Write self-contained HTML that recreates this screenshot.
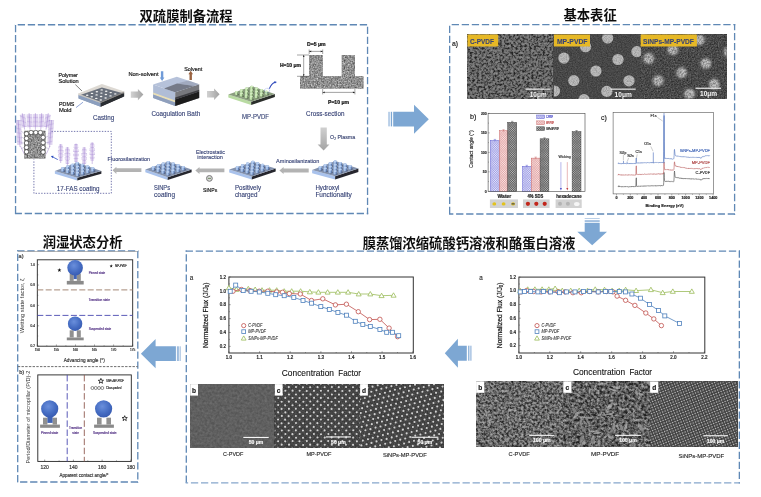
<!DOCTYPE html>
<html lang="zh"><head><meta charset="utf-8"><title>双疏膜制备流程</title>
<style>
html,body{margin:0;padding:0;background:#fff;}
body{width:761px;height:497px;overflow:hidden;position:relative;}
svg{position:absolute;left:0;top:0;display:block;}
text{font-family:"Liberation Sans","Noto Sans CJK SC",sans-serif;}
</style></head><body>
<svg width="761" height="497" viewBox="0 0 761 497">
<defs>
<filter id="tb2" x="-2%" y="-2%" width="104%" height="104%"><feGaussianBlur stdDeviation="0.25"/></filter>
<filter id="tb" x="-5%" y="-20%" width="110%" height="140%"><feGaussianBlur stdDeviation="0.3"/></filter>
<linearGradient id="gg" x1="0" y1="0" x2="1" y2="0"><stop offset="0" stop-color="#d2d2d2"/><stop offset="1" stop-color="#a2a2a2"/></linearGradient>
<linearGradient id="ggd" x1="0" y1="0" x2="0" y2="1"><stop offset="0" stop-color="#d0d0d0"/><stop offset="1" stop-color="#a4a4a4"/></linearGradient>
<filter id="nz" x="0" y="0" width="100%" height="100%" color-interpolation-filters="sRGB"><feTurbulence type="fractalNoise" baseFrequency="0.7" numOctaves="2" seed="3"/><feColorMatrix type="matrix" values="0.7 0 0 0 0.21  0.7 0 0 0 0.21  0.7 0 0 0 0.21  0 0 0 0 1"/><feGaussianBlur stdDeviation="0.4"/><feComposite operator="in" in2="SourceGraphic"/></filter>
<filter id="b3"><feGaussianBlur stdDeviation="0.35"/></filter>
<filter id="s1" x="0" y="0" width="100%" height="100%" color-interpolation-filters="sRGB"><feTurbulence type="fractalNoise" baseFrequency="0.44" numOctaves="3" seed="5"/><feColorMatrix type="matrix" values="1 0 0 0 0  1 0 0 0 0  1 0 0 0 0  0 0 0 0 1"/><feComponentTransfer><feFuncR type="table" tableValues="0.12 0.12 0.15 0.27 0.4 0.47 0.52 0.56 0.6"/><feFuncG type="table" tableValues="0.12 0.12 0.15 0.27 0.4 0.47 0.52 0.56 0.6"/><feFuncB type="table" tableValues="0.12 0.12 0.15 0.27 0.4 0.47 0.52 0.56 0.6"/></feComponentTransfer><feGaussianBlur stdDeviation="0.4"/></filter>
<filter id="s2" x="0" y="0" width="100%" height="100%" color-interpolation-filters="sRGB"><feTurbulence type="fractalNoise" baseFrequency="0.8" numOctaves="2" seed="8"/><feColorMatrix type="matrix" values="0.22 0 0 0 0.170  0.22 0 0 0 0.170  0.22 0 0 0 0.170  0 0 0 0 1"/><feGaussianBlur stdDeviation="0.35"/></filter>
<filter id="s3" x="0" y="0" width="100%" height="100%" color-interpolation-filters="sRGB"><feTurbulence type="fractalNoise" baseFrequency="0.7" numOctaves="2" seed="11"/><feColorMatrix type="matrix" values="0.4 0 0 0 0.085  0.4 0 0 0 0.085  0.4 0 0 0 0.085  0 0 0 0 1"/><feGaussianBlur stdDeviation="0.35"/></filter>
<filter id="cn" x="0" y="0" width="100%" height="100%" color-interpolation-filters="sRGB"><feTurbulence type="fractalNoise" baseFrequency="0.8" numOctaves="2" seed="4"/><feColorMatrix type="matrix" values="0 0 0 0 0.3  0 0 0 0 0.3  0 0 0 0 0.3  0.8 0 0 0 -0.3"/><feComposite operator="in" in2="SourceGraphic"/></filter>
<filter id="cn3" x="0" y="0" width="100%" height="100%" color-interpolation-filters="sRGB"><feTurbulence type="fractalNoise" baseFrequency="0.6" numOctaves="2" seed="9"/><feColorMatrix type="matrix" values="0 0 0 0 0.25  0 0 0 0 0.25  0 0 0 0 0.25  1.4 0 0 0 -0.5"/><feComposite operator="in" in2="SourceGraphic"/></filter>
<filter id="bl1" x="-30%" y="-30%" width="160%" height="160%"><feGaussianBlur stdDeviation="0.5"/></filter>
<filter id="bl2" x="-30%" y="-30%" width="160%" height="160%"><feGaussianBlur stdDeviation="1.1"/></filter>
<filter id="bl0" x="-10%" y="-10%" width="120%" height="120%"><feGaussianBlur stdDeviation="0.3"/></filter>
<clipPath id="c2"><rect x="553.9" y="34.5" width="87.0" height="64.4"/></clipPath>
<clipPath id="c3"><rect x="640.9" y="34.5" width="85.70000000000005" height="64.4"/></clipPath>
<pattern id="hb" width="1.6" height="1.6" patternUnits="userSpaceOnUse" patternTransform="rotate(45)"><rect width="1.6" height="1.6" fill="#ebebfb"/><path d="M0 0.4H1.6M0.4 0V1.6" stroke="#8080dc" stroke-width="0.4"/></pattern>
<pattern id="hr" width="1.6" height="1.6" patternUnits="userSpaceOnUse" patternTransform="rotate(45)"><rect width="1.6" height="1.6" fill="#fbecec"/><path d="M0 0.4H1.6M0.4 0V1.6" stroke="#d88888" stroke-width="0.4"/></pattern>
<pattern id="hg" width="1.6" height="1.6" patternUnits="userSpaceOnUse" patternTransform="rotate(45)"><rect width="1.6" height="1.6" fill="#bdbdbd"/><path d="M0 0.4H1.6M0.4 0V1.6" stroke="#4a4a4a" stroke-width="0.5"/></pattern>
<radialGradient id="dg" cx="0.42" cy="0.36" r="0.7"><stop offset="0" stop-color="#6a8fdc"/><stop offset="0.6" stop-color="#456cc2"/><stop offset="1" stop-color="#3558ae"/></radialGradient>
<filter id="blw" x="-10%" y="-10%" width="120%" height="120%"><feGaussianBlur stdDeviation="0.35"/></filter>
<filter id="blm" x="-10%" y="-10%" width="120%" height="120%"><feGaussianBlur stdDeviation="0.3"/></filter>
<filter id="m1" x="0" y="0" width="100%" height="100%" color-interpolation-filters="sRGB"><feTurbulence type="fractalNoise" baseFrequency="0.4" numOctaves="2" seed="21"/><feColorMatrix type="matrix" values="0.16 0 0 0 0.295  0.16 0 0 0 0.295  0.16 0 0 0 0.295  0 0 0 0 1"/><feGaussianBlur stdDeviation="0.4"/></filter>
<filter id="m2" x="0" y="0" width="100%" height="100%" color-interpolation-filters="sRGB"><feTurbulence type="fractalNoise" baseFrequency="0.7" numOctaves="2" seed="22"/><feColorMatrix type="matrix" values="0.22 0 0 0 0.160  0.22 0 0 0 0.160  0.22 0 0 0 0.160  0 0 0 0 1"/><feGaussianBlur stdDeviation="0.3"/></filter>
<filter id="m4" x="0" y="0" width="100%" height="100%" color-interpolation-filters="sRGB"><feTurbulence type="fractalNoise" baseFrequency="0.42" numOctaves="3" seed="25"/><feColorMatrix type="matrix" values="1 0 0 0 0  1 0 0 0 0  1 0 0 0 0  0 0 0 0 1"/><feComponentTransfer><feFuncR type="table" tableValues="0.13 0.13 0.17 0.28 0.41 0.53 0.62 0.68 0.7"/><feFuncG type="table" tableValues="0.13 0.13 0.17 0.28 0.41 0.53 0.62 0.68 0.7"/><feFuncB type="table" tableValues="0.13 0.13 0.17 0.28 0.41 0.53 0.62 0.68 0.7"/></feComponentTransfer><feGaussianBlur stdDeviation="0.4"/></filter>
<filter id="m5" x="0" y="0" width="100%" height="100%" color-interpolation-filters="sRGB"><feTurbulence type="fractalNoise" baseFrequency="0.36" numOctaves="3" seed="27"/><feColorMatrix type="matrix" values="1 0 0 0 0  1 0 0 0 0  1 0 0 0 0  0 0 0 0 1"/><feComponentTransfer><feFuncR type="table" tableValues="0.1 0.1 0.13 0.24 0.37 0.5 0.62 0.7 0.72"/><feFuncG type="table" tableValues="0.1 0.1 0.13 0.24 0.37 0.5 0.62 0.7 0.72"/><feFuncB type="table" tableValues="0.1 0.1 0.13 0.24 0.37 0.5 0.62 0.7 0.72"/></feComponentTransfer><feGaussianBlur stdDeviation="0.4"/></filter>
<filter id="m6" x="0" y="0" width="100%" height="100%" color-interpolation-filters="sRGB"><feTurbulence type="fractalNoise" baseFrequency="0.8" numOctaves="2" seed="29"/><feColorMatrix type="matrix" values="0.2 0 0 0 0.180  0.2 0 0 0 0.180  0.2 0 0 0 0.180  0 0 0 0 1"/><feGaussianBlur stdDeviation="0.3"/></filter>
<clipPath id="r10"><rect x="190.2" y="384.1" width="84.6" height="63.8"/></clipPath>
<clipPath id="r11"><rect x="274.8" y="384.1" width="85.3" height="63.8"/></clipPath>
<clipPath id="r12"><rect x="360.1" y="384.1" width="83.8" height="63.8"/></clipPath>
<clipPath id="r20"><rect x="476.1" y="381.4" width="87.2" height="65.0"/></clipPath>
<clipPath id="r21"><rect x="563.3" y="381.4" width="86.8" height="65.0"/></clipPath>
<clipPath id="r22"><rect x="650.1" y="381.4" width="87.0" height="65.0"/></clipPath>
</defs>
<g filter="url(#tb2)">
<path d="M14.90 24.75H368.20" fill="none" stroke="#5f88b5" stroke-width="1.3" stroke-dasharray="7.3 2.76" stroke-dashoffset="7.22"/>
<path d="M15.55 24.10V214.15" fill="none" stroke="#5f88b5" stroke-width="1.3" stroke-dasharray="7.3 2.76" stroke-dashoffset="9.19"/>
<path d="M367.55 24.10V214.15" fill="none" stroke="#5f88b5" stroke-width="1.3" stroke-dasharray="7.3 2.76" stroke-dashoffset="7.51"/>
<path d="M14.90 213.5H368.20" fill="none" stroke="#5f88b5" stroke-width="1.3" stroke-dasharray="7.3 2.76" stroke-dashoffset="0.26"/>
<path d="M449.00 24.7H735.25" fill="none" stroke="#5f88b5" stroke-width="1.3" stroke-dasharray="7.3 2.76" stroke-dashoffset="7.39"/>
<path d="M449.65 24.05V214.65" fill="none" stroke="#5f88b5" stroke-width="1.3" stroke-dasharray="7.3 2.76" stroke-dashoffset="8.41"/>
<path d="M734.6 24.05V214.65" fill="none" stroke="#5f88b5" stroke-width="1.3" stroke-dasharray="7.3 2.76" stroke-dashoffset="1.21"/>
<path d="M449.00 214.0H735.25" fill="none" stroke="#5f88b5" stroke-width="1.3" stroke-dasharray="7.3 2.76" stroke-dashoffset="2.96"/>
<path d="M185.65 251.1H740.00" fill="none" stroke="#5f88b5" stroke-width="1.3" stroke-dasharray="7.3 2.76" stroke-dashoffset="0.00"/>
<path d="M186.3 250.45V483.45" fill="none" stroke="#5f88b5" stroke-width="1.3" stroke-dasharray="7.3 2.76" stroke-dashoffset="6.21"/>
<path d="M739.35 250.45V483.45" fill="none" stroke="#5f88b5" stroke-width="1.3" stroke-dasharray="7.3 2.76" stroke-dashoffset="10.01"/>
<path d="M185.65 482.8H740.00" fill="none" stroke="#86a6cc" stroke-width="1.3" stroke-dasharray="7.3 2.76" stroke-dashoffset="4.81"/>
<path d="M17.05 250.8H138.45" fill="none" stroke="#5f88b5" stroke-width="1.3" stroke-dasharray="7.3 2.76" stroke-dashoffset="9.86"/>
<path d="M17.7 250.15V482.65" fill="none" stroke="#5f88b5" stroke-width="1.3" stroke-dasharray="7.3 2.76" stroke-dashoffset="6.51"/>
<path d="M137.8 250.15V482.65" fill="none" stroke="#5f88b5" stroke-width="1.3" stroke-dasharray="7.3 2.76" stroke-dashoffset="9.31"/>
<path d="M17.05 482.0H138.45" fill="none" stroke="#5f88b5" stroke-width="1.3" stroke-dasharray="7.3 2.76" stroke-dashoffset="7.05"/>
</g>
<g filter="url(#tb)">
<text x="186.1" y="20.6" text-anchor="middle" style="font-family:'Liberation Sans','Noto Sans CJK SC',sans-serif;font-weight:700;font-size:13.3px;fill:#111">双疏膜制备流程</text>
<text x="590.1" y="19.8" text-anchor="middle" style="font-family:'Liberation Sans','Noto Sans CJK SC',sans-serif;font-weight:700;font-size:13.3px;fill:#111">基本表征</text>
<text x="82.6" y="247" text-anchor="middle" style="font-family:'Liberation Sans','Noto Sans CJK SC',sans-serif;font-weight:700;font-size:13.3px;fill:#111">润湿状态分析</text>
<text x="469" y="247.6" text-anchor="middle" style="font-family:'Liberation Sans','Noto Sans CJK SC',sans-serif;font-weight:700;font-size:13.3px;fill:#111">膜蒸馏浓缩硫酸钙溶液和酪蛋白溶液</text>
</g>
<rect x="388.1" y="111.8" width="2.3" height="14.6" fill="#b9cfe8"/>
<rect x="391" y="111.8" width="1.1" height="14.6" fill="#7da7d3"/>
<path d="M393.2 111.8H414V104.7L428.8 119.2L414 133.7V126.4H393.2Z" fill="#7da7d3"/>
<rect x="584.7" y="218.2" width="15" height="0.8" fill="#a9c4e2"/>
<rect x="584.7" y="220.1" width="15" height="2.2" fill="#a3c0e0"/>
<path d="M584.7 222.9H599.7V231.8H607L592.2 245.2L577.3 231.8H584.7Z" fill="#7da7d3"/>
<path d="M466.8 345.7H457.9V338.7L444.8 353.2L457.9 367.7V360.7H466.8Z" fill="#7da7d3"/>
<rect x="468.2" y="345.7" width="1.1" height="15" fill="#7da7d3"/>
<rect x="469.7" y="345.7" width="2" height="15" fill="#b4cbe6"/>
<path d="M175.9 346.3H155.6V339.1L140.9 353.8L155.6 368.3V361H175.9Z" fill="#7da7d3"/>
<rect x="176.9" y="346.3" width="2" height="14.7" fill="#9dbbdd"/>
<rect x="179.6" y="346.3" width="1.1" height="14.7" fill="#9dbbdd"/>
<g filter="url(#b3)">
<polygon points="78.3,93.5 101.9,83.9 124.2,91.5 124.2,93.1 100.6,101.8 78.3,95.1" fill="#dcd8d2" />
<polygon points="79.5,95.2 100.6,103.1 100.6,106.7 79.5,98.8" fill="#8c9fbe" />
<polygon points="100.6,103.1 123.0,93.2 123.0,96.8 100.6,106.7" fill="#2c2d31" />
<polygon points="79.5,95.2 101.9,87.5 123.0,93.2 100.6,103.1" fill="#565e6d" />
<ellipse cx="101.7" cy="89.9" rx="1.3" ry="0.7" fill="#f4f4f4"/>
<ellipse cx="106.2" cy="91.3" rx="1.3" ry="0.7" fill="#f4f4f4"/>
<ellipse cx="96.9" cy="91.7" rx="1.3" ry="0.7" fill="#f4f4f4"/>
<ellipse cx="110.7" cy="92.6" rx="1.3" ry="0.7" fill="#f4f4f4"/>
<ellipse cx="101.4" cy="93.1" rx="1.3" ry="0.7" fill="#f4f4f4"/>
<ellipse cx="92.0" cy="93.4" rx="1.3" ry="0.7" fill="#f4f4f4"/>
<ellipse cx="115.3" cy="93.9" rx="1.3" ry="0.7" fill="#f4f4f4"/>
<ellipse cx="105.9" cy="94.5" rx="1.3" ry="0.7" fill="#f4f4f4"/>
<ellipse cx="96.6" cy="94.9" rx="1.3" ry="0.7" fill="#f4f4f4"/>
<ellipse cx="87.2" cy="95.2" rx="1.3" ry="0.7" fill="#f4f4f4"/>
<ellipse cx="110.5" cy="95.9" rx="1.3" ry="0.7" fill="#f4f4f4"/>
<ellipse cx="101.1" cy="96.5" rx="1.3" ry="0.7" fill="#f4f4f4"/>
<ellipse cx="91.8" cy="96.8" rx="1.3" ry="0.7" fill="#f4f4f4"/>
<ellipse cx="105.6" cy="98.0" rx="1.3" ry="0.7" fill="#f4f4f4"/>
<ellipse cx="96.3" cy="98.4" rx="1.3" ry="0.7" fill="#f4f4f4"/>
<ellipse cx="100.8" cy="100.0" rx="1.3" ry="0.7" fill="#f4f4f4"/>
<polygon points="78.3,95.0 79.5,95.2 100.6,103.1 100.6,106.7 78.3,98.6" fill="#8c9fbe" />
<polygon points="124.2,93.0 123.0,93.2 100.6,103.1 100.6,106.7 124.2,96.6" fill="#2c2d31" />
<polygon points="78.3,93.5 101.9,83.9 124.2,91.5 100.6,101.8" fill="#e6e2dc" opacity="0.14"/>
<polygon points="78.3,93.5 100.6,101.8 100.6,103.1 78.3,95.0" fill="#d9d5cc" opacity="0.85"/>
<polygon points="100.6,101.8 124.2,91.5 124.2,93.0 100.6,103.1" fill="#8c8a86" opacity="0.85"/>
<text x="58.4" y="77.3" font-size="5.6" fill="#1e1e1e" stroke="#1e1e1e" stroke-width="0.2" font-weight="400" text-anchor="start" textLength="19.5" lengthAdjust="spacingAndGlyphs" >Polymer</text>
<text x="58.4" y="83.3" font-size="5.6" fill="#1e1e1e" stroke="#1e1e1e" stroke-width="0.2" font-weight="400" text-anchor="start" textLength="20.3" lengthAdjust="spacingAndGlyphs" >Solution</text>
<path d="M75.4 84.6L82 91" stroke="#333" stroke-width="0.6"/>
<text x="59.0" y="106.0" font-size="5.6" fill="#1e1e1e" stroke="#1e1e1e" stroke-width="0.2" font-weight="400" text-anchor="start" textLength="15.4" lengthAdjust="spacingAndGlyphs" >PDMS</text>
<text x="59.0" y="112.0" font-size="5.6" fill="#1e1e1e" stroke="#1e1e1e" stroke-width="0.2" font-weight="400" text-anchor="start" textLength="12.6" lengthAdjust="spacingAndGlyphs" >Mold</text>
<path d="M76 107.6L83 102.2" stroke="#4a6cc0" stroke-width="0.6"/>
<text x="93.0" y="119.9" font-size="6.8" fill="#323e72" stroke="#323e72" stroke-width="0.12" font-weight="400" text-anchor="start" textLength="21.2" lengthAdjust="spacingAndGlyphs" >Casting</text>
<path d="M130.8 91.5H137.9V89.0L143.4 94.6L137.9 100.2V97.7H130.8Z" fill="url(#gg)"/>
<polygon points="153.1,84.6 175.2,92.2 175.2,106.0 153.1,98.1" fill="#b0bdd6" />
<polygon points="175.2,92.2 199.2,84.3 199.2,98.1 175.2,106.0" fill="#77787d" />
<polygon points="153.1,92.6 175.2,100.4 175.2,102.6 153.1,94.6" fill="#e9dfb6" />
<polygon points="153.1,94.6 175.2,102.6 175.2,106.0 153.1,98.1" fill="#8f9fbc" />
<polygon points="175.2,99.4 199.2,91.6 199.2,98.1 175.2,106.0" fill="#1d1d1f" />
<polygon points="175.2,97.6 199.2,89.8 199.2,91.6 175.2,99.4" fill="#3e3e42" />
<polygon points="153.1,84.6 176.8,76.8 199.2,84.3 175.2,92.2" fill="#b6c2da" />
<polygon points="164.0,88.4 177.0,83.6 194.5,86.0 175.2,92.2" fill="#6e727e" opacity="0.9"/>
<polygon points="177.0,83.6 188.5,80.6 199.2,84.3 194.5,86.0" fill="#8c92a4" opacity="0.5"/>
<text x="128.4" y="75.6" font-size="5.6" fill="#1e1e1e" stroke="#1e1e1e" stroke-width="0.2" font-weight="400" text-anchor="start" textLength="30.2" lengthAdjust="spacingAndGlyphs" >Non-solvent</text>
<path d="M160.9 71.2H163.3V77.4H164.4L162.1 80.9L159.8 77.4H160.9Z" fill="#6f9bd8"/>
<text x="184.2" y="70.8" font-size="5.6" fill="#1e1e1e" stroke="#1e1e1e" stroke-width="0.2" font-weight="400" text-anchor="start" textLength="18.0" lengthAdjust="spacingAndGlyphs" >Solvent</text>
<path d="M189.5 80.0V74.3H188.4L190.7 70.8L193 74.3H191.9V80.0Z" fill="#9a6340"/>
<text x="151.4" y="116.3" font-size="6.8" fill="#323e72" stroke="#323e72" stroke-width="0.12" font-weight="400" text-anchor="start" textLength="48.8" lengthAdjust="spacingAndGlyphs" >Coagulation Bath</text>
<path d="M207.0 91.0H214.1V88.4L219.6 94.2L214.1 100.0V97.4H207.0Z" fill="url(#gg)"/>
<polygon points="228.3,94.4 251.2,101.8 251.2,105.0 228.3,97.6" fill="#b9dba2" />
<polygon points="251.2,101.8 274.9,93.9 274.9,97.1 251.2,105.0" fill="#2a2d2a" />
<polygon points="228.3,94.4 251.9,86.3 274.9,93.9 251.2,101.8" fill="#8c9f80" />
<ellipse cx="252.7" cy="89.4" rx="1.7" ry="0.9" fill="#3a4a34" opacity="0.55"/>
<path d="M250.3 89.1V86.6A1.5 0.8 0 0 1 253.3 86.6V89.1A1.5 0.8 0 0 1 250.3 89.1Z" fill="#7f9e6e"/>
<path d="M250.3 89.1V86.6A1.5 0.8 0 0 1 252.2 86.0V89.8A1.5 0.8 0 0 1 250.3 89.1Z" fill="#c6e6b2"/>
<ellipse cx="251.8" cy="86.6" rx="1.5" ry="0.8" fill="#d4eec2"/>
<ellipse cx="257.6" cy="91.0" rx="1.7" ry="0.9" fill="#3a4a34" opacity="0.55"/>
<path d="M255.2 90.7V88.3A1.5 0.8 0 0 1 258.2 88.3V90.7A1.5 0.8 0 0 1 255.2 90.7Z" fill="#7f9e6e"/>
<path d="M255.2 90.7V88.3A1.5 0.8 0 0 1 257.2 87.6V91.5A1.5 0.8 0 0 1 255.2 90.7Z" fill="#c6e6b2"/>
<ellipse cx="256.7" cy="88.3" rx="1.5" ry="0.8" fill="#d4eec2"/>
<ellipse cx="247.6" cy="91.1" rx="1.7" ry="0.9" fill="#3a4a34" opacity="0.55"/>
<path d="M245.2 90.8V88.4A1.5 0.8 0 0 1 248.2 88.4V90.8A1.5 0.8 0 0 1 245.2 90.8Z" fill="#7f9e6e"/>
<path d="M245.2 90.8V88.4A1.5 0.8 0 0 1 247.2 87.7V91.6A1.5 0.8 0 0 1 245.2 90.8Z" fill="#c6e6b2"/>
<ellipse cx="246.7" cy="88.4" rx="1.5" ry="0.8" fill="#d4eec2"/>
<ellipse cx="262.6" cy="92.6" rx="1.7" ry="0.9" fill="#3a4a34" opacity="0.55"/>
<path d="M260.2 92.3V89.9A1.5 0.8 0 0 1 263.2 89.9V92.3A1.5 0.8 0 0 1 260.2 92.3Z" fill="#7f9e6e"/>
<path d="M260.2 92.3V89.9A1.5 0.8 0 0 1 262.1 89.2V93.1A1.5 0.8 0 0 1 260.2 92.3Z" fill="#c6e6b2"/>
<ellipse cx="261.7" cy="89.9" rx="1.5" ry="0.8" fill="#d4eec2"/>
<ellipse cx="252.5" cy="92.7" rx="1.7" ry="0.9" fill="#3a4a34" opacity="0.55"/>
<path d="M250.1 92.4V90.0A1.5 0.8 0 0 1 253.1 90.0V92.4A1.5 0.8 0 0 1 250.1 92.4Z" fill="#7f9e6e"/>
<path d="M250.1 92.4V90.0A1.5 0.8 0 0 1 252.1 89.3V93.2A1.5 0.8 0 0 1 250.1 92.4Z" fill="#c6e6b2"/>
<ellipse cx="251.6" cy="90.0" rx="1.5" ry="0.8" fill="#d4eec2"/>
<ellipse cx="242.5" cy="92.8" rx="1.7" ry="0.9" fill="#3a4a34" opacity="0.55"/>
<path d="M240.1 92.5V90.1A1.5 0.8 0 0 1 243.1 90.1V92.5A1.5 0.8 0 0 1 240.1 92.5Z" fill="#7f9e6e"/>
<path d="M240.1 92.5V90.1A1.5 0.8 0 0 1 242.1 89.4V93.3A1.5 0.8 0 0 1 240.1 92.5Z" fill="#c6e6b2"/>
<ellipse cx="241.6" cy="90.1" rx="1.5" ry="0.8" fill="#d4eec2"/>
<ellipse cx="267.5" cy="94.3" rx="1.7" ry="0.9" fill="#3a4a34" opacity="0.55"/>
<path d="M265.1 94.0V91.5A1.5 0.8 0 0 1 268.1 91.5V94.0A1.5 0.8 0 0 1 265.1 94.0Z" fill="#7f9e6e"/>
<path d="M265.1 94.0V91.5A1.5 0.8 0 0 1 267.1 90.9V94.7A1.5 0.8 0 0 1 265.1 94.0Z" fill="#c6e6b2"/>
<ellipse cx="266.6" cy="91.5" rx="1.5" ry="0.8" fill="#d4eec2"/>
<ellipse cx="257.5" cy="94.3" rx="1.7" ry="0.9" fill="#3a4a34" opacity="0.55"/>
<path d="M255.1 94.0V91.6A1.5 0.8 0 0 1 258.1 91.6V94.0A1.5 0.8 0 0 1 255.1 94.0Z" fill="#7f9e6e"/>
<path d="M255.1 94.0V91.6A1.5 0.8 0 0 1 257.0 90.9V94.8A1.5 0.8 0 0 1 255.1 94.0Z" fill="#c6e6b2"/>
<ellipse cx="256.6" cy="91.6" rx="1.5" ry="0.8" fill="#d4eec2"/>
<ellipse cx="247.5" cy="94.5" rx="1.7" ry="0.9" fill="#3a4a34" opacity="0.55"/>
<path d="M245.1 94.2V91.7A1.5 0.8 0 0 1 248.1 91.7V94.2A1.5 0.8 0 0 1 245.1 94.2Z" fill="#7f9e6e"/>
<path d="M245.1 94.2V91.7A1.5 0.8 0 0 1 247.0 91.1V94.9A1.5 0.8 0 0 1 245.1 94.2Z" fill="#c6e6b2"/>
<ellipse cx="246.6" cy="91.7" rx="1.5" ry="0.8" fill="#d4eec2"/>
<ellipse cx="237.5" cy="94.6" rx="1.7" ry="0.9" fill="#3a4a34" opacity="0.55"/>
<path d="M235.1 94.3V91.8A1.5 0.8 0 0 1 238.1 91.8V94.3A1.5 0.8 0 0 1 235.1 94.3Z" fill="#7f9e6e"/>
<path d="M235.1 94.3V91.8A1.5 0.8 0 0 1 237.0 91.2V95.0A1.5 0.8 0 0 1 235.1 94.3Z" fill="#c6e6b2"/>
<ellipse cx="236.6" cy="91.8" rx="1.5" ry="0.8" fill="#d4eec2"/>
<ellipse cx="262.4" cy="96.0" rx="1.7" ry="0.9" fill="#3a4a34" opacity="0.55"/>
<path d="M260.0 95.7V93.2A1.5 0.8 0 0 1 263.0 93.2V95.7A1.5 0.8 0 0 1 260.0 95.7Z" fill="#7f9e6e"/>
<path d="M260.0 95.7V93.2A1.5 0.8 0 0 1 262.0 92.6V96.4A1.5 0.8 0 0 1 260.0 95.7Z" fill="#c6e6b2"/>
<ellipse cx="261.5" cy="93.2" rx="1.5" ry="0.8" fill="#d4eec2"/>
<ellipse cx="252.4" cy="96.1" rx="1.7" ry="0.9" fill="#3a4a34" opacity="0.55"/>
<path d="M250.0 95.8V93.3A1.5 0.8 0 0 1 253.0 93.3V95.8A1.5 0.8 0 0 1 250.0 95.8Z" fill="#7f9e6e"/>
<path d="M250.0 95.8V93.3A1.5 0.8 0 0 1 251.9 92.7V96.5A1.5 0.8 0 0 1 250.0 95.8Z" fill="#c6e6b2"/>
<ellipse cx="251.5" cy="93.3" rx="1.5" ry="0.8" fill="#d4eec2"/>
<ellipse cx="242.4" cy="96.2" rx="1.7" ry="0.9" fill="#3a4a34" opacity="0.55"/>
<path d="M240.0 95.9V93.4A1.5 0.8 0 0 1 243.0 93.4V95.9A1.5 0.8 0 0 1 240.0 95.9Z" fill="#7f9e6e"/>
<path d="M240.0 95.9V93.4A1.5 0.8 0 0 1 241.9 92.8V96.6A1.5 0.8 0 0 1 240.0 95.9Z" fill="#c6e6b2"/>
<ellipse cx="241.5" cy="93.4" rx="1.5" ry="0.8" fill="#d4eec2"/>
<ellipse cx="257.3" cy="97.7" rx="1.7" ry="0.9" fill="#3a4a34" opacity="0.55"/>
<path d="M254.9 97.4V94.9A1.5 0.8 0 0 1 257.9 94.9V97.4A1.5 0.8 0 0 1 254.9 97.4Z" fill="#7f9e6e"/>
<path d="M254.9 97.4V94.9A1.5 0.8 0 0 1 256.9 94.3V98.1A1.5 0.8 0 0 1 254.9 97.4Z" fill="#c6e6b2"/>
<ellipse cx="256.4" cy="94.9" rx="1.5" ry="0.8" fill="#d4eec2"/>
<ellipse cx="247.3" cy="97.8" rx="1.7" ry="0.9" fill="#3a4a34" opacity="0.55"/>
<path d="M244.9 97.5V95.0A1.5 0.8 0 0 1 247.9 95.0V97.5A1.5 0.8 0 0 1 244.9 97.5Z" fill="#7f9e6e"/>
<path d="M244.9 97.5V95.0A1.5 0.8 0 0 1 246.9 94.4V98.2A1.5 0.8 0 0 1 244.9 97.5Z" fill="#c6e6b2"/>
<ellipse cx="246.4" cy="95.0" rx="1.5" ry="0.8" fill="#d4eec2"/>
<ellipse cx="252.2" cy="99.4" rx="1.7" ry="0.9" fill="#3a4a34" opacity="0.55"/>
<path d="M249.8 99.1V96.6A1.5 0.8 0 0 1 252.8 96.6V99.1A1.5 0.8 0 0 1 249.8 99.1Z" fill="#7f9e6e"/>
<path d="M249.8 99.1V96.6A1.5 0.8 0 0 1 251.8 96.0V99.8A1.5 0.8 0 0 1 249.8 99.1Z" fill="#c6e6b2"/>
<ellipse cx="251.3" cy="96.6" rx="1.5" ry="0.8" fill="#d4eec2"/>
<ellipse cx="267" cy="90.6" rx="2.6" ry="2.3" fill="none" stroke="#3a55c0" stroke-width="0.4" stroke-dasharray="0.8 0.6"/>
<path d="M269.4 88.6Q271.5 83.2 275.2 82.2" fill="none" stroke="#2c44b8" stroke-width="1.1"/>
<path d="M276.9 81.9L274.2 80.9L274.9 83.6Z" fill="#2f4fc0"/>
<text x="242.0" y="119.0" font-size="6.6" fill="#323e72" stroke="#323e72" stroke-width="0.12" font-weight="400" text-anchor="start" textLength="27.0" lengthAdjust="spacingAndGlyphs" >MP-PVDF</text>
<g><path d="M309.2 55H322.7V76.3H341.8V55H354.9V76.3H363.4V88.5H300V76.3H309.2Z" fill="#909090"/>
<path d="M309.2 55H322.7V76.3H341.8V55H354.9V76.3H363.4V88.5H300V76.3H309.2Z" fill="#3c3c3c" filter="url(#nz)"/></g>
<g stroke="#333" stroke-width="0.45" fill="none"><path d="M309.2 49.5V54M322.7 49.5V54M309.2 51.4H322.7M297 55H309M297 76.3H309M303.7 55V76.3M322.7 89V94.4M354.9 89V94.4M322.7 92.4H354.9"/></g>
<g fill="#222"><path d="M309.2 51.4l2-.8v1.6zM322.7 51.4l-2-.8v1.6zM303.7 55l-.8 2h1.6zM303.7 76.3l-.8-2h1.6zM322.7 92.4l2-.8v1.6zM354.9 92.4l-2-.8v1.6z"/></g>
<text x="307.0" y="46.3" font-size="5.0" fill="#111" stroke="#111" stroke-width="0.2" font-weight="700" text-anchor="start" textLength="18.6" lengthAdjust="spacingAndGlyphs" >D=5 μm</text>
<text x="280.0" y="67.2" font-size="5.0" fill="#111" stroke="#111" stroke-width="0.2" font-weight="700" text-anchor="start" textLength="21.0" lengthAdjust="spacingAndGlyphs" >H=10 μm</text>
<text x="328.0" y="103.6" font-size="5.0" fill="#111" stroke="#111" stroke-width="0.2" font-weight="700" text-anchor="start" textLength="21.0" lengthAdjust="spacingAndGlyphs" >P=10 μm</text>
<text x="306.1" y="115.6" font-size="6.6" fill="#323e72" stroke="#323e72" stroke-width="0.12" font-weight="400" text-anchor="start" textLength="38.4" lengthAdjust="spacingAndGlyphs" >Cross-section</text>
<path d="M320.5 127.4H326.8V144.6H329.4L323.6 150.5L317.6 144.6H320.5Z" fill="url(#ggd)"/>
<text x="330.1" y="138.6" font-size="5.6" fill="#2f3a6a" stroke="#2f3a6a" stroke-width="0.12" textLength="25" lengthAdjust="spacingAndGlyphs">O<tspan font-size="3.6" dy="1.2">2</tspan><tspan dy="-1.2"> Plasma</tspan></text>
<polygon points="312.1,169.9 335.1,176.2 335.1,179.6 312.1,173.3" fill="#a9c2ec" />
<polygon points="335.1,176.2 358.4,168.5 358.4,171.9 335.1,179.6" fill="#26282e" />
<polygon points="312.1,169.9 335.4,161.0 358.4,168.5 335.1,176.2" fill="#8593ae" />
<ellipse cx="336.2" cy="164.2" rx="1.8" ry="1.0" fill="#2f3d5a" opacity="0.55"/>
<path d="M333.7 163.9V161.3A1.6 0.9 0 0 1 336.9 161.3V163.9A1.6 0.9 0 0 1 333.7 163.9Z" fill="#5f7fb6"/>
<path d="M333.7 163.9V161.3A1.6 0.9 0 0 1 335.8 160.6V164.7A1.6 0.9 0 0 1 333.7 163.9Z" fill="#a9c3ea"/>
<ellipse cx="335.3" cy="161.3" rx="1.6" ry="0.9" fill="#bcd2f2"/>
<ellipse cx="341.2" cy="165.7" rx="1.8" ry="1.0" fill="#2f3d5a" opacity="0.55"/>
<path d="M338.7 165.4V162.8A1.6 0.9 0 0 1 341.9 162.8V165.4A1.6 0.9 0 0 1 338.7 165.4Z" fill="#5f7fb6"/>
<path d="M338.7 165.4V162.8A1.6 0.9 0 0 1 340.8 162.1V166.2A1.6 0.9 0 0 1 338.7 165.4Z" fill="#a9c3ea"/>
<ellipse cx="340.3" cy="162.8" rx="1.6" ry="0.9" fill="#bcd2f2"/>
<ellipse cx="331.2" cy="166.0" rx="1.8" ry="1.0" fill="#2f3d5a" opacity="0.55"/>
<path d="M328.7 165.7V163.1A1.6 0.9 0 0 1 331.9 163.1V165.7A1.6 0.9 0 0 1 328.7 165.7Z" fill="#5f7fb6"/>
<path d="M328.7 165.7V163.1A1.6 0.9 0 0 1 330.8 162.4V166.5A1.6 0.9 0 0 1 328.7 165.7Z" fill="#a9c3ea"/>
<ellipse cx="330.3" cy="163.1" rx="1.6" ry="0.9" fill="#bcd2f2"/>
<ellipse cx="346.1" cy="167.3" rx="1.8" ry="1.0" fill="#2f3d5a" opacity="0.55"/>
<path d="M343.6 167.0V164.4A1.6 0.9 0 0 1 346.8 164.4V167.0A1.6 0.9 0 0 1 343.6 167.0Z" fill="#5f7fb6"/>
<path d="M343.6 167.0V164.4A1.6 0.9 0 0 1 345.7 163.7V167.8A1.6 0.9 0 0 1 343.6 167.0Z" fill="#a9c3ea"/>
<ellipse cx="345.2" cy="164.4" rx="1.6" ry="0.9" fill="#bcd2f2"/>
<ellipse cx="336.2" cy="167.6" rx="1.8" ry="1.0" fill="#2f3d5a" opacity="0.55"/>
<path d="M333.7 167.3V164.7A1.6 0.9 0 0 1 336.9 164.7V167.3A1.6 0.9 0 0 1 333.7 167.3Z" fill="#5f7fb6"/>
<path d="M333.7 167.3V164.7A1.6 0.9 0 0 1 335.8 164.0V168.1A1.6 0.9 0 0 1 333.7 167.3Z" fill="#a9c3ea"/>
<ellipse cx="335.3" cy="164.7" rx="1.6" ry="0.9" fill="#bcd2f2"/>
<ellipse cx="326.2" cy="167.9" rx="1.8" ry="1.0" fill="#2f3d5a" opacity="0.55"/>
<path d="M323.7 167.6V165.0A1.6 0.9 0 0 1 326.9 165.0V167.6A1.6 0.9 0 0 1 323.7 167.6Z" fill="#5f7fb6"/>
<path d="M323.7 167.6V165.0A1.6 0.9 0 0 1 325.8 164.3V168.4A1.6 0.9 0 0 1 323.7 167.6Z" fill="#a9c3ea"/>
<ellipse cx="325.3" cy="165.0" rx="1.6" ry="0.9" fill="#bcd2f2"/>
<ellipse cx="351.1" cy="168.9" rx="1.8" ry="1.0" fill="#2f3d5a" opacity="0.55"/>
<path d="M348.6 168.6V166.0A1.6 0.9 0 0 1 351.8 166.0V168.6A1.6 0.9 0 0 1 348.6 168.6Z" fill="#5f7fb6"/>
<path d="M348.6 168.6V166.0A1.6 0.9 0 0 1 350.7 165.3V169.4A1.6 0.9 0 0 1 348.6 168.6Z" fill="#a9c3ea"/>
<ellipse cx="350.2" cy="166.0" rx="1.6" ry="0.9" fill="#bcd2f2"/>
<ellipse cx="341.1" cy="169.1" rx="1.8" ry="1.0" fill="#2f3d5a" opacity="0.55"/>
<path d="M338.6 168.8V166.2A1.6 0.9 0 0 1 341.8 166.2V168.8A1.6 0.9 0 0 1 338.6 168.8Z" fill="#5f7fb6"/>
<path d="M338.6 168.8V166.2A1.6 0.9 0 0 1 340.7 165.5V169.6A1.6 0.9 0 0 1 338.6 168.8Z" fill="#a9c3ea"/>
<ellipse cx="340.2" cy="166.2" rx="1.6" ry="0.9" fill="#bcd2f2"/>
<ellipse cx="331.2" cy="169.4" rx="1.8" ry="1.0" fill="#2f3d5a" opacity="0.55"/>
<path d="M328.7 169.1V166.5A1.6 0.9 0 0 1 331.9 166.5V169.1A1.6 0.9 0 0 1 328.7 169.1Z" fill="#5f7fb6"/>
<path d="M328.7 169.1V166.5A1.6 0.9 0 0 1 330.8 165.8V169.9A1.6 0.9 0 0 1 328.7 169.1Z" fill="#a9c3ea"/>
<ellipse cx="330.3" cy="166.5" rx="1.6" ry="0.9" fill="#bcd2f2"/>
<ellipse cx="321.2" cy="169.8" rx="1.8" ry="1.0" fill="#2f3d5a" opacity="0.55"/>
<path d="M318.7 169.5V166.9A1.6 0.9 0 0 1 321.9 166.9V169.5A1.6 0.9 0 0 1 318.7 169.5Z" fill="#5f7fb6"/>
<path d="M318.7 169.5V166.9A1.6 0.9 0 0 1 320.8 166.2V170.3A1.6 0.9 0 0 1 318.7 169.5Z" fill="#a9c3ea"/>
<ellipse cx="320.3" cy="166.9" rx="1.6" ry="0.9" fill="#bcd2f2"/>
<ellipse cx="346.1" cy="170.6" rx="1.8" ry="1.0" fill="#2f3d5a" opacity="0.55"/>
<path d="M343.6 170.3V167.7A1.6 0.9 0 0 1 346.8 167.7V170.3A1.6 0.9 0 0 1 343.6 170.3Z" fill="#5f7fb6"/>
<path d="M343.6 170.3V167.7A1.6 0.9 0 0 1 345.7 167.0V171.1A1.6 0.9 0 0 1 343.6 170.3Z" fill="#a9c3ea"/>
<ellipse cx="345.2" cy="167.7" rx="1.6" ry="0.9" fill="#bcd2f2"/>
<ellipse cx="336.1" cy="170.8" rx="1.8" ry="1.0" fill="#2f3d5a" opacity="0.55"/>
<path d="M333.6 170.5V167.9A1.6 0.9 0 0 1 336.8 167.9V170.5A1.6 0.9 0 0 1 333.6 170.5Z" fill="#5f7fb6"/>
<path d="M333.6 170.5V167.9A1.6 0.9 0 0 1 335.7 167.2V171.3A1.6 0.9 0 0 1 333.6 170.5Z" fill="#a9c3ea"/>
<ellipse cx="335.2" cy="167.9" rx="1.6" ry="0.9" fill="#bcd2f2"/>
<ellipse cx="326.2" cy="171.2" rx="1.8" ry="1.0" fill="#2f3d5a" opacity="0.55"/>
<path d="M323.7 170.9V168.3A1.6 0.9 0 0 1 326.9 168.3V170.9A1.6 0.9 0 0 1 323.7 170.9Z" fill="#5f7fb6"/>
<path d="M323.7 170.9V168.3A1.6 0.9 0 0 1 325.7 167.6V171.7A1.6 0.9 0 0 1 323.7 170.9Z" fill="#a9c3ea"/>
<ellipse cx="325.3" cy="168.3" rx="1.6" ry="0.9" fill="#bcd2f2"/>
<ellipse cx="341.1" cy="172.3" rx="1.8" ry="1.0" fill="#2f3d5a" opacity="0.55"/>
<path d="M338.6 172.0V169.4A1.6 0.9 0 0 1 341.8 169.4V172.0A1.6 0.9 0 0 1 338.6 172.0Z" fill="#5f7fb6"/>
<path d="M338.6 172.0V169.4A1.6 0.9 0 0 1 340.6 168.7V172.8A1.6 0.9 0 0 1 338.6 172.0Z" fill="#a9c3ea"/>
<ellipse cx="340.2" cy="169.4" rx="1.6" ry="0.9" fill="#bcd2f2"/>
<ellipse cx="331.1" cy="172.6" rx="1.8" ry="1.0" fill="#2f3d5a" opacity="0.55"/>
<path d="M328.6 172.3V169.7A1.6 0.9 0 0 1 331.8 169.7V172.3A1.6 0.9 0 0 1 328.6 172.3Z" fill="#5f7fb6"/>
<path d="M328.6 172.3V169.7A1.6 0.9 0 0 1 330.7 169.0V173.1A1.6 0.9 0 0 1 328.6 172.3Z" fill="#a9c3ea"/>
<ellipse cx="330.2" cy="169.7" rx="1.6" ry="0.9" fill="#bcd2f2"/>
<ellipse cx="336.1" cy="174.0" rx="1.8" ry="1.0" fill="#2f3d5a" opacity="0.55"/>
<path d="M333.6 173.7V171.1A1.6 0.9 0 0 1 336.8 171.1V173.7A1.6 0.9 0 0 1 333.6 173.7Z" fill="#5f7fb6"/>
<path d="M333.6 173.7V171.1A1.6 0.9 0 0 1 335.6 170.4V174.5A1.6 0.9 0 0 1 333.6 173.7Z" fill="#a9c3ea"/>
<ellipse cx="335.2" cy="171.1" rx="1.6" ry="0.9" fill="#bcd2f2"/>
<text x="315.4" y="190.2" font-size="6.4" fill="#323e72" stroke="#323e72" stroke-width="0.12" font-weight="400" text-anchor="start" textLength="24.0" lengthAdjust="spacingAndGlyphs" >Hydroxyl</text>
<text x="315.4" y="196.6" font-size="6.4" fill="#323e72" stroke="#323e72" stroke-width="0.12" font-weight="400" text-anchor="start" textLength="36.3" lengthAdjust="spacingAndGlyphs" >Functionality</text>
<text x="276.1" y="162.8" font-size="5.6" fill="#323e72" stroke="#323e72" stroke-width="0.12" font-weight="400" text-anchor="start" textLength="43.2" lengthAdjust="spacingAndGlyphs" >Aminosilanization</text>
<path d="M308.7 168.4H283.6V166.9L279.4 170.4L283.6 174.0V172.6H308.7Z" fill="#b3b3b3"/>
<polygon points="229.2,169.6 251.8,176.5 251.8,179.5 229.2,172.6" fill="#a9c2ec" />
<polygon points="251.8,176.5 275.7,168.6 275.7,171.6 251.8,179.5" fill="#26282e" />
<polygon points="229.2,169.6 253.1,161.7 275.7,168.6 251.8,176.5" fill="#8593ae" />
<ellipse cx="253.8" cy="164.6" rx="1.8" ry="1.0" fill="#2f3d5a" opacity="0.55"/>
<path d="M251.3 164.3V161.7A1.6 0.9 0 0 1 254.5 161.7V164.3A1.6 0.9 0 0 1 251.3 164.3Z" fill="#5f7fb6"/>
<path d="M251.3 164.3V161.7A1.6 0.9 0 0 1 253.3 161.0V165.1A1.6 0.9 0 0 1 251.3 164.3Z" fill="#a9c3ea"/>
<ellipse cx="252.9" cy="161.7" rx="1.6" ry="0.9" fill="#bcd2f2"/>
<ellipse cx="258.6" cy="166.1" rx="1.8" ry="1.0" fill="#2f3d5a" opacity="0.55"/>
<path d="M256.1 165.8V163.2A1.6 0.9 0 0 1 259.3 163.2V165.8A1.6 0.9 0 0 1 256.1 165.8Z" fill="#5f7fb6"/>
<path d="M256.1 165.8V163.2A1.6 0.9 0 0 1 258.2 162.5V166.6A1.6 0.9 0 0 1 256.1 165.8Z" fill="#a9c3ea"/>
<ellipse cx="257.7" cy="163.2" rx="1.6" ry="0.9" fill="#bcd2f2"/>
<ellipse cx="248.6" cy="166.3" rx="1.8" ry="1.0" fill="#2f3d5a" opacity="0.55"/>
<path d="M246.1 166.0V163.4A1.6 0.9 0 0 1 249.3 163.4V166.0A1.6 0.9 0 0 1 246.1 166.0Z" fill="#5f7fb6"/>
<path d="M246.1 166.0V163.4A1.6 0.9 0 0 1 248.2 162.7V166.8A1.6 0.9 0 0 1 246.1 166.0Z" fill="#a9c3ea"/>
<ellipse cx="247.7" cy="163.4" rx="1.6" ry="0.9" fill="#bcd2f2"/>
<ellipse cx="263.5" cy="167.6" rx="1.8" ry="1.0" fill="#2f3d5a" opacity="0.55"/>
<path d="M261.0 167.3V164.7A1.6 0.9 0 0 1 264.2 164.7V167.3A1.6 0.9 0 0 1 261.0 167.3Z" fill="#5f7fb6"/>
<path d="M261.0 167.3V164.7A1.6 0.9 0 0 1 263.1 164.0V168.1A1.6 0.9 0 0 1 261.0 167.3Z" fill="#a9c3ea"/>
<ellipse cx="262.6" cy="164.7" rx="1.6" ry="0.9" fill="#bcd2f2"/>
<ellipse cx="253.5" cy="167.8" rx="1.8" ry="1.0" fill="#2f3d5a" opacity="0.55"/>
<path d="M251.0 167.5V164.9A1.6 0.9 0 0 1 254.2 164.9V167.5A1.6 0.9 0 0 1 251.0 167.5Z" fill="#5f7fb6"/>
<path d="M251.0 167.5V164.9A1.6 0.9 0 0 1 253.1 164.2V168.3A1.6 0.9 0 0 1 251.0 167.5Z" fill="#a9c3ea"/>
<ellipse cx="252.6" cy="164.9" rx="1.6" ry="0.9" fill="#bcd2f2"/>
<ellipse cx="243.5" cy="168.0" rx="1.8" ry="1.0" fill="#2f3d5a" opacity="0.55"/>
<path d="M241.0 167.7V165.1A1.6 0.9 0 0 1 244.2 165.1V167.7A1.6 0.9 0 0 1 241.0 167.7Z" fill="#5f7fb6"/>
<path d="M241.0 167.7V165.1A1.6 0.9 0 0 1 243.1 164.4V168.5A1.6 0.9 0 0 1 241.0 167.7Z" fill="#a9c3ea"/>
<ellipse cx="242.6" cy="165.1" rx="1.6" ry="0.9" fill="#bcd2f2"/>
<ellipse cx="268.3" cy="169.1" rx="1.8" ry="1.0" fill="#2f3d5a" opacity="0.55"/>
<path d="M265.8 168.8V166.2A1.6 0.9 0 0 1 269.0 166.2V168.8A1.6 0.9 0 0 1 265.8 168.8Z" fill="#5f7fb6"/>
<path d="M265.8 168.8V166.2A1.6 0.9 0 0 1 267.9 165.5V169.6A1.6 0.9 0 0 1 265.8 168.8Z" fill="#a9c3ea"/>
<ellipse cx="267.4" cy="166.2" rx="1.6" ry="0.9" fill="#bcd2f2"/>
<ellipse cx="258.3" cy="169.3" rx="1.8" ry="1.0" fill="#2f3d5a" opacity="0.55"/>
<path d="M255.8 169.0V166.4A1.6 0.9 0 0 1 259.0 166.4V169.0A1.6 0.9 0 0 1 255.8 169.0Z" fill="#5f7fb6"/>
<path d="M255.8 169.0V166.4A1.6 0.9 0 0 1 257.9 165.7V169.8A1.6 0.9 0 0 1 255.8 169.0Z" fill="#a9c3ea"/>
<ellipse cx="257.4" cy="166.4" rx="1.6" ry="0.9" fill="#bcd2f2"/>
<ellipse cx="248.4" cy="169.5" rx="1.8" ry="1.0" fill="#2f3d5a" opacity="0.55"/>
<path d="M245.9 169.2V166.6A1.6 0.9 0 0 1 249.1 166.6V169.2A1.6 0.9 0 0 1 245.9 169.2Z" fill="#5f7fb6"/>
<path d="M245.9 169.2V166.6A1.6 0.9 0 0 1 247.9 165.9V170.0A1.6 0.9 0 0 1 245.9 169.2Z" fill="#a9c3ea"/>
<ellipse cx="247.5" cy="166.6" rx="1.6" ry="0.9" fill="#bcd2f2"/>
<ellipse cx="238.4" cy="169.7" rx="1.8" ry="1.0" fill="#2f3d5a" opacity="0.55"/>
<path d="M235.9 169.4V166.8A1.6 0.9 0 0 1 239.1 166.8V169.4A1.6 0.9 0 0 1 235.9 169.4Z" fill="#5f7fb6"/>
<path d="M235.9 169.4V166.8A1.6 0.9 0 0 1 237.9 166.1V170.2A1.6 0.9 0 0 1 235.9 169.4Z" fill="#a9c3ea"/>
<ellipse cx="237.5" cy="166.8" rx="1.6" ry="0.9" fill="#bcd2f2"/>
<ellipse cx="263.2" cy="170.8" rx="1.8" ry="1.0" fill="#2f3d5a" opacity="0.55"/>
<path d="M260.7 170.5V167.9A1.6 0.9 0 0 1 263.9 167.9V170.5A1.6 0.9 0 0 1 260.7 170.5Z" fill="#5f7fb6"/>
<path d="M260.7 170.5V167.9A1.6 0.9 0 0 1 262.8 167.2V171.3A1.6 0.9 0 0 1 260.7 170.5Z" fill="#a9c3ea"/>
<ellipse cx="262.3" cy="167.9" rx="1.6" ry="0.9" fill="#bcd2f2"/>
<ellipse cx="253.2" cy="171.0" rx="1.8" ry="1.0" fill="#2f3d5a" opacity="0.55"/>
<path d="M250.7 170.7V168.1A1.6 0.9 0 0 1 253.9 168.1V170.7A1.6 0.9 0 0 1 250.7 170.7Z" fill="#5f7fb6"/>
<path d="M250.7 170.7V168.1A1.6 0.9 0 0 1 252.8 167.4V171.5A1.6 0.9 0 0 1 250.7 170.7Z" fill="#a9c3ea"/>
<ellipse cx="252.3" cy="168.1" rx="1.6" ry="0.9" fill="#bcd2f2"/>
<ellipse cx="243.2" cy="171.2" rx="1.8" ry="1.0" fill="#2f3d5a" opacity="0.55"/>
<path d="M240.7 170.9V168.3A1.6 0.9 0 0 1 243.9 168.3V170.9A1.6 0.9 0 0 1 240.7 170.9Z" fill="#5f7fb6"/>
<path d="M240.7 170.9V168.3A1.6 0.9 0 0 1 242.8 167.6V171.7A1.6 0.9 0 0 1 240.7 170.9Z" fill="#a9c3ea"/>
<ellipse cx="242.3" cy="168.3" rx="1.6" ry="0.9" fill="#bcd2f2"/>
<ellipse cx="258.1" cy="172.5" rx="1.8" ry="1.0" fill="#2f3d5a" opacity="0.55"/>
<path d="M255.6 172.2V169.6A1.6 0.9 0 0 1 258.8 169.6V172.2A1.6 0.9 0 0 1 255.6 172.2Z" fill="#5f7fb6"/>
<path d="M255.6 172.2V169.6A1.6 0.9 0 0 1 257.6 168.9V173.0A1.6 0.9 0 0 1 255.6 172.2Z" fill="#a9c3ea"/>
<ellipse cx="257.2" cy="169.6" rx="1.6" ry="0.9" fill="#bcd2f2"/>
<ellipse cx="248.1" cy="172.7" rx="1.8" ry="1.0" fill="#2f3d5a" opacity="0.55"/>
<path d="M245.6 172.4V169.8A1.6 0.9 0 0 1 248.8 169.8V172.4A1.6 0.9 0 0 1 245.6 172.4Z" fill="#5f7fb6"/>
<path d="M245.6 172.4V169.8A1.6 0.9 0 0 1 247.7 169.1V173.2A1.6 0.9 0 0 1 245.6 172.4Z" fill="#a9c3ea"/>
<ellipse cx="247.2" cy="169.8" rx="1.6" ry="0.9" fill="#bcd2f2"/>
<ellipse cx="252.9" cy="174.2" rx="1.8" ry="1.0" fill="#2f3d5a" opacity="0.55"/>
<path d="M250.4 173.9V171.3A1.6 0.9 0 0 1 253.6 171.3V173.9A1.6 0.9 0 0 1 250.4 173.9Z" fill="#5f7fb6"/>
<path d="M250.4 173.9V171.3A1.6 0.9 0 0 1 252.5 170.6V174.7A1.6 0.9 0 0 1 250.4 173.9Z" fill="#a9c3ea"/>
<ellipse cx="252.0" cy="171.3" rx="1.6" ry="0.9" fill="#bcd2f2"/>
<text x="234.9" y="190.2" font-size="6.4" fill="#323e72" stroke="#323e72" stroke-width="0.12" font-weight="400" text-anchor="start" textLength="26.1" lengthAdjust="spacingAndGlyphs" >Positively</text>
<text x="234.9" y="196.8" font-size="6.4" fill="#323e72" stroke="#323e72" stroke-width="0.12" font-weight="400" text-anchor="start" textLength="22.6" lengthAdjust="spacingAndGlyphs" >charged</text>
<text x="195.9" y="153.5" font-size="5.6" fill="#323e72" stroke="#323e72" stroke-width="0.12" font-weight="400" text-anchor="start" textLength="29.0" lengthAdjust="spacingAndGlyphs" >Electrostatic</text>
<text x="197.3" y="159.3" font-size="5.6" fill="#323e72" stroke="#323e72" stroke-width="0.12" font-weight="400" text-anchor="start" textLength="25.6" lengthAdjust="spacingAndGlyphs" >interaction</text>
<path d="M224.4 168.6H199.5V166.9L195.3 170.4L199.5 173.9V172.2H224.4Z" fill="#b3b3b3"/>
<circle cx="209.4" cy="178.4" r="2.9" fill="#d8d8d8" stroke="#7a7a7a" stroke-width="1"/><path d="M207.8 178.4H211" stroke="#5a7a4a" stroke-width="0.8"/>
<text x="203.1" y="192.2" font-size="5.6" fill="#1e1e1e" stroke="#1e1e1e" stroke-width="0.2" font-weight="400" text-anchor="start" textLength="14.1" lengthAdjust="spacingAndGlyphs" >SiNPs</text>
<polygon points="145.3,169.6 167.7,177.2 167.7,179.9 145.3,172.3" fill="#a9c2ec" />
<polygon points="167.7,177.2 191.6,169.6 191.6,172.3 167.7,179.9" fill="#26282e" />
<polygon points="145.3,169.6 168.3,161.6 191.6,169.6 167.7,177.2" fill="#8593ae" />
<ellipse cx="169.2" cy="164.7" rx="1.8" ry="1.0" fill="#2f3d5a" opacity="0.55"/>
<path d="M166.7 164.4V161.8A1.6 0.9 0 0 1 169.9 161.8V164.4A1.6 0.9 0 0 1 166.7 164.4Z" fill="#5f7fb6"/>
<path d="M166.7 164.4V161.8A1.6 0.9 0 0 1 168.8 161.1V165.2A1.6 0.9 0 0 1 166.7 164.4Z" fill="#a9c3ea"/>
<ellipse cx="168.3" cy="161.8" rx="1.6" ry="0.9" fill="#bcd2f2"/>
<ellipse cx="174.2" cy="166.4" rx="1.8" ry="1.0" fill="#2f3d5a" opacity="0.55"/>
<path d="M171.7 166.1V163.5A1.6 0.9 0 0 1 174.9 163.5V166.1A1.6 0.9 0 0 1 171.7 166.1Z" fill="#5f7fb6"/>
<path d="M171.7 166.1V163.5A1.6 0.9 0 0 1 173.8 162.8V166.9A1.6 0.9 0 0 1 171.7 166.1Z" fill="#a9c3ea"/>
<ellipse cx="173.3" cy="163.5" rx="1.6" ry="0.9" fill="#bcd2f2"/>
<ellipse cx="164.2" cy="166.4" rx="1.8" ry="1.0" fill="#2f3d5a" opacity="0.55"/>
<path d="M161.7 166.1V163.5A1.6 0.9 0 0 1 164.9 163.5V166.1A1.6 0.9 0 0 1 161.7 166.1Z" fill="#5f7fb6"/>
<path d="M161.7 166.1V163.5A1.6 0.9 0 0 1 163.8 162.8V166.9A1.6 0.9 0 0 1 161.7 166.1Z" fill="#a9c3ea"/>
<ellipse cx="163.3" cy="163.5" rx="1.6" ry="0.9" fill="#bcd2f2"/>
<ellipse cx="169.2" cy="168.1" rx="1.8" ry="1.0" fill="#2f3d5a" opacity="0.55"/>
<path d="M166.7 167.8V165.2A1.6 0.9 0 0 1 169.9 165.2V167.8A1.6 0.9 0 0 1 166.7 167.8Z" fill="#5f7fb6"/>
<path d="M166.7 167.8V165.2A1.6 0.9 0 0 1 168.8 164.5V168.6A1.6 0.9 0 0 1 166.7 167.8Z" fill="#a9c3ea"/>
<ellipse cx="168.3" cy="165.2" rx="1.6" ry="0.9" fill="#bcd2f2"/>
<ellipse cx="179.2" cy="168.1" rx="1.8" ry="1.0" fill="#2f3d5a" opacity="0.55"/>
<path d="M176.7 167.8V165.2A1.6 0.9 0 0 1 179.9 165.2V167.8A1.6 0.9 0 0 1 176.7 167.8Z" fill="#5f7fb6"/>
<path d="M176.7 167.8V165.2A1.6 0.9 0 0 1 178.8 164.5V168.6A1.6 0.9 0 0 1 176.7 167.8Z" fill="#a9c3ea"/>
<ellipse cx="178.3" cy="165.2" rx="1.6" ry="0.9" fill="#bcd2f2"/>
<ellipse cx="159.3" cy="168.1" rx="1.8" ry="1.0" fill="#2f3d5a" opacity="0.55"/>
<path d="M156.8 167.8V165.2A1.6 0.9 0 0 1 160.0 165.2V167.8A1.6 0.9 0 0 1 156.8 167.8Z" fill="#5f7fb6"/>
<path d="M156.8 167.8V165.2A1.6 0.9 0 0 1 158.8 164.5V168.6A1.6 0.9 0 0 1 156.8 167.8Z" fill="#a9c3ea"/>
<ellipse cx="158.4" cy="165.2" rx="1.6" ry="0.9" fill="#bcd2f2"/>
<ellipse cx="164.2" cy="169.8" rx="1.8" ry="1.0" fill="#2f3d5a" opacity="0.55"/>
<path d="M161.7 169.5V166.9A1.6 0.9 0 0 1 164.9 166.9V169.5A1.6 0.9 0 0 1 161.7 169.5Z" fill="#5f7fb6"/>
<path d="M161.7 169.5V166.9A1.6 0.9 0 0 1 163.7 166.2V170.3A1.6 0.9 0 0 1 161.7 169.5Z" fill="#a9c3ea"/>
<ellipse cx="163.3" cy="166.9" rx="1.6" ry="0.9" fill="#bcd2f2"/>
<ellipse cx="174.1" cy="169.8" rx="1.8" ry="1.0" fill="#2f3d5a" opacity="0.55"/>
<path d="M171.6 169.5V166.9A1.6 0.9 0 0 1 174.8 166.9V169.5A1.6 0.9 0 0 1 171.6 169.5Z" fill="#5f7fb6"/>
<path d="M171.6 169.5V166.9A1.6 0.9 0 0 1 173.7 166.2V170.3A1.6 0.9 0 0 1 171.6 169.5Z" fill="#a9c3ea"/>
<ellipse cx="173.2" cy="166.9" rx="1.6" ry="0.9" fill="#bcd2f2"/>
<ellipse cx="184.2" cy="169.8" rx="1.8" ry="1.0" fill="#2f3d5a" opacity="0.55"/>
<path d="M181.7 169.5V166.9A1.6 0.9 0 0 1 184.9 166.9V169.5A1.6 0.9 0 0 1 181.7 169.5Z" fill="#5f7fb6"/>
<path d="M181.7 169.5V166.9A1.6 0.9 0 0 1 183.7 166.2V170.3A1.6 0.9 0 0 1 181.7 169.5Z" fill="#a9c3ea"/>
<ellipse cx="183.3" cy="166.9" rx="1.6" ry="0.9" fill="#bcd2f2"/>
<ellipse cx="154.3" cy="169.8" rx="1.8" ry="1.0" fill="#2f3d5a" opacity="0.55"/>
<path d="M151.8 169.5V166.9A1.6 0.9 0 0 1 155.0 166.9V169.5A1.6 0.9 0 0 1 151.8 169.5Z" fill="#5f7fb6"/>
<path d="M151.8 169.5V166.9A1.6 0.9 0 0 1 153.9 166.2V170.3A1.6 0.9 0 0 1 151.8 169.5Z" fill="#a9c3ea"/>
<ellipse cx="153.4" cy="166.9" rx="1.6" ry="0.9" fill="#bcd2f2"/>
<ellipse cx="169.1" cy="171.5" rx="1.8" ry="1.0" fill="#2f3d5a" opacity="0.55"/>
<path d="M166.6 171.2V168.6A1.6 0.9 0 0 1 169.8 168.6V171.2A1.6 0.9 0 0 1 166.6 171.2Z" fill="#5f7fb6"/>
<path d="M166.6 171.2V168.6A1.6 0.9 0 0 1 168.6 167.9V172.0A1.6 0.9 0 0 1 166.6 171.2Z" fill="#a9c3ea"/>
<ellipse cx="168.2" cy="168.6" rx="1.6" ry="0.9" fill="#bcd2f2"/>
<ellipse cx="159.1" cy="171.5" rx="1.8" ry="1.0" fill="#2f3d5a" opacity="0.55"/>
<path d="M156.6 171.2V168.6A1.6 0.9 0 0 1 159.8 168.6V171.2A1.6 0.9 0 0 1 156.6 171.2Z" fill="#5f7fb6"/>
<path d="M156.6 171.2V168.6A1.6 0.9 0 0 1 158.7 167.9V172.0A1.6 0.9 0 0 1 156.6 171.2Z" fill="#a9c3ea"/>
<ellipse cx="158.2" cy="168.6" rx="1.6" ry="0.9" fill="#bcd2f2"/>
<ellipse cx="179.0" cy="171.5" rx="1.8" ry="1.0" fill="#2f3d5a" opacity="0.55"/>
<path d="M176.5 171.2V168.6A1.6 0.9 0 0 1 179.7 168.6V171.2A1.6 0.9 0 0 1 176.5 171.2Z" fill="#5f7fb6"/>
<path d="M176.5 171.2V168.6A1.6 0.9 0 0 1 178.6 167.9V172.0A1.6 0.9 0 0 1 176.5 171.2Z" fill="#a9c3ea"/>
<ellipse cx="178.1" cy="168.6" rx="1.6" ry="0.9" fill="#bcd2f2"/>
<ellipse cx="173.9" cy="173.1" rx="1.8" ry="1.0" fill="#2f3d5a" opacity="0.55"/>
<path d="M171.4 172.8V170.2A1.6 0.9 0 0 1 174.6 170.2V172.8A1.6 0.9 0 0 1 171.4 172.8Z" fill="#5f7fb6"/>
<path d="M171.4 172.8V170.2A1.6 0.9 0 0 1 173.5 169.5V173.6A1.6 0.9 0 0 1 171.4 172.8Z" fill="#a9c3ea"/>
<ellipse cx="173.0" cy="170.2" rx="1.6" ry="0.9" fill="#bcd2f2"/>
<ellipse cx="164.0" cy="173.1" rx="1.8" ry="1.0" fill="#2f3d5a" opacity="0.55"/>
<path d="M161.5 172.8V170.2A1.6 0.9 0 0 1 164.7 170.2V172.8A1.6 0.9 0 0 1 161.5 172.8Z" fill="#5f7fb6"/>
<path d="M161.5 172.8V170.2A1.6 0.9 0 0 1 163.6 169.5V173.6A1.6 0.9 0 0 1 161.5 172.8Z" fill="#a9c3ea"/>
<ellipse cx="163.1" cy="170.2" rx="1.6" ry="0.9" fill="#bcd2f2"/>
<ellipse cx="168.8" cy="174.8" rx="1.8" ry="1.0" fill="#2f3d5a" opacity="0.55"/>
<path d="M166.3 174.5V171.9A1.6 0.9 0 0 1 169.5 171.9V174.5A1.6 0.9 0 0 1 166.3 174.5Z" fill="#5f7fb6"/>
<path d="M166.3 174.5V171.9A1.6 0.9 0 0 1 168.4 171.2V175.3A1.6 0.9 0 0 1 166.3 174.5Z" fill="#a9c3ea"/>
<ellipse cx="167.9" cy="171.9" rx="1.6" ry="0.9" fill="#bcd2f2"/>
<text x="154.1" y="190.2" font-size="6.4" fill="#323e72" stroke="#323e72" stroke-width="0.12" font-weight="400" text-anchor="start" textLength="16.0" lengthAdjust="spacingAndGlyphs" >SiNPs</text>
<text x="154.1" y="197.0" font-size="6.4" fill="#323e72" stroke="#323e72" stroke-width="0.12" font-weight="400" text-anchor="start" textLength="20.9" lengthAdjust="spacingAndGlyphs" >coating</text>
<text x="107.6" y="161.4" font-size="5.6" fill="#323e72" stroke="#323e72" stroke-width="0.12" font-weight="400" text-anchor="start" textLength="42.4" lengthAdjust="spacingAndGlyphs" >Fluorosilanization</text>
<path d="M141.4 168.3H116.4V166.7L112.5 170.3L116.4 173.9V171.9H141.4Z" fill="#b3b3b3"/>
<path d="M51.5 131.4H111.3V193.3H33.9V159.5" fill="none" stroke="#4a4e94" stroke-width="0.75" stroke-dasharray="1.4 1.4"/>
<g stroke="#9674cc" stroke-width="0.5" fill="none" opacity="0.9" transform="rotate(0 60.7 163.0)"><path d="M60.7 144.0V163.0M59.0 145.0H62.4M58.5 146.4H62.9M58.2 147.8H63.2M58.7 149.2H62.7M57.9 150.6H63.5M57.8 152.0H63.6M58.7 153.4H62.7M58.0 154.8H63.4M58.2 156.2H63.2M58.9 157.6H62.5M58.7 159.0H62.7M59.0 160.4H62.4"/></g>
<g stroke="#9674cc" stroke-width="0.5" fill="none" opacity="0.9" transform="rotate(0 67.4 166.0)"><path d="M67.4 147.0V166.0M65.7 148.0H69.1M65.2 149.4H69.6M64.9 150.8H69.9M65.4 152.2H69.4M64.6 153.6H70.2M64.5 155.0H70.3M65.4 156.4H69.4M64.7 157.8H70.1M64.9 159.2H69.9M65.6 160.6H69.2M65.4 162.0H69.4M65.7 163.4H69.1"/></g>
<g stroke="#9674cc" stroke-width="0.5" fill="none" opacity="0.9" transform="rotate(0 76.0 164.0)"><path d="M76.0 143.5V164.0M74.3 144.5H77.7M73.9 145.9H78.1M73.6 147.3H78.4M74.1 148.7H77.9M73.2 150.1H78.8M73.2 151.5H78.8M74.0 152.9H78.0M73.2 154.3H78.8M73.3 155.7H78.7M74.1 157.1H77.9M73.8 158.5H78.2M74.0 159.9H78.0M74.3 161.3H77.7"/></g>
<g stroke="#9674cc" stroke-width="0.5" fill="none" opacity="0.9" transform="rotate(0 84.2 167.0)"><path d="M84.2 147.0V167.0M82.5 148.0H85.9M82.0 149.4H86.4M81.8 150.8H86.6M82.3 152.2H86.1M81.4 153.6H87.0M81.3 155.0H87.1M82.2 156.4H86.2M81.4 157.8H87.0M81.6 159.2H86.8M82.3 160.6H86.1M82.0 162.0H86.4M82.3 163.4H86.1"/></g>
<g stroke="#9674cc" stroke-width="0.5" fill="none" opacity="0.9" transform="rotate(0 92.2 164.0)"><path d="M92.2 142.3V164.0M90.5 143.3H93.9M90.1 144.7H94.3M89.8 146.1H94.6M90.3 147.5H94.1M89.5 148.9H94.9M89.4 150.3H95.0M90.2 151.7H94.2M89.4 153.1H95.0M89.5 154.5H94.9M90.3 155.9H94.1M89.8 157.3H94.6M90.1 158.7H94.3M90.5 160.1H93.9"/></g>
<polygon points="54.9,171.0 77.3,177.7 77.3,180.5 54.9,173.8" fill="#a9c2ec" />
<polygon points="77.3,177.7 101.4,171.0 101.4,173.8 77.3,180.5" fill="#26282e" />
<polygon points="54.9,171.0 76.9,162.4 101.4,171.0 77.3,177.7" fill="#8593ae" />
<ellipse cx="78.2" cy="165.7" rx="1.8" ry="1.0" fill="#2f3d5a" opacity="0.55"/>
<path d="M75.7 165.4V162.8A1.6 0.9 0 0 1 78.9 162.8V165.4A1.6 0.9 0 0 1 75.7 165.4Z" fill="#5f7fb6"/>
<path d="M75.7 165.4V162.8A1.6 0.9 0 0 1 77.8 162.1V166.2A1.6 0.9 0 0 1 75.7 165.4Z" fill="#a9c3ea"/>
<ellipse cx="77.3" cy="162.8" rx="1.6" ry="0.9" fill="#bcd2f2"/>
<ellipse cx="73.4" cy="167.5" rx="1.8" ry="1.0" fill="#2f3d5a" opacity="0.55"/>
<path d="M70.9 167.2V164.6A1.6 0.9 0 0 1 74.1 164.6V167.2A1.6 0.9 0 0 1 70.9 167.2Z" fill="#5f7fb6"/>
<path d="M70.9 167.2V164.6A1.6 0.9 0 0 1 72.9 163.9V168.0A1.6 0.9 0 0 1 70.9 167.2Z" fill="#a9c3ea"/>
<ellipse cx="72.5" cy="164.6" rx="1.6" ry="0.9" fill="#bcd2f2"/>
<ellipse cx="83.4" cy="167.5" rx="1.8" ry="1.0" fill="#2f3d5a" opacity="0.55"/>
<path d="M80.9 167.2V164.6A1.6 0.9 0 0 1 84.1 164.6V167.2A1.6 0.9 0 0 1 80.9 167.2Z" fill="#5f7fb6"/>
<path d="M80.9 167.2V164.6A1.6 0.9 0 0 1 82.9 163.9V168.0A1.6 0.9 0 0 1 80.9 167.2Z" fill="#a9c3ea"/>
<ellipse cx="82.5" cy="164.6" rx="1.6" ry="0.9" fill="#bcd2f2"/>
<ellipse cx="78.5" cy="169.2" rx="1.8" ry="1.0" fill="#2f3d5a" opacity="0.55"/>
<path d="M76.0 168.9V166.3A1.6 0.9 0 0 1 79.2 166.3V168.9A1.6 0.9 0 0 1 76.0 168.9Z" fill="#5f7fb6"/>
<path d="M76.0 168.9V166.3A1.6 0.9 0 0 1 78.0 165.6V169.7A1.6 0.9 0 0 1 76.0 168.9Z" fill="#a9c3ea"/>
<ellipse cx="77.6" cy="166.3" rx="1.6" ry="0.9" fill="#bcd2f2"/>
<ellipse cx="88.6" cy="169.2" rx="1.8" ry="1.0" fill="#2f3d5a" opacity="0.55"/>
<path d="M86.1 168.9V166.3A1.6 0.9 0 0 1 89.3 166.3V168.9A1.6 0.9 0 0 1 86.1 168.9Z" fill="#5f7fb6"/>
<path d="M86.1 168.9V166.3A1.6 0.9 0 0 1 88.1 165.6V169.7A1.6 0.9 0 0 1 86.1 168.9Z" fill="#a9c3ea"/>
<ellipse cx="87.7" cy="166.3" rx="1.6" ry="0.9" fill="#bcd2f2"/>
<ellipse cx="68.6" cy="169.2" rx="1.8" ry="1.0" fill="#2f3d5a" opacity="0.55"/>
<path d="M66.1 168.9V166.3A1.6 0.9 0 0 1 69.3 166.3V168.9A1.6 0.9 0 0 1 66.1 168.9Z" fill="#5f7fb6"/>
<path d="M66.1 168.9V166.3A1.6 0.9 0 0 1 68.1 165.6V169.7A1.6 0.9 0 0 1 66.1 168.9Z" fill="#a9c3ea"/>
<ellipse cx="67.7" cy="166.3" rx="1.6" ry="0.9" fill="#bcd2f2"/>
<ellipse cx="73.6" cy="170.8" rx="1.8" ry="1.0" fill="#2f3d5a" opacity="0.55"/>
<path d="M71.1 170.5V167.9A1.6 0.9 0 0 1 74.3 167.9V170.5A1.6 0.9 0 0 1 71.1 170.5Z" fill="#5f7fb6"/>
<path d="M71.1 170.5V167.9A1.6 0.9 0 0 1 73.1 167.2V171.3A1.6 0.9 0 0 1 71.1 170.5Z" fill="#a9c3ea"/>
<ellipse cx="72.7" cy="167.9" rx="1.6" ry="0.9" fill="#bcd2f2"/>
<ellipse cx="83.5" cy="170.8" rx="1.8" ry="1.0" fill="#2f3d5a" opacity="0.55"/>
<path d="M81.0 170.5V167.9A1.6 0.9 0 0 1 84.2 167.9V170.5A1.6 0.9 0 0 1 81.0 170.5Z" fill="#5f7fb6"/>
<path d="M81.0 170.5V167.9A1.6 0.9 0 0 1 83.1 167.2V171.3A1.6 0.9 0 0 1 81.0 170.5Z" fill="#a9c3ea"/>
<ellipse cx="82.6" cy="167.9" rx="1.6" ry="0.9" fill="#bcd2f2"/>
<ellipse cx="93.7" cy="171.0" rx="1.8" ry="1.0" fill="#2f3d5a" opacity="0.55"/>
<path d="M91.2 170.7V168.1A1.6 0.9 0 0 1 94.4 168.1V170.7A1.6 0.9 0 0 1 91.2 170.7Z" fill="#5f7fb6"/>
<path d="M91.2 170.7V168.1A1.6 0.9 0 0 1 93.3 167.4V171.5A1.6 0.9 0 0 1 91.2 170.7Z" fill="#a9c3ea"/>
<ellipse cx="92.8" cy="168.1" rx="1.6" ry="0.9" fill="#bcd2f2"/>
<ellipse cx="63.7" cy="171.0" rx="1.8" ry="1.0" fill="#2f3d5a" opacity="0.55"/>
<path d="M61.2 170.7V168.1A1.6 0.9 0 0 1 64.4 168.1V170.7A1.6 0.9 0 0 1 61.2 170.7Z" fill="#5f7fb6"/>
<path d="M61.2 170.7V168.1A1.6 0.9 0 0 1 63.3 167.4V171.5A1.6 0.9 0 0 1 61.2 170.7Z" fill="#a9c3ea"/>
<ellipse cx="62.8" cy="168.1" rx="1.6" ry="0.9" fill="#bcd2f2"/>
<ellipse cx="78.5" cy="172.4" rx="1.8" ry="1.0" fill="#2f3d5a" opacity="0.55"/>
<path d="M76.0 172.1V169.5A1.6 0.9 0 0 1 79.2 169.5V172.1A1.6 0.9 0 0 1 76.0 172.1Z" fill="#5f7fb6"/>
<path d="M76.0 172.1V169.5A1.6 0.9 0 0 1 78.1 168.8V172.9A1.6 0.9 0 0 1 76.0 172.1Z" fill="#a9c3ea"/>
<ellipse cx="77.6" cy="169.5" rx="1.6" ry="0.9" fill="#bcd2f2"/>
<ellipse cx="68.6" cy="172.5" rx="1.8" ry="1.0" fill="#2f3d5a" opacity="0.55"/>
<path d="M66.1 172.2V169.6A1.6 0.9 0 0 1 69.3 169.6V172.2A1.6 0.9 0 0 1 66.1 172.2Z" fill="#5f7fb6"/>
<path d="M66.1 172.2V169.6A1.6 0.9 0 0 1 68.2 168.9V173.0A1.6 0.9 0 0 1 66.1 172.2Z" fill="#a9c3ea"/>
<ellipse cx="67.7" cy="169.6" rx="1.6" ry="0.9" fill="#bcd2f2"/>
<ellipse cx="88.6" cy="172.5" rx="1.8" ry="1.0" fill="#2f3d5a" opacity="0.55"/>
<path d="M86.1 172.2V169.6A1.6 0.9 0 0 1 89.3 169.6V172.2A1.6 0.9 0 0 1 86.1 172.2Z" fill="#5f7fb6"/>
<path d="M86.1 172.2V169.6A1.6 0.9 0 0 1 88.2 168.9V173.0A1.6 0.9 0 0 1 86.1 172.2Z" fill="#a9c3ea"/>
<ellipse cx="87.7" cy="169.6" rx="1.6" ry="0.9" fill="#bcd2f2"/>
<ellipse cx="83.5" cy="174.0" rx="1.8" ry="1.0" fill="#2f3d5a" opacity="0.55"/>
<path d="M81.0 173.7V171.1A1.6 0.9 0 0 1 84.2 171.1V173.7A1.6 0.9 0 0 1 81.0 173.7Z" fill="#5f7fb6"/>
<path d="M81.0 173.7V171.1A1.6 0.9 0 0 1 83.1 170.4V174.5A1.6 0.9 0 0 1 81.0 173.7Z" fill="#a9c3ea"/>
<ellipse cx="82.6" cy="171.1" rx="1.6" ry="0.9" fill="#bcd2f2"/>
<ellipse cx="73.5" cy="174.0" rx="1.8" ry="1.0" fill="#2f3d5a" opacity="0.55"/>
<path d="M71.0 173.7V171.1A1.6 0.9 0 0 1 74.2 171.1V173.7A1.6 0.9 0 0 1 71.0 173.7Z" fill="#5f7fb6"/>
<path d="M71.0 173.7V171.1A1.6 0.9 0 0 1 73.1 170.4V174.5A1.6 0.9 0 0 1 71.0 173.7Z" fill="#a9c3ea"/>
<ellipse cx="72.6" cy="171.1" rx="1.6" ry="0.9" fill="#bcd2f2"/>
<ellipse cx="78.4" cy="175.6" rx="1.8" ry="1.0" fill="#2f3d5a" opacity="0.55"/>
<path d="M75.9 175.3V172.7A1.6 0.9 0 0 1 79.1 172.7V175.3A1.6 0.9 0 0 1 75.9 175.3Z" fill="#5f7fb6"/>
<path d="M75.9 175.3V172.7A1.6 0.9 0 0 1 78.0 172.0V176.1A1.6 0.9 0 0 1 75.9 175.3Z" fill="#a9c3ea"/>
<ellipse cx="77.5" cy="172.7" rx="1.6" ry="0.9" fill="#bcd2f2"/>
<text x="56.8" y="191.4" font-size="6.4" fill="#323e72" stroke="#323e72" stroke-width="0.12" font-weight="400" text-anchor="start" textLength="42.7" lengthAdjust="spacingAndGlyphs" >17-FAS coating</text>
<path d="M57.8 159.6L52.6 156.9" stroke="#2f4fc0" stroke-width="0.8"/><path d="M50.9 156.1L53.6 155.7L52.6 158.3Z" fill="#2f4fc0"/>
<g stroke="#9674cc" stroke-width="0.5" fill="none" opacity="0.9" transform="translate(24.6 129.6) rotate(-8)"><path d="M0 0V-16.5M-2.7 -3.0H2.7M-2.7 -4.3H2.7M-2.7 -5.6H2.7M-2.7 -6.9H2.7M-2.7 -8.2H2.7M-2.7 -9.5H2.7M-2.7 -10.8H2.7M-2.7 -12.1H2.7M-2.7 -13.4H2.7M-2.7 -14.7H2.7"/></g>
<g stroke="#9674cc" stroke-width="0.5" fill="none" opacity="0.9" transform="translate(30.0 129.6) rotate(-3)"><path d="M0 0V-16.5M-2.7 -3.0H2.7M-2.7 -4.3H2.7M-2.7 -5.6H2.7M-2.7 -6.9H2.7M-2.7 -8.2H2.7M-2.7 -9.5H2.7M-2.7 -10.8H2.7M-2.7 -12.1H2.7M-2.7 -13.4H2.7M-2.7 -14.7H2.7"/></g>
<g stroke="#9674cc" stroke-width="0.5" fill="none" opacity="0.9" transform="translate(35.4 129.6) rotate(0)"><path d="M0 0V-16.5M-2.7 -3.0H2.7M-2.7 -4.3H2.7M-2.7 -5.6H2.7M-2.7 -6.9H2.7M-2.7 -8.2H2.7M-2.7 -9.5H2.7M-2.7 -10.8H2.7M-2.7 -12.1H2.7M-2.7 -13.4H2.7M-2.7 -14.7H2.7"/></g>
<g stroke="#9674cc" stroke-width="0.5" fill="none" opacity="0.9" transform="translate(40.8 129.6) rotate(3)"><path d="M0 0V-16.5M-2.7 -3.0H2.7M-2.7 -4.3H2.7M-2.7 -5.6H2.7M-2.7 -6.9H2.7M-2.7 -8.2H2.7M-2.7 -9.5H2.7M-2.7 -10.8H2.7M-2.7 -12.1H2.7M-2.7 -13.4H2.7M-2.7 -14.7H2.7"/></g>
<g stroke="#9674cc" stroke-width="0.5" fill="none" opacity="0.9" transform="translate(46.0 129.6) rotate(8)"><path d="M0 0V-16.5M-2.7 -3.0H2.7M-2.7 -4.3H2.7M-2.7 -5.6H2.7M-2.7 -6.9H2.7M-2.7 -8.2H2.7M-2.7 -9.5H2.7M-2.7 -10.8H2.7M-2.7 -12.1H2.7M-2.7 -13.4H2.7M-2.7 -14.7H2.7"/></g>
<g stroke="#9674cc" stroke-width="0.5" fill="none" opacity="0.9" transform="translate(20.0 147.0) rotate(-4)"><path d="M0 0V-27.0M-2.6 -3.0H2.6M-2.6 -4.3H2.6M-2.6 -5.6H2.6M-2.6 -6.9H2.6M-2.6 -8.2H2.6M-2.6 -9.5H2.6M-2.6 -10.8H2.6M-2.6 -12.1H2.6M-2.6 -13.4H2.6M-2.6 -14.7H2.6M-2.6 -16.0H2.6M-2.6 -17.3H2.6M-2.6 -18.6H2.6M-2.6 -19.9H2.6M-2.6 -21.2H2.6M-2.6 -22.5H2.6M-2.6 -23.8H2.6M-2.6 -25.1H2.6M-2.6 -26.4H2.6"/></g>
<g stroke="#9674cc" stroke-width="0.5" fill="none" opacity="0.9" transform="translate(49.6 147.0) rotate(4)"><path d="M0 0V-27.0M-2.6 -3.0H2.6M-2.6 -4.3H2.6M-2.6 -5.6H2.6M-2.6 -6.9H2.6M-2.6 -8.2H2.6M-2.6 -9.5H2.6M-2.6 -10.8H2.6M-2.6 -12.1H2.6M-2.6 -13.4H2.6M-2.6 -14.7H2.6M-2.6 -16.0H2.6M-2.6 -17.3H2.6M-2.6 -18.6H2.6M-2.6 -19.9H2.6M-2.6 -21.2H2.6M-2.6 -22.5H2.6M-2.6 -23.8H2.6M-2.6 -25.1H2.6M-2.6 -26.4H2.6"/></g>
<path d="M24.5 133.7L21 131M24.5 138.4L21 137M24.5 143L21 143M24.5 147.5L21 148.5M45.2 137.4L48.6 136M45.2 142.7L48.6 142.5M45.2 147.5L48.6 148.5" stroke="#8a80b0" stroke-width="0.35" fill="none"/>
<path d="M20.5 146L24 153.5L26 156M50 146L46.5 153.5L44.5 156" stroke="#9674cc" stroke-width="0.5" fill="none" opacity="0.85"/>
<rect x="24.3" y="130.8" width="21.1" height="27.7" fill="#909090"/>
<rect x="24.3" y="130.8" width="21.1" height="27.7" fill="#2e2e2e" filter="url(#nz)"/>
<circle cx="31.1" cy="132.5" r="2.15" fill="#fff" stroke="#222" stroke-width="0.55"/>
<circle cx="35.8" cy="132.5" r="2.15" fill="#fff" stroke="#222" stroke-width="0.55"/>
<circle cx="40.4" cy="132.5" r="2.15" fill="#fff" stroke="#222" stroke-width="0.55"/>
<circle cx="26.5" cy="133.7" r="2.15" fill="#fff" stroke="#222" stroke-width="0.55"/>
<circle cx="26.5" cy="138.4" r="2.15" fill="#fff" stroke="#222" stroke-width="0.55"/>
<circle cx="26.5" cy="143" r="2.15" fill="#fff" stroke="#222" stroke-width="0.55"/>
<circle cx="26.5" cy="147.5" r="2.15" fill="#fff" stroke="#222" stroke-width="0.55"/>
<circle cx="26.5" cy="151.8" r="2.15" fill="#fff" stroke="#222" stroke-width="0.55"/>
<circle cx="43.1" cy="137.4" r="2.15" fill="#fff" stroke="#222" stroke-width="0.55"/>
<circle cx="43.1" cy="142.7" r="2.15" fill="#fff" stroke="#222" stroke-width="0.55"/>
<circle cx="43.1" cy="147.5" r="2.15" fill="#fff" stroke="#222" stroke-width="0.55"/>
<circle cx="43.1" cy="152.1" r="2.15" fill="#fff" stroke="#222" stroke-width="0.55"/>
</g>
<rect x="467.7" y="34.5" width="86.19999999999999" height="64.4" fill="#6a6a6a" filter="url(#s1)"/>
<rect x="553.9" y="34.5" width="87.0" height="64.4" fill="#484848" filter="url(#s2)"/>
<rect x="640.9" y="34.5" width="85.70000000000005" height="64.4" fill="#505050" filter="url(#s3)"/>
<g clip-path="url(#c2)"><g filter="url(#bl1)">
<circle cx="563.9" cy="58.1" r="5.6" fill="#bdbdbd"/>
<circle cx="573.8" cy="80.6" r="5.6" fill="#bdbdbd"/>
<circle cx="585.6" cy="46.7" r="5.6" fill="#bdbdbd"/>
<circle cx="595.9" cy="71.0" r="5.6" fill="#bdbdbd"/>
<circle cx="554.5" cy="91" r="5.6" fill="#bdbdbd"/>
<circle cx="584" cy="99.6" r="5.6" fill="#bdbdbd"/>
<circle cx="607.7" cy="38.0" r="5.6" fill="#bdbdbd"/>
<circle cx="618" cy="59.5" r="5.6" fill="#bdbdbd"/>
<circle cx="629" cy="80.8" r="5.6" fill="#bdbdbd"/>
<circle cx="636.9" cy="51.6" r="5.6" fill="#bdbdbd"/>
<circle cx="606.8" cy="91.4" r="5.6" fill="#bdbdbd"/>
</g><g filter="url(#cn)">
<circle cx="563.9" cy="58.1" r="5.6" fill="#000"/>
<circle cx="573.8" cy="80.6" r="5.6" fill="#000"/>
<circle cx="585.6" cy="46.7" r="5.6" fill="#000"/>
<circle cx="595.9" cy="71.0" r="5.6" fill="#000"/>
<circle cx="554.5" cy="91" r="5.6" fill="#000"/>
<circle cx="584" cy="99.6" r="5.6" fill="#000"/>
<circle cx="607.7" cy="38.0" r="5.6" fill="#000"/>
<circle cx="618" cy="59.5" r="5.6" fill="#000"/>
<circle cx="629" cy="80.8" r="5.6" fill="#000"/>
<circle cx="636.9" cy="51.6" r="5.6" fill="#000"/>
<circle cx="606.8" cy="91.4" r="5.6" fill="#000"/>
</g></g>
<g clip-path="url(#c3)"><g filter="url(#bl2)">
<circle cx="648.7" cy="58.5" r="5.4" fill="#c2c2c2"/>
<circle cx="672.8" cy="49.6" r="5.4" fill="#c2c2c2"/>
<circle cx="681.7" cy="72.7" r="5.4" fill="#c2c2c2"/>
<circle cx="658" cy="80.6" r="5.4" fill="#c2c2c2"/>
<circle cx="705.9" cy="63.4" r="5.4" fill="#c2c2c2"/>
<circle cx="699.4" cy="39.8" r="5.4" fill="#c2c2c2"/>
<circle cx="714.2" cy="84.1" r="5.4" fill="#c2c2c2"/>
<circle cx="689.5" cy="94" r="5.4" fill="#c2c2c2"/>
<circle cx="729" cy="52" r="5.4" fill="#c2c2c2"/>
<circle cx="642" cy="36" r="5.4" fill="#c2c2c2"/>
</g><g filter="url(#cn3)">
<circle cx="648.7" cy="58.5" r="6.5" fill="#000"/>
<circle cx="672.8" cy="49.6" r="6.5" fill="#000"/>
<circle cx="681.7" cy="72.7" r="6.5" fill="#000"/>
<circle cx="658" cy="80.6" r="6.5" fill="#000"/>
<circle cx="705.9" cy="63.4" r="6.5" fill="#000"/>
<circle cx="699.4" cy="39.8" r="6.5" fill="#000"/>
<circle cx="714.2" cy="84.1" r="6.5" fill="#000"/>
<circle cx="689.5" cy="94" r="6.5" fill="#000"/>
<circle cx="729" cy="52" r="6.5" fill="#000"/>
<circle cx="642" cy="36" r="6.5" fill="#000"/>
</g></g>
<g filter="url(#bl0)">
<rect x="467.5" y="34.5" width="30.7" height="12.0" fill="#e6b828"/>
<text x="469.9" y="43.6" font-size="7.5" fill="#3a4574" stroke="#3a4574" stroke-width="0.1" font-weight="700" text-anchor="start" textLength="24.0" lengthAdjust="spacingAndGlyphs" >C-PVDF</text>
<rect x="553.9" y="34.5" width="36.1" height="12.0" fill="#e6b828"/>
<text x="556.9" y="43.6" font-size="7.5" fill="#3a4574" stroke="#3a4574" stroke-width="0.1" font-weight="700" text-anchor="start" textLength="30.6" lengthAdjust="spacingAndGlyphs" >MP-PVDF</text>
<rect x="640.7" y="34.5" width="56.2" height="12.0" fill="#e6b828"/>
<text x="643.0" y="43.6" font-size="7.5" fill="#3a4574" stroke="#3a4574" stroke-width="0.1" font-weight="700" text-anchor="start" textLength="50.9" lengthAdjust="spacingAndGlyphs" >SiNPs-MP-PVDF</text>
</g>
<g filter="url(#bl0)">
<rect x="525.5" y="88.6" width="25.0" height="1.1" fill="#f4f4f4"/>
<text x="529.8" y="97.0" font-size="6.4" fill="#f4f4f4" font-weight="700" text-anchor="start" textLength="16.8" lengthAdjust="spacingAndGlyphs" >10μm</text>
<rect x="610.7" y="88.6" width="25.0" height="1.1" fill="#f4f4f4"/>
<text x="614.6" y="97.0" font-size="6.4" fill="#f4f4f4" font-weight="700" text-anchor="start" textLength="17.2" lengthAdjust="spacingAndGlyphs" >10μm</text>
<rect x="695.5" y="87.7" width="25.600000000000023" height="1.1" fill="#f4f4f4"/>
<text x="700.0" y="96.1" font-size="6.4" fill="#f4f4f4" font-weight="700" text-anchor="start" textLength="17.1" lengthAdjust="spacingAndGlyphs" >10μm</text>
<text x="452.0" y="45.6" font-size="7" fill="#333" font-weight="700" text-anchor="start" textLength="6.2" lengthAdjust="spacingAndGlyphs" >a)</text>
</g>
<g filter="url(#bl0)">
<rect x="490.3" y="140.4" width="9.1" height="50.9" fill="url(#hb)" stroke="#4a4ac8" stroke-width="0.4"/>
<path d="M494.9 139.4V141.4M493.7 139.4H496.1" stroke="#4a4ac8" stroke-width="0.4"/>
<rect x="499.4" y="130.7" width="8.2" height="60.6" fill="url(#hr)" stroke="#c05050" stroke-width="0.4"/>
<path d="M503.5 129.7V131.7M502.3 129.7H504.7" stroke="#c05050" stroke-width="0.4"/>
<rect x="507.6" y="122.3" width="9.2" height="69.0" fill="url(#hg)" stroke="#333" stroke-width="0.4"/>
<path d="M512.2 121.3V123.3M511.0 121.3H513.4" stroke="#333" stroke-width="0.4"/>
<rect x="522.4" y="166.3" width="8.8" height="25.0" fill="url(#hb)" stroke="#4a4ac8" stroke-width="0.4"/>
<path d="M526.8 165.3V167.3M525.6 165.3H528.0" stroke="#4a4ac8" stroke-width="0.4"/>
<rect x="531.2" y="158.1" width="8.9" height="33.2" fill="url(#hr)" stroke="#c05050" stroke-width="0.4"/>
<path d="M535.7 157.1V159.1M534.5 157.1H536.9" stroke="#c05050" stroke-width="0.4"/>
<rect x="540.1" y="138.8" width="8.8" height="52.5" fill="url(#hg)" stroke="#333" stroke-width="0.4"/>
<path d="M544.5 137.8V139.8M543.3 137.8H545.7" stroke="#333" stroke-width="0.4"/>
<rect x="572.1" y="131.5" width="8.9" height="59.8" fill="url(#hg)" stroke="#333" stroke-width="0.4"/>
<path d="M576.5 130.5V132.5M575.3 130.5H577.8" stroke="#333" stroke-width="0.4"/>
<rect x="488.1" y="113.4" width="96.9" height="77.9" fill="none" stroke="#444" stroke-width="0.6"/>
<path d="M488.1 191.3h1.6M488.1 181.6h0.9M488.1 171.8h1.6M488.1 162.1h0.9M488.1 152.4h1.6M488.1 142.6h0.9M488.1 132.9h1.6M488.1 123.1h0.9M488.1 113.4h1.6" stroke="#444" stroke-width="0.4"/>
<text x="486.6" y="192.5" font-size="3.4" fill="#333" stroke="#333" stroke-width="0.18" font-weight="700" text-anchor="end" >0</text>
<text x="486.6" y="173.0" font-size="3.4" fill="#333" stroke="#333" stroke-width="0.18" font-weight="700" text-anchor="end" >50</text>
<text x="486.6" y="153.6" font-size="3.4" fill="#333" stroke="#333" stroke-width="0.18" font-weight="700" text-anchor="end" >100</text>
<text x="486.6" y="134.1" font-size="3.4" fill="#333" stroke="#333" stroke-width="0.18" font-weight="700" text-anchor="end" >150</text>
<text x="486.6" y="114.6" font-size="3.4" fill="#333" stroke="#333" stroke-width="0.18" font-weight="700" text-anchor="end" >200</text>
<text transform="translate(472.8 149.2) rotate(-90)" text-anchor="middle" font-size="5.2" fill="#222" stroke="#222" stroke-width="0.15" textLength="37.6" lengthAdjust="spacingAndGlyphs">Contact angle (°)</text>
<text x="470.0" y="119.0" font-size="7.4" fill="#222" stroke="#222" stroke-width="0.18" font-weight="400" text-anchor="start" textLength="6.4" lengthAdjust="spacingAndGlyphs" >b)</text>
<path d="M560.9 162.1V189" stroke="#6a6ad8" stroke-width="0.5"/><path d="M560.9 190.6l-1-2.6h2z" fill="#4a4ac8"/>
<path d="M567.3 162.1V189" stroke="#d07070" stroke-width="0.5"/><path d="M567.3 190.6l-1-2.6h2z" fill="#c04040"/>
<text x="558.4" y="158.4" font-size="3.6" fill="#444" stroke="#444" stroke-width="0.18" font-weight="400" text-anchor="start" textLength="12.2" lengthAdjust="spacingAndGlyphs" >Wicking</text>
<rect x="536.8" y="115.0" width="7.9" height="3.7" fill="url(#hb)" stroke="#4a4ac8" stroke-width="0.4"/>
<text x="546.3" y="117.9" font-size="2.6" fill="#4a4ac8" stroke="#4a4ac8" stroke-width="0.18" font-weight="700" text-anchor="start" textLength="6.5" lengthAdjust="spacingAndGlyphs" >C-PVDF</text>
<rect x="536.8" y="120.9" width="7.9" height="3.7" fill="url(#hr)" stroke="#c05050" stroke-width="0.4"/>
<text x="546.3" y="123.8" font-size="2.6" fill="#c05050" stroke="#c05050" stroke-width="0.18" font-weight="700" text-anchor="start" textLength="7.6" lengthAdjust="spacingAndGlyphs" >MP-PVDF</text>
<rect x="536.8" y="126.8" width="7.9" height="3.7" fill="url(#hg)" stroke="#333" stroke-width="0.4"/>
<text x="546.3" y="129.7" font-size="2.6" fill="#333" stroke="#333" stroke-width="0.18" font-weight="700" text-anchor="start" textLength="12.5" lengthAdjust="spacingAndGlyphs" >SiNPs-MP-PVDF</text>
<text x="497.6" y="198.2" font-size="4.6" fill="#222" stroke="#222" stroke-width="0.18" font-weight="700" text-anchor="start" textLength="13.7" lengthAdjust="spacingAndGlyphs" >Water</text>
<text x="527.5" y="198.2" font-size="4.6" fill="#222" stroke="#222" stroke-width="0.18" font-weight="700" text-anchor="start" textLength="15.9" lengthAdjust="spacingAndGlyphs" >4% SDS</text>
<text x="556.2" y="198.2" font-size="4.6" fill="#222" stroke="#222" stroke-width="0.18" font-weight="700" text-anchor="start" textLength="25.5" lengthAdjust="spacingAndGlyphs" >hexadecane</text>
<rect x="489.9" y="199.4" width="28.1" height="8.6" fill="#d2d2d2"/>
<rect x="523.0" y="199.4" width="26.6" height="8.6" fill="#d2d2d2"/>
<rect x="555.6" y="199.4" width="26.1" height="8.6" fill="#d2d2d2"/>
<ellipse cx="494.3" cy="203.9" rx="1.9" ry="1.7" fill="#e2c21c"/>
<ellipse cx="503.6" cy="203.9" rx="1.9" ry="1.7" fill="#e2c21c"/>
<ellipse cx="513.1" cy="203.9" rx="1.9" ry="1.7" fill="#e2c21c"/>
<rect x="511.6" y="203.2" width="3" height="1.3" fill="#555"/>
<circle cx="527.9" cy="203.8" r="2.1" fill="#c2271a"/>
<circle cx="536.3" cy="203.8" r="2.1" fill="#c2271a"/>
<circle cx="544.7" cy="203.8" r="2.1" fill="#c2271a"/>
<circle cx="560.0" cy="203.8" r="2.0" fill="#b4b4b4"/>
<circle cx="567.9" cy="203.8" r="2.0" fill="#b4b4b4"/>
<ellipse cx="576.8" cy="204" rx="2.8" ry="2.0" fill="#f6f6f6"/>
</g>
<g filter="url(#bl0)">
<rect x="613.1" y="112.7" width="100.2" height="81.2" fill="#fff" stroke="#555" stroke-width="0.6"/>
<path d="M616.5 193.9v1.6M623.4 193.9v0.9M630.3 193.9v1.6M637.2 193.9v0.9M644.1 193.9v1.6M651.0 193.9v0.9M658.0 193.9v1.6M664.9 193.9v0.9M671.8 193.9v1.6M678.7 193.9v0.9M685.6 193.9v1.6M692.5 193.9v0.9M699.4 193.9v1.6M706.3 193.9v0.9M713.2 193.9v1.6" stroke="#444" stroke-width="0.4"/>
<text x="616.5" y="199.0" font-size="3.7" fill="#222" stroke="#222" stroke-width="0.18" font-weight="700" text-anchor="middle" >0</text>
<text x="630.3" y="199.0" font-size="3.7" fill="#222" stroke="#222" stroke-width="0.18" font-weight="700" text-anchor="middle" >200</text>
<text x="644.1" y="199.0" font-size="3.7" fill="#222" stroke="#222" stroke-width="0.18" font-weight="700" text-anchor="middle" >400</text>
<text x="658.0" y="199.0" font-size="3.7" fill="#222" stroke="#222" stroke-width="0.18" font-weight="700" text-anchor="middle" >600</text>
<text x="671.8" y="199.0" font-size="3.7" fill="#222" stroke="#222" stroke-width="0.18" font-weight="700" text-anchor="middle" >800</text>
<text x="685.6" y="199.0" font-size="3.7" fill="#222" stroke="#222" stroke-width="0.18" font-weight="700" text-anchor="middle" >1000</text>
<text x="699.4" y="199.0" font-size="3.7" fill="#222" stroke="#222" stroke-width="0.18" font-weight="700" text-anchor="middle" >1200</text>
<text x="713.2" y="199.0" font-size="3.7" fill="#222" stroke="#222" stroke-width="0.18" font-weight="700" text-anchor="middle" >1400</text>
<text x="645.4" y="206.6" font-size="4.4" fill="#222" stroke="#222" stroke-width="0.18" font-weight="700" text-anchor="start" textLength="38.1" lengthAdjust="spacingAndGlyphs" >Binding Energy (eV)</text>
<text x="601.0" y="119.6" font-size="7.4" fill="#222" stroke="#222" stroke-width="0.18" font-weight="400" text-anchor="start" textLength="5.8" lengthAdjust="spacingAndGlyphs" >c)</text>
<path d="M617.9 186.7L618.1 186.8L618.3 186.7L618.5 186.0L618.7 186.0L618.9 185.7L619.1 186.6L619.3 187.0L619.5 186.7L619.7 186.7L620.0 187.0L620.2 186.8L620.4 187.0L620.6 186.8L620.8 186.9L621.0 186.6L621.2 186.9L621.4 187.0L621.6 186.8L621.8 186.9L622.0 186.9L622.2 186.6L622.4 186.9L622.6 186.8L622.9 186.7L623.1 186.6L623.3 187.0L623.5 186.8L623.7 186.9L623.9 187.0L624.1 186.9L624.3 187.0L624.5 186.7L624.7 187.0L624.9 186.8L625.1 187.0L625.3 187.0L625.6 186.6L625.8 186.6L626.0 186.7L626.2 187.0L626.4 186.8L626.6 186.9L626.8 186.7L627.0 186.8L627.2 186.7L627.4 186.7L627.6 186.8L627.8 186.8L628.0 187.0L628.2 186.9L628.5 187.0L628.7 187.0L628.9 187.0L629.1 186.9L629.3 186.6L629.5 187.0L629.7 187.0L629.9 187.0L630.1 186.8L630.3 186.9L630.5 186.7L630.7 187.0L630.9 186.8L631.1 186.7L631.4 186.6L631.6 187.0L631.8 187.0L632.0 186.6L632.2 187.0L632.4 186.8L632.6 186.6L632.8 186.7L633.0 186.9L633.2 187.0L633.4 186.6L633.6 186.9L633.8 186.6L634.1 186.9L634.3 186.7L634.5 187.0L634.7 187.0L634.9 186.8L635.1 187.0L635.3 186.7L635.5 186.6L635.7 186.5L635.9 185.0L636.1 179.6L636.3 177.8L636.5 184.0L636.7 186.2L637.0 186.0L637.2 186.4L637.4 186.1L637.6 186.4L637.8 186.4L638.0 186.1L638.2 186.2L638.4 186.2L638.6 186.2L638.8 186.2L639.0 186.2L639.2 186.2L639.4 186.4L639.6 186.2L639.9 186.1L640.1 186.2L640.3 186.0L640.5 186.0L640.7 186.4L640.9 186.1L641.1 186.1L641.3 185.9L641.5 186.1L641.7 186.1L641.9 185.9L642.1 186.2L642.3 186.2L642.6 185.9L642.8 186.2L643.0 186.1L643.2 186.2L643.4 186.0L643.6 186.2L643.8 186.2L644.0 185.8L644.2 185.8L644.4 186.1L644.6 186.3L644.8 185.9L645.0 186.0L645.2 186.1L645.5 185.9L645.7 186.0L645.9 185.9L646.1 186.0L646.3 186.1L646.5 185.9L646.7 186.0L646.9 186.1L647.1 185.8L647.3 186.0L647.5 186.1L647.7 185.9L647.9 185.9L648.1 186.1L648.4 185.9L648.6 185.8L648.8 185.9L649.0 186.1L649.2 185.8L649.4 185.9L649.6 185.9L649.8 186.1L650.0 185.9L650.2 186.1L650.4 185.8L650.6 185.9L650.8 186.0L651.0 186.1L651.3 185.9L651.5 185.8L651.7 185.7L651.9 185.9L652.1 185.8L652.3 186.1L652.5 186.1L652.7 185.7L652.9 185.8L653.1 186.0L653.3 186.0L653.5 186.0L653.7 185.8L654.0 185.7L654.2 185.8L654.4 186.0L654.6 185.8L654.8 185.8L655.0 185.8L655.2 185.8L655.4 185.8L655.6 186.1L655.8 185.7L656.0 185.6L656.2 186.1L656.4 186.0L656.6 186.1L656.9 185.8L657.1 186.0L657.3 186.0L657.5 185.7L657.7 185.9L657.9 186.0L658.1 185.9L658.3 185.8L658.5 185.7L658.7 185.7L658.9 185.6L659.1 185.6L659.3 185.8L659.5 185.7L659.8 185.9L660.0 185.5L660.2 186.0L660.4 185.9L660.6 186.0L660.8 185.9L661.0 185.9L661.2 185.8L661.4 185.5L661.6 185.9L661.8 185.6L662.0 185.6L662.2 185.8L662.5 185.7L662.7 185.7L662.9 185.9L663.1 185.8L663.3 185.6L663.5 185.3L663.7 182.7L663.9 173.8L664.1 172.5L664.3 177.6L664.5 180.5L664.7 181.1L664.9 181.3L665.1 181.0L665.4 181.3L665.6 181.4L665.8 181.3L666.0 181.4L666.2 181.0L666.4 181.3L666.6 181.4L666.8 181.0L667.0 181.2L667.2 181.2L667.4 181.3L667.6 181.3L667.8 181.3L668.0 181.5L668.3 181.1L668.5 181.2L668.7 181.2L668.9 181.2L669.1 181.2L669.3 181.7L669.5 181.7L669.7 181.3L669.9 181.5L670.1 181.4L670.3 181.5L670.5 181.5L670.7 181.7L671.0 181.6L671.2 181.5L671.4 181.5L671.6 181.6L671.8 181.5L672.0 181.7L672.2 181.8L672.4 181.6L672.6 181.5L672.8 181.6L673.0 181.7L673.2 181.8L673.4 181.9L673.6 181.7L673.9 181.1L674.1 177.9L674.3 172.6L674.5 171.1L674.7 172.8L674.9 175.1L675.1 176.5L675.3 177.3L675.5 177.4L675.7 177.3L675.9 177.5L676.1 177.6L676.3 177.4L676.5 177.6L676.8 177.6L677.0 177.9L677.2 177.9L677.4 177.7L677.6 178.0L677.8 178.0L678.0 177.7L678.2 177.9L678.4 177.7L678.6 178.1L678.8 178.1L679.0 178.2L679.2 178.2L679.5 178.1L679.7 178.2L679.9 178.1L680.1 177.9L680.3 178.2L680.5 177.9L680.7 178.0L680.9 178.4L681.1 178.0L681.3 178.1L681.5 178.1L681.7 178.5L681.9 178.2L682.1 178.1L682.4 178.5L682.6 178.2L682.8 178.6L683.0 178.5L683.2 178.6L683.4 178.7L683.6 178.5L683.8 178.7L684.0 178.3L684.2 178.7L684.4 178.6L684.6 178.7L684.8 178.4L685.0 178.7L685.3 178.8L685.5 178.4L685.7 178.6L685.9 178.7L686.1 178.8L686.3 178.6L686.5 178.5L686.7 178.6L686.9 178.8L687.1 178.9L687.3 178.7L687.5 178.7L687.7 178.7L687.9 178.7L688.2 178.8L688.4 178.6L688.6 178.8L688.8 179.1L689.0 178.8L689.2 179.0L689.4 178.7L689.6 179.0L689.8 179.0L690.0 179.0L690.2 178.9L690.4 178.9L690.6 179.0L690.9 179.1L691.1 178.7L691.3 178.7L691.5 179.1L691.7 179.2L691.9 179.0L692.1 178.9L692.3 179.1L692.5 178.8L692.7 178.9L692.9 178.8L693.1 179.0L693.3 178.9L693.5 178.9L693.8 179.1L694.0 179.2L694.2 178.9L694.4 179.1L694.6 179.0L694.8 179.2L695.0 179.1L695.2 178.9L695.4 178.9L695.6 178.8L695.8 179.1L696.0 179.0L696.2 178.9L696.4 179.0L696.7 179.0L696.9 179.2L697.1 178.9L697.3 179.3L697.5 179.1L697.7 179.2L697.9 179.1L698.1 179.3L698.3 179.3L698.5 179.2L698.7 179.1L698.9 179.2L699.1 179.3L699.4 179.1L699.6 179.4L699.8 179.5L700.0 179.4L700.2 179.4L700.4 179.5L700.6 180.0L700.8 180.1L701.0 180.3L701.2 180.1L701.4 179.5L701.6 179.3L701.8 179.1L702.0 178.9L702.3 179.1L702.5 179.2L702.7 179.2L702.9 178.8L703.1 179.1L703.3 178.8L703.5 178.8L703.7 179.0L703.9 178.6L704.1 178.6L704.3 179.0L704.5 178.7L704.7 178.7L704.9 178.8L705.2 178.8L705.4 178.5L705.6 178.6L705.8 178.6L706.0 178.6L706.2 178.5L706.4 178.6L706.6 178.8L706.8 178.5L707.0 178.6L707.2 178.4L707.4 178.5L707.6 178.7L707.9 178.4L708.1 178.8L708.3 178.8L708.5 178.4L708.7 178.8L708.9 178.5L709.1 178.7L709.3 178.7L709.5 178.5L709.7 178.7" fill="none" stroke="#333" stroke-width="0.55" stroke-linejoin="round"/>
<path d="M617.9 175.1L618.1 175.2L618.3 174.9L618.5 174.2L618.7 174.3L618.9 174.2L619.1 175.0L619.3 174.8L619.5 175.0L619.7 174.9L620.0 175.1L620.2 175.1L620.4 175.0L620.6 174.8L620.8 175.1L621.0 175.1L621.2 174.8L621.4 175.2L621.6 175.1L621.8 174.8L622.0 175.2L622.2 174.8L622.4 174.9L622.6 175.1L622.9 175.0L623.1 175.0L623.3 175.1L623.5 175.0L623.7 174.9L623.9 174.8L624.1 174.8L624.3 175.1L624.5 175.1L624.7 175.0L624.9 175.1L625.1 174.9L625.3 174.9L625.6 174.9L625.8 175.2L626.0 174.8L626.2 175.0L626.4 174.9L626.6 175.1L626.8 174.9L627.0 174.9L627.2 175.0L627.4 175.0L627.6 175.1L627.8 174.9L628.0 175.2L628.2 174.8L628.5 174.9L628.7 174.8L628.9 174.8L629.1 175.1L629.3 175.1L629.5 174.8L629.7 174.8L629.9 175.0L630.1 175.1L630.3 175.2L630.5 175.1L630.7 175.0L630.9 174.8L631.1 174.9L631.4 174.8L631.6 175.0L631.8 175.0L632.0 174.9L632.2 174.9L632.4 175.1L632.6 174.8L632.8 175.2L633.0 175.2L633.2 175.2L633.4 174.9L633.6 175.0L633.8 175.0L634.1 175.1L634.3 175.2L634.5 175.1L634.7 174.9L634.9 175.2L635.1 175.0L635.3 175.1L635.5 175.1L635.7 174.4L635.9 173.6L636.1 167.9L636.3 165.8L636.5 172.1L636.7 174.5L637.0 174.2L637.2 174.4L637.4 174.2L637.6 174.4L637.8 174.5L638.0 174.4L638.2 174.4L638.4 174.6L638.6 174.6L638.8 174.2L639.0 174.5L639.2 174.4L639.4 174.1L639.6 174.3L639.9 174.2L640.1 174.1L640.3 174.4L640.5 174.5L640.7 174.2L640.9 174.5L641.1 174.4L641.3 174.1L641.5 174.5L641.7 174.4L641.9 174.5L642.1 174.4L642.3 174.4L642.6 174.2L642.8 174.4L643.0 174.5L643.2 174.5L643.4 174.2L643.6 174.4L643.8 174.3L644.0 174.1L644.2 174.0L644.4 174.0L644.6 174.1L644.8 174.1L645.0 174.2L645.2 174.3L645.5 174.3L645.7 174.2L645.9 174.3L646.1 174.1L646.3 174.2L646.5 174.3L646.7 174.2L646.9 174.1L647.1 174.4L647.3 174.3L647.5 174.1L647.7 174.1L647.9 174.2L648.1 174.2L648.4 174.0L648.6 173.9L648.8 174.0L649.0 174.3L649.2 174.0L649.4 174.1L649.6 174.0L649.8 174.0L650.0 174.0L650.2 174.1L650.4 174.0L650.6 173.9L650.8 173.9L651.0 174.0L651.3 174.1L651.5 173.9L651.7 173.9L651.9 174.1L652.1 174.1L652.3 174.2L652.5 173.9L652.7 174.1L652.9 174.0L653.1 173.9L653.3 174.3L653.5 173.9L653.7 173.9L654.0 174.1L654.2 173.9L654.4 174.1L654.6 174.0L654.8 173.9L655.0 173.8L655.2 174.2L655.4 173.9L655.6 174.2L655.8 174.0L656.0 174.3L656.2 173.9L656.4 173.9L656.6 173.9L656.9 174.2L657.1 174.1L657.3 173.9L657.5 173.8L657.7 174.1L657.9 174.2L658.1 174.0L658.3 173.7L658.5 173.8L658.7 173.8L658.9 173.8L659.1 173.7L659.3 173.8L659.5 174.1L659.8 174.2L660.0 173.8L660.2 174.2L660.4 173.9L660.6 174.1L660.8 174.2L661.0 174.2L661.2 173.7L661.4 173.8L661.6 174.0L661.8 174.2L662.0 173.7L662.2 173.8L662.5 174.1L662.7 173.7L662.9 173.9L663.1 173.8L663.3 174.0L663.5 173.9L663.7 170.9L663.9 163.4L664.1 162.1L664.3 166.7L664.5 169.2L664.7 169.7L664.9 169.5L665.1 169.5L665.4 169.4L665.6 169.7L665.8 169.6L666.0 169.5L666.2 169.5L666.4 169.8L666.6 169.7L666.8 169.8L667.0 169.6L667.2 169.7L667.4 169.5L667.6 169.8L667.8 169.5L668.0 169.8L668.3 169.9L668.5 169.9L668.7 169.6L668.9 169.7L669.1 170.0L669.3 169.9L669.5 170.1L669.7 170.1L669.9 169.9L670.1 170.1L670.3 170.1L670.5 169.9L670.7 169.9L671.0 169.8L671.2 170.0L671.4 170.3L671.6 169.8L671.8 170.1L672.0 169.9L672.2 169.9L672.4 170.2L672.6 170.0L672.8 169.9L673.0 170.0L673.2 170.2L673.4 170.2L673.6 169.9L673.9 169.4L674.1 167.3L674.3 162.8L674.5 161.8L674.7 162.8L674.9 164.4L675.1 165.3L675.3 165.8L675.5 165.9L675.7 165.8L675.9 165.8L676.1 165.8L676.3 166.3L676.5 166.0L676.8 166.0L677.0 166.5L677.2 166.2L677.4 166.6L677.6 166.3L677.8 166.5L678.0 166.4L678.2 166.8L678.4 166.7L678.6 166.8L678.8 166.9L679.0 167.0L679.2 166.8L679.5 167.0L679.7 167.0L679.9 166.8L680.1 167.2L680.3 167.2L680.5 167.3L680.7 167.0L680.9 167.3L681.1 167.3L681.3 167.4L681.5 167.1L681.7 167.3L681.9 167.4L682.1 167.2L682.4 167.5L682.6 167.6L682.8 167.5L683.0 167.7L683.2 167.7L683.4 167.5L683.6 167.6L683.8 168.0L684.0 167.7L684.2 167.7L684.4 167.6L684.6 167.7L684.8 167.7L685.0 168.1L685.3 168.0L685.5 168.1L685.7 168.2L685.9 168.0L686.1 168.2L686.3 168.1L686.5 168.0L686.7 168.3L686.9 168.3L687.1 168.3L687.3 168.1L687.5 168.3L687.7 168.1L687.9 168.4L688.2 168.4L688.4 168.1L688.6 168.5L688.8 168.1L689.0 168.1L689.2 168.4L689.4 168.2L689.6 168.4L689.8 168.4L690.0 168.1L690.2 168.5L690.4 168.3L690.6 168.4L690.9 168.4L691.1 168.6L691.3 168.6L691.5 168.4L691.7 168.3L691.9 168.4L692.1 168.5L692.3 168.3L692.5 168.4L692.7 168.7L692.9 168.7L693.1 168.8L693.3 168.8L693.5 168.8L693.8 168.5L694.0 168.4L694.2 168.5L694.4 168.6L694.6 168.7L694.8 168.7L695.0 168.6L695.2 168.9L695.4 168.6L695.6 168.7L695.8 168.9L696.0 168.9L696.2 168.6L696.4 168.6L696.7 168.9L696.9 168.5L697.1 168.6L697.3 168.8L697.5 168.8L697.7 168.6L697.9 168.6L698.1 168.6L698.3 168.9L698.5 168.8L698.7 169.0L698.9 169.0L699.1 169.1L699.4 168.6L699.6 168.9L699.8 168.8L700.0 169.0L700.2 169.1L700.4 169.1L700.6 169.5L700.8 169.4L701.0 169.5L701.2 169.3L701.4 169.3L701.6 168.8L701.8 168.5L702.0 168.3L702.3 168.4L702.5 168.4L702.7 168.3L702.9 168.4L703.1 168.3L703.3 168.0L703.5 167.9L703.7 168.1L703.9 168.1L704.1 167.9L704.3 168.0L704.5 167.8L704.7 167.6L704.9 167.5L705.2 167.4L705.4 167.6L705.6 167.7L705.8 167.6L706.0 167.4L706.2 167.4L706.4 167.5L706.6 167.5L706.8 167.4L707.0 167.3L707.2 167.3L707.4 167.1L707.6 167.1L707.9 167.4L708.1 167.5L708.3 167.3L708.5 167.3L708.7 167.2L708.9 167.3L709.1 167.5L709.3 167.3L709.5 167.5L709.7 167.1" fill="none" stroke="#b04848" stroke-width="0.55" stroke-linejoin="round"/>
<path d="M617.9 163.5L618.1 163.6L618.3 163.6L618.5 162.9L618.7 162.9L618.9 162.9L619.1 163.7L619.3 163.4L619.5 163.6L619.7 163.6L620.0 163.6L620.2 163.5L620.4 163.7L620.6 163.8L620.8 163.4L621.0 163.7L621.2 163.5L621.4 163.6L621.6 163.8L621.8 163.8L622.0 163.7L622.2 163.4L622.4 163.8L622.6 163.4L622.9 163.5L623.1 163.8L623.3 163.5L623.5 163.5L623.7 163.8L623.9 163.8L624.1 163.5L624.3 163.5L624.5 163.5L624.7 163.4L624.9 163.5L625.1 163.8L625.3 163.4L625.6 163.5L625.8 163.4L626.0 163.4L626.2 163.6L626.4 163.7L626.6 163.8L626.8 163.7L627.0 163.8L627.2 163.4L627.4 163.5L627.6 163.8L627.8 163.4L628.0 163.5L628.2 163.6L628.5 163.5L628.7 163.6L628.9 163.4L629.1 163.5L629.3 163.8L629.5 163.4L629.7 163.8L629.9 163.4L630.1 163.8L630.3 163.7L630.5 163.7L630.7 163.4L630.9 163.4L631.1 163.7L631.4 163.4L631.6 163.4L631.8 163.8L632.0 163.8L632.2 163.4L632.4 163.8L632.6 163.6L632.8 163.5L633.0 163.4L633.2 163.5L633.4 163.8L633.6 163.5L633.8 163.4L634.1 163.4L634.3 163.4L634.5 163.5L634.7 163.8L634.9 163.4L635.1 163.4L635.3 163.8L635.5 163.8L635.7 163.5L635.9 162.4L636.1 158.9L636.3 158.0L636.5 161.7L636.7 163.3L637.0 162.9L637.2 162.8L637.4 162.9L637.6 163.1L637.8 163.1L638.0 163.0L638.2 163.0L638.4 163.0L638.6 162.9L638.8 163.0L639.0 163.1L639.2 162.8L639.4 163.0L639.6 163.2L639.9 163.1L640.1 162.8L640.3 163.2L640.5 163.1L640.7 162.8L640.9 162.8L641.1 162.8L641.3 162.7L641.5 163.2L641.7 162.9L641.9 163.1L642.1 162.7L642.3 162.7L642.6 163.1L642.8 163.0L643.0 163.1L643.2 163.0L643.4 162.9L643.6 163.0L643.8 162.7L644.0 162.9L644.2 162.8L644.4 162.7L644.6 162.9L644.8 162.8L645.0 162.8L645.2 162.8L645.5 162.7L645.7 162.8L645.9 162.9L646.1 163.1L646.3 163.0L646.5 163.0L646.7 163.0L646.9 162.7L647.1 163.0L647.3 162.7L647.5 162.6L647.7 162.8L647.9 162.9L648.1 162.7L648.4 162.9L648.6 162.7L648.8 163.0L649.0 162.7L649.2 162.8L649.4 162.8L649.6 162.9L649.8 163.0L650.0 162.8L650.2 162.7L650.4 162.8L650.6 162.5L650.8 162.7L651.0 162.9L651.3 162.9L651.5 162.5L651.7 162.9L651.9 162.7L652.1 163.0L652.3 162.6L652.5 162.6L652.7 162.7L652.9 162.9L653.1 162.7L653.3 162.9L653.5 162.8L653.7 162.6L654.0 162.6L654.2 162.7L654.4 162.6L654.6 162.6L654.8 162.7L655.0 162.8L655.2 162.7L655.4 162.5L655.6 162.5L655.8 162.6L656.0 162.7L656.2 162.5L656.4 162.4L656.6 162.5L656.9 162.5L657.1 162.4L657.3 162.6L657.5 162.8L657.7 162.6L657.9 162.7L658.1 162.8L658.3 162.8L658.5 162.8L658.7 162.6L658.9 162.7L659.1 162.4L659.3 162.8L659.5 162.5L659.8 162.6L660.0 162.8L660.2 162.5L660.4 162.4L660.6 162.7L660.8 162.6L661.0 162.3L661.2 162.3L661.4 162.5L661.6 162.3L661.8 162.7L662.0 162.4L662.2 162.4L662.5 162.5L662.7 162.5L662.9 162.5L663.1 162.6L663.3 162.6L663.5 161.5L663.7 151.6L663.9 123.0L664.1 115.5L664.3 141.3L664.5 156.2L664.7 158.5L664.9 158.7L665.1 158.2L665.4 158.2L665.6 158.5L665.8 158.5L666.0 158.7L666.2 158.7L666.4 158.5L666.6 158.5L666.8 158.6L667.0 158.8L667.2 158.5L667.4 158.6L667.6 158.4L667.8 158.7L668.0 158.4L668.3 158.9L668.5 158.7L668.7 158.8L668.9 158.5L669.1 158.6L669.3 158.8L669.5 159.0L669.7 158.8L669.9 158.7L670.1 159.1L670.3 158.9L670.5 158.9L670.7 158.7L671.0 158.8L671.2 159.1L671.4 158.7L671.6 159.0L671.8 159.0L672.0 158.9L672.2 159.1L672.4 159.2L672.6 159.2L672.8 159.2L673.0 158.9L673.2 158.9L673.4 159.1L673.6 158.9L673.9 158.2L674.1 155.6L674.3 150.4L674.5 149.4L674.7 151.2L674.9 153.1L675.1 155.1L675.3 155.5L675.5 155.7L675.7 155.7L675.9 155.7L676.1 155.9L676.3 155.9L676.5 156.2L676.8 156.2L677.0 155.9L677.2 156.1L677.4 156.1L677.6 156.0L677.8 156.1L678.0 156.1L678.2 156.4L678.4 156.2L678.6 156.1L678.8 156.2L679.0 156.3L679.2 156.4L679.5 156.3L679.7 156.5L679.9 156.3L680.1 156.6L680.3 156.6L680.5 156.4L680.7 156.7L680.9 156.5L681.1 156.6L681.3 156.7L681.5 156.7L681.7 156.6L681.9 156.5L682.1 156.8L682.4 156.9L682.6 156.7L682.8 156.8L683.0 156.7L683.2 157.0L683.4 156.9L683.6 156.7L683.8 157.0L684.0 157.1L684.2 156.8L684.4 157.1L684.6 156.9L684.8 156.8L685.0 157.0L685.3 156.9L685.5 157.1L685.7 157.0L685.9 156.8L686.1 157.0L686.3 157.2L686.5 157.0L686.7 157.1L686.9 157.2L687.1 157.0L687.3 157.1L687.5 157.1L687.7 157.3L687.9 157.0L688.2 156.9L688.4 157.3L688.6 157.2L688.8 157.1L689.0 157.4L689.2 157.4L689.4 157.2L689.6 157.4L689.8 157.4L690.0 157.3L690.2 157.1L690.4 157.0L690.6 157.3L690.9 157.4L691.1 157.2L691.3 157.2L691.5 157.3L691.7 157.1L691.9 157.4L692.1 157.3L692.3 157.2L692.5 157.1L692.7 157.3L692.9 157.2L693.1 157.4L693.3 157.2L693.5 157.3L693.8 157.2L694.0 157.3L694.2 157.4L694.4 157.2L694.6 157.1L694.8 157.3L695.0 157.2L695.2 157.4L695.4 157.2L695.6 157.2L695.8 157.4L696.0 157.6L696.2 157.6L696.4 157.4L696.7 157.3L696.9 157.2L697.1 157.3L697.3 157.3L697.5 157.6L697.7 157.2L697.9 157.6L698.1 157.4L698.3 157.4L698.5 157.3L698.7 157.7L698.9 157.3L699.1 157.5L699.4 157.5L699.6 157.4L699.8 157.4L700.0 157.8L700.2 157.8L700.4 157.9L700.6 158.2L700.8 157.9L701.0 158.2L701.2 158.0L701.4 157.5L701.6 157.3L701.8 157.4L702.0 156.9L702.3 157.0L702.5 156.6L702.7 156.8L702.9 156.6L703.1 156.7L703.3 156.5L703.5 156.7L703.7 156.6L703.9 156.4L704.1 156.5L704.3 156.3L704.5 156.4L704.7 156.1L704.9 156.2L705.2 156.1L705.4 156.0L705.6 155.8L705.8 155.8L706.0 156.0L706.2 155.7L706.4 155.9L706.6 155.8L706.8 156.0L707.0 156.0L707.2 155.9L707.4 155.7L707.6 155.6L707.9 155.8L708.1 155.9L708.3 156.0L708.5 155.7L708.7 155.6L708.9 156.0L709.1 155.9L709.3 155.8L709.5 155.9L709.7 155.6" fill="none" stroke="#4468b8" stroke-width="0.55" stroke-linejoin="round"/>
<path d="M653.3 163.3V152.4" stroke="#4468b8" stroke-width="0.6"/>
<path d="M623.5 163.3V161.0" stroke="#4468b8" stroke-width="0.6"/>
<path d="M627.1 163.3V161.6" stroke="#4468b8" stroke-width="0.6"/>
<path d="M664.0 163.3V113.0" stroke="#4468b8" stroke-width="0.6"/>
<text x="650.6" y="117.2" font-size="3.6" fill="#333" stroke="#333" stroke-width="0.18" font-weight="400" text-anchor="start" >F1s</text>
<path d="M657.4 117.4L662.6 121" stroke="#555" stroke-width="0.3"/>
<text x="644.2" y="145.4" font-size="3.6" fill="#333" stroke="#333" stroke-width="0.18" font-weight="400" text-anchor="start" >O1s</text>
<path d="M650.8 146.4L653 151.2" stroke="#555" stroke-width="0.3"/>
<text x="619.6" y="153.6" font-size="3.4" fill="#333" stroke="#333" stroke-width="0.18" font-weight="400" text-anchor="start" >Si2p</text>
<text x="627.2" y="156.6" font-size="3.4" fill="#333" stroke="#333" stroke-width="0.18" font-weight="400" text-anchor="start" >Si2s</text>
<text x="635.4" y="153.2" font-size="3.6" fill="#333" stroke="#333" stroke-width="0.18" font-weight="400" text-anchor="start" >C1s</text>
<path d="M623.4 154.6V160.5M628.6 158L627.4 161.2M637.2 154.4L636.4 158.4" stroke="#555" stroke-width="0.3"/>
<text x="679.7" y="152.2" font-size="4.4" fill="#4468b8" stroke="#4468b8" stroke-width="0.18" font-weight="400" text-anchor="start" textLength="30.3" lengthAdjust="spacingAndGlyphs" >SiNPs-MP-PVDF</text>
<text x="691.7" y="163.6" font-size="4.4" fill="#b04848" stroke="#b04848" stroke-width="0.18" font-weight="400" text-anchor="start" textLength="18.3" lengthAdjust="spacingAndGlyphs" >MP-PVDF</text>
<text x="695.6" y="174.0" font-size="4.4" fill="#333" stroke="#333" stroke-width="0.18" font-weight="400" text-anchor="start" textLength="14.4" lengthAdjust="spacingAndGlyphs" >C-PVDF</text>
</g>
<g filter="url(#blw)">
<path d="M17.9 251.5H137.5" fill="none" stroke="#9a9a9a" stroke-width="0.7"/>
<path d="M17.8 366.6H137.8" stroke="#6e6e6e" stroke-width="1.0" stroke-dasharray="2.4 1.3"/>
<rect x="37.3" y="259.8" width="95.4" height="86.4" fill="#fff" stroke="#222" stroke-width="0.9"/>
<path d="M37.3 346.2v-1.8M46.8 346.2v-1.0M56.4 346.2v-1.8M65.9 346.2v-1.0M75.5 346.2v-1.8M85.0 346.2v-1.0M94.5 346.2v-1.8M104.1 346.2v-1.0M113.6 346.2v-1.8M123.2 346.2v-1.0M132.7 346.2v-1.8M37.3 264.7h1.8M37.3 274.9h1.0M37.3 285.1h1.8M37.3 295.3h1.0M37.3 305.4h1.8M37.3 315.6h1.0M37.3 325.8h1.8M37.3 336.0h1.0M37.3 346.2h1.8" stroke="#333" stroke-width="0.4"/>
<text x="37.3" y="351.0" font-size="3.2" fill="#333" stroke="#333" stroke-width="0.18" font-weight="400" text-anchor="middle" >150</text>
<text x="56.4" y="351.0" font-size="3.2" fill="#333" stroke="#333" stroke-width="0.18" font-weight="400" text-anchor="middle" >155</text>
<text x="75.5" y="351.0" font-size="3.2" fill="#333" stroke="#333" stroke-width="0.18" font-weight="400" text-anchor="middle" >160</text>
<text x="94.5" y="351.0" font-size="3.2" fill="#333" stroke="#333" stroke-width="0.18" font-weight="400" text-anchor="middle" >165</text>
<text x="113.6" y="351.0" font-size="3.2" fill="#333" stroke="#333" stroke-width="0.18" font-weight="400" text-anchor="middle" >170</text>
<text x="132.7" y="351.0" font-size="3.2" fill="#333" stroke="#333" stroke-width="0.18" font-weight="400" text-anchor="middle" >175</text>
<text x="35.0" y="265.8" font-size="3.2" fill="#333" stroke="#333" stroke-width="0.18" font-weight="400" text-anchor="end" >1.0</text>
<text x="35.0" y="286.2" font-size="3.2" fill="#333" stroke="#333" stroke-width="0.18" font-weight="400" text-anchor="end" >0.8</text>
<text x="35.0" y="306.5" font-size="3.2" fill="#333" stroke="#333" stroke-width="0.18" font-weight="400" text-anchor="end" >0.6</text>
<text x="35.0" y="326.9" font-size="3.2" fill="#333" stroke="#333" stroke-width="0.18" font-weight="400" text-anchor="end" >0.4</text>
<text x="35.0" y="347.3" font-size="3.2" fill="#333" stroke="#333" stroke-width="0.18" font-weight="400" text-anchor="end" >0.2</text>
<path d="M37.3 289.9H132.7" stroke="#9a7a68" stroke-width="0.9" stroke-dasharray="6 2.4"/>
<path d="M37.3 315.4H132.7" stroke="#4848b0" stroke-width="0.9" stroke-dasharray="6 2.4"/>
<rect x="66.8" y="280.9" width="16.9" height="3.6" fill="#8a8a8a"/>
<rect x="69.7" y="273.8" width="4.0" height="7.1" fill="#909090"/>
<rect x="76.8" y="273.8" width="4.0" height="7.1" fill="#909090"/>
<rect x="73.7" y="272.8" width="3.1" height="6.3" fill="#3f62b4"/>
<circle cx="75.1" cy="267.8" r="7.8" fill="url(#dg)"/>
<rect x="66.8" y="337.5" width="16.9" height="2.8" fill="#8a8a8a"/>
<rect x="69.7" y="330.3" width="4.0" height="7.2" fill="#909090"/>
<rect x="76.8" y="330.3" width="4.0" height="7.2" fill="#909090"/>
<circle cx="75.1" cy="323.7" r="7.2" fill="url(#dg)"/>
<polygon points="59.4,268.1 59.9,269.5 61.4,269.6 60.2,270.5 60.6,271.9 59.4,271.1 58.2,271.9 58.6,270.5 57.4,269.6 58.9,269.5" fill="#111" stroke="none" stroke-width="0"/>
<polygon points="111.2,264.3 111.6,265.4 112.8,265.5 111.9,266.2 112.2,267.4 111.2,266.7 110.2,267.4 110.5,266.2 109.6,265.5 110.8,265.4" fill="#111" stroke="none" stroke-width="0"/>
<text x="115.3" y="267.0" font-size="2.8" fill="#333" stroke="#333" stroke-width="0.18" font-weight="400" text-anchor="start" textLength="11.4" lengthAdjust="spacingAndGlyphs" >MP-PVDF</text>
<text x="88.7" y="274.1" font-size="3.2" fill="#5a3a8a" stroke="#5a3a8a" stroke-width="0.18" font-weight="400" text-anchor="start" textLength="16.6" lengthAdjust="spacingAndGlyphs" >Pinned state</text>
<text x="88.7" y="300.9" font-size="3.2" fill="#5a3a8a" stroke="#5a3a8a" stroke-width="0.18" font-weight="400" text-anchor="start" textLength="21.3" lengthAdjust="spacingAndGlyphs" >Transition state</text>
<text x="88.7" y="330.1" font-size="3.2" fill="#5a3a8a" stroke="#5a3a8a" stroke-width="0.18" font-weight="400" text-anchor="start" textLength="22.5" lengthAdjust="spacingAndGlyphs" >Suspended state</text>
<text transform="translate(23.6 305.8) rotate(-90)" text-anchor="middle" font-size="5.6" fill="#333" textLength="54.7" lengthAdjust="spacingAndGlyphs">Wetting state factor, ζ</text>
<text x="63.7" y="361.8" font-size="5.6" fill="#333" stroke="#333" stroke-width="0.18" font-weight="400" text-anchor="start" textLength="41.1" lengthAdjust="spacingAndGlyphs" >Advancing angle (°)</text>
<text x="18.6" y="258.4" font-size="5.6" fill="#333" stroke="#333" stroke-width="0.18" font-weight="400" text-anchor="start" textLength="5.0" lengthAdjust="spacingAndGlyphs" >a)</text>
<rect x="37.8" y="374.9" width="93.5" height="86.5" fill="#fff" stroke="#222" stroke-width="0.9"/>
<path d="M44.7 461.4v-1.8M59.1 461.4v-1.0M73.4 461.4v-1.8M87.8 461.4v-1.0M102.1 461.4v-1.8M116.5 461.4v-1.0M130.8 461.4v-1.8" stroke="#333" stroke-width="0.5"/>
<text x="44.7" y="468.7" font-size="5.0" fill="#333" stroke="#333" stroke-width="0.18" font-weight="400" text-anchor="middle" >120</text>
<text x="73.4" y="468.7" font-size="5.0" fill="#333" stroke="#333" stroke-width="0.18" font-weight="400" text-anchor="middle" >140</text>
<text x="102.1" y="468.7" font-size="5.0" fill="#333" stroke="#333" stroke-width="0.18" font-weight="400" text-anchor="middle" >160</text>
<text x="130.8" y="468.7" font-size="5.0" fill="#333" stroke="#333" stroke-width="0.18" font-weight="400" text-anchor="middle" >180</text>
<path d="M67.2 374.9V461.4" stroke="#4848b0" stroke-width="0.9" stroke-dasharray="6.5 2.6"/>
<path d="M84.3 374.9V461.4" stroke="#8e5a50" stroke-width="0.9" stroke-dasharray="6.5 2.6"/>
<rect x="40.1" y="424.6" width="19.8" height="3.2" fill="#8a8a8a"/>
<rect x="43.0" y="417.7" width="4.4" height="6.9" fill="#909090"/>
<rect x="52.6" y="417.7" width="4.4" height="6.9" fill="#909090"/>
<rect x="47.4" y="416.7" width="5.2" height="6.2" fill="#3f62b4"/>
<circle cx="49.7" cy="408.8" r="8.6" fill="url(#dg)"/>
<rect x="94.1" y="424.6" width="19.8" height="3.2" fill="#8a8a8a"/>
<rect x="97.0" y="417.7" width="4.6" height="6.9" fill="#909090"/>
<rect x="106.4" y="417.7" width="4.6" height="6.9" fill="#909090"/>
<circle cx="103.6" cy="408.8" r="8.6" fill="url(#dg)"/>
<polygon points="124.7,415.7 125.4,417.5 127.3,417.6 125.8,418.8 126.3,420.6 124.7,419.5 123.1,420.6 123.6,418.8 122.1,417.6 124.0,417.5" fill="#fff" stroke="#111" stroke-width="0.8"/>
<polygon points="100.9,378.4 101.6,380.2 103.5,380.3 102.0,381.5 102.5,383.3 100.9,382.2 99.3,383.3 99.8,381.5 98.3,380.3 100.2,380.2" fill="#fff" stroke="#111" stroke-width="0.8"/>
<text x="106.1" y="382.1" font-size="2.8" fill="#333" stroke="#333" stroke-width="0.18" font-weight="400" text-anchor="start" textLength="17.8" lengthAdjust="spacingAndGlyphs" >SiNPs-MP-PVDF</text>
<circle cx="92.4" cy="388" r="1.5" fill="#fff" stroke="#222" stroke-width="0.5"/>
<circle cx="95.7" cy="388" r="1.5" fill="#fff" stroke="#222" stroke-width="0.5"/>
<circle cx="99.0" cy="388" r="1.5" fill="#fff" stroke="#222" stroke-width="0.5"/>
<circle cx="102.3" cy="388" r="1.5" fill="#fff" stroke="#222" stroke-width="0.5"/>
<text x="106.1" y="389.0" font-size="2.8" fill="#333" stroke="#333" stroke-width="0.18" font-weight="400" text-anchor="start" textLength="15.3" lengthAdjust="spacingAndGlyphs" >Close-packed</text>
<text x="41.0" y="434.0" font-size="3.2" fill="#5a3a8a" stroke="#5a3a8a" stroke-width="0.18" font-weight="400" text-anchor="start" textLength="17.3" lengthAdjust="spacingAndGlyphs" >Pinned state</text>
<text x="75.6" y="429.3" font-size="3.2" fill="#5a3a8a" stroke="#5a3a8a" stroke-width="0.18" font-weight="400" text-anchor="middle" textLength="13.0" lengthAdjust="spacingAndGlyphs" >Transition</text>
<text x="75.6" y="433.6" font-size="3.2" fill="#5a3a8a" stroke="#5a3a8a" stroke-width="0.18" font-weight="400" text-anchor="middle" textLength="6.6" lengthAdjust="spacingAndGlyphs" >state</text>
<text x="93.0" y="434.0" font-size="3.2" fill="#5a3a8a" stroke="#5a3a8a" stroke-width="0.18" font-weight="400" text-anchor="start" textLength="23.5" lengthAdjust="spacingAndGlyphs" >Suspended state</text>
<text transform="translate(30.4 417.1) rotate(-90)" text-anchor="middle" font-size="5.4" fill="#333" textLength="92.8" lengthAdjust="spacingAndGlyphs">Period/Diameter of micropillar (P/D)-2</text>
<text x="59.4" y="477.0" font-size="5.4" fill="#333" stroke="#333" stroke-width="0.18" font-weight="400" text-anchor="start" textLength="49.2" lengthAdjust="spacingAndGlyphs" >Apparent contact angle/°</text>
<text x="19.2" y="373.8" font-size="5.6" fill="#333" stroke="#333" stroke-width="0.18" font-weight="400" text-anchor="start" textLength="5.0" lengthAdjust="spacingAndGlyphs" >b)</text>
</g>
<g filter="url(#blm)">
<rect x="228.9" y="277.0" width="184.4" height="76.0" fill="#fff" stroke="#333" stroke-width="1"/>
<text x="228.9" y="359.3" font-size="4.5" fill="#222" stroke="#222" stroke-width="0.22" font-weight="400" text-anchor="middle" >1.0</text>
<text x="259.6" y="359.3" font-size="4.5" fill="#222" stroke="#222" stroke-width="0.22" font-weight="400" text-anchor="middle" >1.1</text>
<text x="290.2" y="359.3" font-size="4.5" fill="#222" stroke="#222" stroke-width="0.22" font-weight="400" text-anchor="middle" >1.2</text>
<text x="320.9" y="359.3" font-size="4.5" fill="#222" stroke="#222" stroke-width="0.22" font-weight="400" text-anchor="middle" >1.3</text>
<text x="351.5" y="359.3" font-size="4.5" fill="#222" stroke="#222" stroke-width="0.22" font-weight="400" text-anchor="middle" >1.4</text>
<text x="382.1" y="359.3" font-size="4.5" fill="#222" stroke="#222" stroke-width="0.22" font-weight="400" text-anchor="middle" >1.5</text>
<text x="412.8" y="359.3" font-size="4.5" fill="#222" stroke="#222" stroke-width="0.22" font-weight="400" text-anchor="middle" >1.6</text>
<text x="226.0" y="278.6" font-size="4.5" fill="#222" stroke="#222" stroke-width="0.22" font-weight="400" text-anchor="end" >1.2</text>
<text x="226.0" y="292.5" font-size="4.5" fill="#222" stroke="#222" stroke-width="0.22" font-weight="400" text-anchor="end" >1.0</text>
<text x="226.0" y="306.3" font-size="4.5" fill="#222" stroke="#222" stroke-width="0.22" font-weight="400" text-anchor="end" >0.8</text>
<text x="226.0" y="320.2" font-size="4.5" fill="#222" stroke="#222" stroke-width="0.22" font-weight="400" text-anchor="end" >0.6</text>
<text x="226.0" y="334.1" font-size="4.5" fill="#222" stroke="#222" stroke-width="0.22" font-weight="400" text-anchor="end" >0.4</text>
<text x="226.0" y="348.0" font-size="4.5" fill="#222" stroke="#222" stroke-width="0.22" font-weight="400" text-anchor="end" >0.2</text>
<path d="M228.9 353.0v-1.8M259.6 353.0v-1.8M290.2 353.0v-1.8M320.9 353.0v-1.8M351.5 353.0v-1.8M382.1 353.0v-1.8M412.8 353.0v-1.8M244.2 353.0v-1.0M274.9 353.0v-1.0M305.5 353.0v-1.0M336.2 353.0v-1.0M366.8 353.0v-1.0M397.5 353.0v-1.0M228.9 277.0h1.8M228.9 290.9h1.8M228.9 304.7h1.8M228.9 318.6h1.8M228.9 332.5h1.8M228.9 346.4h1.8M228.9 283.9h1.0M228.9 297.8h1.0M228.9 311.7h1.0M228.9 325.5h1.0M228.9 339.4h1.0" stroke="#444" stroke-width="0.5"/>
<text transform="translate(208.0 315.3) rotate(-90)" text-anchor="middle" font-size="7.4" fill="#1a1a1a" stroke="#1a1a1a" stroke-width="0.22" textLength="65.6" lengthAdjust="spacingAndGlyphs">Normalized Flux (J/J<tspan font-size="4.8" dy="1.3">0</tspan><tspan dy="-1.3">)</tspan></text>
<text x="189.8" y="280.1" font-size="7.2" fill="#222" stroke="#222" stroke-width="0.1" font-weight="400" text-anchor="start" textLength="3.5" lengthAdjust="spacingAndGlyphs" >a</text>
<text x="281.8" y="375.8" font-size="8.4" fill="#111" stroke="#111" stroke-width="0.1" font-weight="400" text-anchor="start" textLength="52.2" lengthAdjust="spacingAndGlyphs" >Concentration</text>
<text x="338.3" y="375.8" font-size="8.4" fill="#111" stroke="#111" stroke-width="0.1" font-weight="400" text-anchor="start" textLength="22.6" lengthAdjust="spacingAndGlyphs" >Factor</text>
<path d="M228.9 287.8L236.4 289.5L248.3 288.9L255.2 289.5L262.0 290.2L269.5 290.2L276.7 290.2L284.2 291.2L291.7 291.2L300.6 291.2L309.8 291.9L318.4 292.3L327.6 292.3L337.8 292.3L348.1 292.3L358.7 294.0L370.3 294.0L381.6 295.7L393.5 295.3" fill="none" stroke="#9bbb59" stroke-width="0.8"/>
<path d="M228.9 285.3L231.4 289.7H226.3Z" fill="#fff" stroke="#9bbb59" stroke-width="0.8"/>
<path d="M236.4 287.0L238.9 291.4H233.8Z" fill="#fff" stroke="#9bbb59" stroke-width="0.8"/>
<path d="M248.3 286.3L250.9 290.7H245.8Z" fill="#fff" stroke="#9bbb59" stroke-width="0.8"/>
<path d="M255.2 287.0L257.7 291.4H252.6Z" fill="#fff" stroke="#9bbb59" stroke-width="0.8"/>
<path d="M262.0 287.7L264.5 292.1H259.5Z" fill="#fff" stroke="#9bbb59" stroke-width="0.8"/>
<path d="M269.5 287.7L272.0 292.1H267.0Z" fill="#fff" stroke="#9bbb59" stroke-width="0.8"/>
<path d="M276.7 287.7L279.2 292.1H274.2Z" fill="#fff" stroke="#9bbb59" stroke-width="0.8"/>
<path d="M284.2 288.7L286.7 293.1H281.7Z" fill="#fff" stroke="#9bbb59" stroke-width="0.8"/>
<path d="M291.7 288.7L294.2 293.1H289.2Z" fill="#fff" stroke="#9bbb59" stroke-width="0.8"/>
<path d="M300.6 288.7L303.1 293.1H298.1Z" fill="#fff" stroke="#9bbb59" stroke-width="0.8"/>
<path d="M309.8 289.4L312.4 293.8H307.3Z" fill="#fff" stroke="#9bbb59" stroke-width="0.8"/>
<path d="M318.4 289.7L320.9 294.1H315.8Z" fill="#fff" stroke="#9bbb59" stroke-width="0.8"/>
<path d="M327.6 289.7L330.1 294.1H325.1Z" fill="#fff" stroke="#9bbb59" stroke-width="0.8"/>
<path d="M337.8 289.7L340.4 294.1H335.3Z" fill="#fff" stroke="#9bbb59" stroke-width="0.8"/>
<path d="M348.1 289.7L350.6 294.1H345.6Z" fill="#fff" stroke="#9bbb59" stroke-width="0.8"/>
<path d="M358.7 291.5L361.2 295.9H356.2Z" fill="#fff" stroke="#9bbb59" stroke-width="0.8"/>
<path d="M370.3 291.5L372.8 295.9H367.8Z" fill="#fff" stroke="#9bbb59" stroke-width="0.8"/>
<path d="M381.6 293.2L384.1 297.6H379.0Z" fill="#fff" stroke="#9bbb59" stroke-width="0.8"/>
<path d="M393.5 292.8L396.1 297.2H391.0Z" fill="#fff" stroke="#9bbb59" stroke-width="0.8"/>
<path d="M233.0 291.2L241.5 289.5L250.0 290.6L259.3 291.2L267.8 291.2L276.7 291.9L282.5 292.3L289.3 293.6L300.3 294.0L311.5 300.5L322.8 298.8L335.4 304.9L346.4 304.2L358.3 311.7L369.6 319.6L379.9 319.3L389.1 328.1L397.6 336.7" fill="none" stroke="#c0504d" stroke-width="0.8"/>
<circle cx="233.0" cy="291.2" r="2.2" fill="#fff" stroke="#c0504d" stroke-width="0.8"/>
<circle cx="241.5" cy="289.5" r="2.2" fill="#fff" stroke="#c0504d" stroke-width="0.8"/>
<circle cx="250.0" cy="290.6" r="2.2" fill="#fff" stroke="#c0504d" stroke-width="0.8"/>
<circle cx="259.3" cy="291.2" r="2.2" fill="#fff" stroke="#c0504d" stroke-width="0.8"/>
<circle cx="267.8" cy="291.2" r="2.2" fill="#fff" stroke="#c0504d" stroke-width="0.8"/>
<circle cx="276.7" cy="291.9" r="2.2" fill="#fff" stroke="#c0504d" stroke-width="0.8"/>
<circle cx="282.5" cy="292.3" r="2.2" fill="#fff" stroke="#c0504d" stroke-width="0.8"/>
<circle cx="289.3" cy="293.6" r="2.2" fill="#fff" stroke="#c0504d" stroke-width="0.8"/>
<circle cx="300.3" cy="294.0" r="2.2" fill="#fff" stroke="#c0504d" stroke-width="0.8"/>
<circle cx="311.5" cy="300.5" r="2.2" fill="#fff" stroke="#c0504d" stroke-width="0.8"/>
<circle cx="322.8" cy="298.8" r="2.2" fill="#fff" stroke="#c0504d" stroke-width="0.8"/>
<circle cx="335.4" cy="304.9" r="2.2" fill="#fff" stroke="#c0504d" stroke-width="0.8"/>
<circle cx="346.4" cy="304.2" r="2.2" fill="#fff" stroke="#c0504d" stroke-width="0.8"/>
<circle cx="358.3" cy="311.7" r="2.2" fill="#fff" stroke="#c0504d" stroke-width="0.8"/>
<circle cx="369.6" cy="319.6" r="2.2" fill="#fff" stroke="#c0504d" stroke-width="0.8"/>
<circle cx="379.9" cy="319.3" r="2.2" fill="#fff" stroke="#c0504d" stroke-width="0.8"/>
<circle cx="389.1" cy="328.1" r="2.2" fill="#fff" stroke="#c0504d" stroke-width="0.8"/>
<circle cx="397.6" cy="336.7" r="2.2" fill="#fff" stroke="#c0504d" stroke-width="0.8"/>
<path d="M230.2 291.2L235.7 285.1L243.2 290.6L251.1 291.2L259.3 291.9L267.8 293.3L275.7 294.7L284.2 295.7L293.8 297.4L303.0 300.5L311.5 303.2L320.8 306.6L329.3 309.4L337.8 312.4L346.4 315.2L355.3 321.3L362.8 324.4L370.3 326.4L379.9 329.5L386.7 332.2L392.5 332.2L398.7 335.7" fill="none" stroke="#4f81bd" stroke-width="0.8"/>
<rect x="228.2" y="289.3" width="4.0" height="4.0" fill="#fff" stroke="#4f81bd" stroke-width="0.8"/>
<rect x="233.7" y="283.1" width="4.0" height="4.0" fill="#fff" stroke="#4f81bd" stroke-width="0.8"/>
<rect x="241.2" y="288.6" width="4.0" height="4.0" fill="#fff" stroke="#4f81bd" stroke-width="0.8"/>
<rect x="249.1" y="289.3" width="4.0" height="4.0" fill="#fff" stroke="#4f81bd" stroke-width="0.8"/>
<rect x="257.3" y="290.0" width="4.0" height="4.0" fill="#fff" stroke="#4f81bd" stroke-width="0.8"/>
<rect x="265.8" y="291.3" width="4.0" height="4.0" fill="#fff" stroke="#4f81bd" stroke-width="0.8"/>
<rect x="273.7" y="292.7" width="4.0" height="4.0" fill="#fff" stroke="#4f81bd" stroke-width="0.8"/>
<rect x="282.2" y="293.7" width="4.0" height="4.0" fill="#fff" stroke="#4f81bd" stroke-width="0.8"/>
<rect x="291.8" y="295.4" width="4.0" height="4.0" fill="#fff" stroke="#4f81bd" stroke-width="0.8"/>
<rect x="301.0" y="298.5" width="4.0" height="4.0" fill="#fff" stroke="#4f81bd" stroke-width="0.8"/>
<rect x="309.6" y="301.2" width="4.0" height="4.0" fill="#fff" stroke="#4f81bd" stroke-width="0.8"/>
<rect x="318.8" y="304.6" width="4.0" height="4.0" fill="#fff" stroke="#4f81bd" stroke-width="0.8"/>
<rect x="327.3" y="307.4" width="4.0" height="4.0" fill="#fff" stroke="#4f81bd" stroke-width="0.8"/>
<rect x="335.9" y="310.4" width="4.0" height="4.0" fill="#fff" stroke="#4f81bd" stroke-width="0.8"/>
<rect x="344.4" y="313.2" width="4.0" height="4.0" fill="#fff" stroke="#4f81bd" stroke-width="0.8"/>
<rect x="353.3" y="319.3" width="4.0" height="4.0" fill="#fff" stroke="#4f81bd" stroke-width="0.8"/>
<rect x="360.8" y="322.4" width="4.0" height="4.0" fill="#fff" stroke="#4f81bd" stroke-width="0.8"/>
<rect x="368.3" y="324.5" width="4.0" height="4.0" fill="#fff" stroke="#4f81bd" stroke-width="0.8"/>
<rect x="377.9" y="327.5" width="4.0" height="4.0" fill="#fff" stroke="#4f81bd" stroke-width="0.8"/>
<rect x="384.7" y="330.3" width="4.0" height="4.0" fill="#fff" stroke="#4f81bd" stroke-width="0.8"/>
<rect x="390.5" y="330.3" width="4.0" height="4.0" fill="#fff" stroke="#4f81bd" stroke-width="0.8"/>
<rect x="396.7" y="333.7" width="4.0" height="4.0" fill="#fff" stroke="#4f81bd" stroke-width="0.8"/>
<circle cx="243.7" cy="325.6" r="2.1" fill="#fff" stroke="#c0504d" stroke-width="0.8"/>
<text x="248.2" y="327.3" font-size="4.8" fill="#3a3a3a" stroke="#3a3a3a" stroke-width="0.1" font-weight="400" text-anchor="start" textLength="14.2" lengthAdjust="spacingAndGlyphs" font-style="italic">C-PVDF</text>
<rect x="241.8" y="329.8" width="3.8" height="3.8" fill="#fff" stroke="#4f81bd" stroke-width="0.8"/>
<text x="248.2" y="333.4" font-size="4.8" fill="#3a3a3a" stroke="#3a3a3a" stroke-width="0.1" font-weight="400" text-anchor="start" textLength="17.7" lengthAdjust="spacingAndGlyphs" font-style="italic">MP-PVDF</text>
<path d="M243.7 335.9L246.1 340.1H241.3Z" fill="#fff" stroke="#9bbb59" stroke-width="0.8"/>
<text x="248.2" y="340.0" font-size="4.8" fill="#3a3a3a" stroke="#3a3a3a" stroke-width="0.1" font-weight="400" text-anchor="start" textLength="29.6" lengthAdjust="spacingAndGlyphs" font-style="italic">SiNPs-MP-PVDF</text>
<rect x="518.9" y="277.1" width="185.9" height="75.9" fill="#fff" stroke="#333" stroke-width="1"/>
<text x="518.9" y="359.3" font-size="4.5" fill="#222" stroke="#222" stroke-width="0.22" font-weight="400" text-anchor="middle" >1.0</text>
<text x="549.8" y="359.3" font-size="4.5" fill="#222" stroke="#222" stroke-width="0.22" font-weight="400" text-anchor="middle" >1.2</text>
<text x="580.7" y="359.3" font-size="4.5" fill="#222" stroke="#222" stroke-width="0.22" font-weight="400" text-anchor="middle" >1.4</text>
<text x="611.7" y="359.3" font-size="4.5" fill="#222" stroke="#222" stroke-width="0.22" font-weight="400" text-anchor="middle" >1.6</text>
<text x="642.6" y="359.3" font-size="4.5" fill="#222" stroke="#222" stroke-width="0.22" font-weight="400" text-anchor="middle" >1.8</text>
<text x="673.5" y="359.3" font-size="4.5" fill="#222" stroke="#222" stroke-width="0.22" font-weight="400" text-anchor="middle" >2.0</text>
<text x="704.4" y="359.3" font-size="4.5" fill="#222" stroke="#222" stroke-width="0.22" font-weight="400" text-anchor="middle" >2.2</text>
<text x="516.0" y="278.7" font-size="4.5" fill="#222" stroke="#222" stroke-width="0.22" font-weight="400" text-anchor="end" >1.2</text>
<text x="516.0" y="292.4" font-size="4.5" fill="#222" stroke="#222" stroke-width="0.22" font-weight="400" text-anchor="end" >1.0</text>
<text x="516.0" y="306.1" font-size="4.5" fill="#222" stroke="#222" stroke-width="0.22" font-weight="400" text-anchor="end" >0.8</text>
<text x="516.0" y="319.8" font-size="4.5" fill="#222" stroke="#222" stroke-width="0.22" font-weight="400" text-anchor="end" >0.6</text>
<text x="516.0" y="333.5" font-size="4.5" fill="#222" stroke="#222" stroke-width="0.22" font-weight="400" text-anchor="end" >0.4</text>
<text x="516.0" y="347.2" font-size="4.5" fill="#222" stroke="#222" stroke-width="0.22" font-weight="400" text-anchor="end" >0.2</text>
<path d="M518.9 353.0v-1.8M549.8 353.0v-1.8M580.7 353.0v-1.8M611.7 353.0v-1.8M642.6 353.0v-1.8M673.5 353.0v-1.8M704.4 353.0v-1.8M534.4 353.0v-1.0M565.3 353.0v-1.0M596.2 353.0v-1.0M627.1 353.0v-1.0M658.0 353.0v-1.0M689.0 353.0v-1.0M518.9 277.1h1.8M518.9 290.8h1.8M518.9 304.5h1.8M518.9 318.2h1.8M518.9 331.9h1.8M518.9 345.6h1.8M518.9 284.0h1.0M518.9 297.6h1.0M518.9 311.4h1.0M518.9 325.1h1.0M518.9 338.8h1.0" stroke="#444" stroke-width="0.5"/>
<text transform="translate(502.0 315.4) rotate(-90)" text-anchor="middle" font-size="7.4" fill="#1a1a1a" stroke="#1a1a1a" stroke-width="0.22" textLength="65.6" lengthAdjust="spacingAndGlyphs">Normalized Flux (J/J<tspan font-size="4.8" dy="1.3">0</tspan><tspan dy="-1.3">)</tspan></text>
<text x="479.2" y="280.2" font-size="7.2" fill="#222" stroke="#222" stroke-width="0.1" font-weight="400" text-anchor="start" textLength="3.5" lengthAdjust="spacingAndGlyphs" >a</text>
<text x="572.9" y="374.8" font-size="8.4" fill="#111" stroke="#111" stroke-width="0.1" font-weight="400" text-anchor="start" textLength="52.2" lengthAdjust="spacingAndGlyphs" >Concentration</text>
<text x="629.4" y="374.8" font-size="8.4" fill="#111" stroke="#111" stroke-width="0.1" font-weight="400" text-anchor="start" textLength="22.6" lengthAdjust="spacingAndGlyphs" >Factor</text>
<path d="M520.1 290.6L527.7 289.3L534.9 289.3L542.1 289.3L548.8 289.3L555.1 288.5L562.3 290.6L570.7 290.6L579.2 290.6L587.6 290.6L595.2 289.3L604.5 289.8L612.1 290.6L619.2 290.6L625.6 289.8L636.1 290.6L650.9 289.8L662.7 292.7L672.8 291.5L691.8 291.5" fill="none" stroke="#9bbb59" stroke-width="0.8"/>
<path d="M520.1 288.1L522.7 292.5H517.6Z" fill="#fff" stroke="#9bbb59" stroke-width="0.8"/>
<path d="M527.7 286.8L530.3 291.2H525.2Z" fill="#fff" stroke="#9bbb59" stroke-width="0.8"/>
<path d="M534.9 286.8L537.4 291.2H532.4Z" fill="#fff" stroke="#9bbb59" stroke-width="0.8"/>
<path d="M542.1 286.8L544.6 291.2H539.5Z" fill="#fff" stroke="#9bbb59" stroke-width="0.8"/>
<path d="M548.8 286.8L551.3 291.2H546.3Z" fill="#fff" stroke="#9bbb59" stroke-width="0.8"/>
<path d="M555.1 286.0L557.7 290.4H552.6Z" fill="#fff" stroke="#9bbb59" stroke-width="0.8"/>
<path d="M562.3 288.1L564.8 292.5H559.8Z" fill="#fff" stroke="#9bbb59" stroke-width="0.8"/>
<path d="M570.7 288.1L573.3 292.5H568.2Z" fill="#fff" stroke="#9bbb59" stroke-width="0.8"/>
<path d="M579.2 288.1L581.7 292.5H576.7Z" fill="#fff" stroke="#9bbb59" stroke-width="0.8"/>
<path d="M587.6 288.1L590.1 292.5H585.1Z" fill="#fff" stroke="#9bbb59" stroke-width="0.8"/>
<path d="M595.2 286.8L597.7 291.2H592.7Z" fill="#fff" stroke="#9bbb59" stroke-width="0.8"/>
<path d="M604.5 287.2L607.0 291.6H602.0Z" fill="#fff" stroke="#9bbb59" stroke-width="0.8"/>
<path d="M612.1 288.1L614.6 292.5H609.5Z" fill="#fff" stroke="#9bbb59" stroke-width="0.8"/>
<path d="M619.2 288.1L621.8 292.5H616.7Z" fill="#fff" stroke="#9bbb59" stroke-width="0.8"/>
<path d="M625.6 287.2L628.1 291.6H623.0Z" fill="#fff" stroke="#9bbb59" stroke-width="0.8"/>
<path d="M636.1 288.1L638.6 292.5H633.6Z" fill="#fff" stroke="#9bbb59" stroke-width="0.8"/>
<path d="M650.9 287.2L653.4 291.6H648.4Z" fill="#fff" stroke="#9bbb59" stroke-width="0.8"/>
<path d="M662.7 290.2L665.2 294.6H660.2Z" fill="#fff" stroke="#9bbb59" stroke-width="0.8"/>
<path d="M672.8 288.9L675.3 293.3H670.3Z" fill="#fff" stroke="#9bbb59" stroke-width="0.8"/>
<path d="M691.8 288.9L694.3 293.3H689.3Z" fill="#fff" stroke="#9bbb59" stroke-width="0.8"/>
<path d="M521.0 291.9L526.5 290.6L533.6 291.5L541.2 291.9L549.7 291.9L558.1 291.9L565.3 291.9L572.9 292.7L581.3 292.7L589.7 291.5L598.2 291.9L606.6 291.5L612.9 291.9L617.1 296.1L625.6 300.3L634.9 305.4L645.8 313.0L653.8 318.9L661.4 325.6" fill="none" stroke="#c0504d" stroke-width="0.8"/>
<circle cx="521.0" cy="291.9" r="2.2" fill="#fff" stroke="#c0504d" stroke-width="0.8"/>
<circle cx="526.5" cy="290.6" r="2.2" fill="#fff" stroke="#c0504d" stroke-width="0.8"/>
<circle cx="533.6" cy="291.5" r="2.2" fill="#fff" stroke="#c0504d" stroke-width="0.8"/>
<circle cx="541.2" cy="291.9" r="2.2" fill="#fff" stroke="#c0504d" stroke-width="0.8"/>
<circle cx="549.7" cy="291.9" r="2.2" fill="#fff" stroke="#c0504d" stroke-width="0.8"/>
<circle cx="558.1" cy="291.9" r="2.2" fill="#fff" stroke="#c0504d" stroke-width="0.8"/>
<circle cx="565.3" cy="291.9" r="2.2" fill="#fff" stroke="#c0504d" stroke-width="0.8"/>
<circle cx="572.9" cy="292.7" r="2.2" fill="#fff" stroke="#c0504d" stroke-width="0.8"/>
<circle cx="581.3" cy="292.7" r="2.2" fill="#fff" stroke="#c0504d" stroke-width="0.8"/>
<circle cx="589.7" cy="291.5" r="2.2" fill="#fff" stroke="#c0504d" stroke-width="0.8"/>
<circle cx="598.2" cy="291.9" r="2.2" fill="#fff" stroke="#c0504d" stroke-width="0.8"/>
<circle cx="606.6" cy="291.5" r="2.2" fill="#fff" stroke="#c0504d" stroke-width="0.8"/>
<circle cx="612.9" cy="291.9" r="2.2" fill="#fff" stroke="#c0504d" stroke-width="0.8"/>
<circle cx="617.1" cy="296.1" r="2.2" fill="#fff" stroke="#c0504d" stroke-width="0.8"/>
<circle cx="625.6" cy="300.3" r="2.2" fill="#fff" stroke="#c0504d" stroke-width="0.8"/>
<circle cx="634.9" cy="305.4" r="2.2" fill="#fff" stroke="#c0504d" stroke-width="0.8"/>
<circle cx="645.8" cy="313.0" r="2.2" fill="#fff" stroke="#c0504d" stroke-width="0.8"/>
<circle cx="653.8" cy="318.9" r="2.2" fill="#fff" stroke="#c0504d" stroke-width="0.8"/>
<circle cx="661.4" cy="325.6" r="2.2" fill="#fff" stroke="#c0504d" stroke-width="0.8"/>
<path d="M520.1 291.9L524.4 291.5L530.7 291.5L537.8 291.9L543.3 291.5L550.5 291.9L559.4 292.7L566.5 291.9L575.0 291.9L583.4 291.5L589.7 291.5L598.2 291.9L605.3 291.5L610.8 291.5L619.2 291.5L625.6 291.9L631.9 294.0L640.3 298.2L649.6 304.5L658.5 310.4L664.8 315.9L679.6 323.5" fill="none" stroke="#4f81bd" stroke-width="0.8"/>
<rect x="518.2" y="289.9" width="4.0" height="4.0" fill="#fff" stroke="#4f81bd" stroke-width="0.8"/>
<rect x="522.4" y="289.5" width="4.0" height="4.0" fill="#fff" stroke="#4f81bd" stroke-width="0.8"/>
<rect x="528.7" y="289.5" width="4.0" height="4.0" fill="#fff" stroke="#4f81bd" stroke-width="0.8"/>
<rect x="535.9" y="289.9" width="4.0" height="4.0" fill="#fff" stroke="#4f81bd" stroke-width="0.8"/>
<rect x="541.4" y="289.5" width="4.0" height="4.0" fill="#fff" stroke="#4f81bd" stroke-width="0.8"/>
<rect x="548.5" y="289.9" width="4.0" height="4.0" fill="#fff" stroke="#4f81bd" stroke-width="0.8"/>
<rect x="557.4" y="290.7" width="4.0" height="4.0" fill="#fff" stroke="#4f81bd" stroke-width="0.8"/>
<rect x="564.5" y="289.9" width="4.0" height="4.0" fill="#fff" stroke="#4f81bd" stroke-width="0.8"/>
<rect x="573.0" y="289.9" width="4.0" height="4.0" fill="#fff" stroke="#4f81bd" stroke-width="0.8"/>
<rect x="581.4" y="289.5" width="4.0" height="4.0" fill="#fff" stroke="#4f81bd" stroke-width="0.8"/>
<rect x="587.7" y="289.5" width="4.0" height="4.0" fill="#fff" stroke="#4f81bd" stroke-width="0.8"/>
<rect x="596.2" y="289.9" width="4.0" height="4.0" fill="#fff" stroke="#4f81bd" stroke-width="0.8"/>
<rect x="603.4" y="289.5" width="4.0" height="4.0" fill="#fff" stroke="#4f81bd" stroke-width="0.8"/>
<rect x="608.8" y="289.5" width="4.0" height="4.0" fill="#fff" stroke="#4f81bd" stroke-width="0.8"/>
<rect x="617.3" y="289.5" width="4.0" height="4.0" fill="#fff" stroke="#4f81bd" stroke-width="0.8"/>
<rect x="623.6" y="289.9" width="4.0" height="4.0" fill="#fff" stroke="#4f81bd" stroke-width="0.8"/>
<rect x="629.9" y="292.0" width="4.0" height="4.0" fill="#fff" stroke="#4f81bd" stroke-width="0.8"/>
<rect x="638.4" y="296.2" width="4.0" height="4.0" fill="#fff" stroke="#4f81bd" stroke-width="0.8"/>
<rect x="647.6" y="302.5" width="4.0" height="4.0" fill="#fff" stroke="#4f81bd" stroke-width="0.8"/>
<rect x="656.5" y="308.5" width="4.0" height="4.0" fill="#fff" stroke="#4f81bd" stroke-width="0.8"/>
<rect x="662.8" y="313.9" width="4.0" height="4.0" fill="#fff" stroke="#4f81bd" stroke-width="0.8"/>
<rect x="677.6" y="321.5" width="4.0" height="4.0" fill="#fff" stroke="#4f81bd" stroke-width="0.8"/>
<circle cx="537.0" cy="325.6" r="2.1" fill="#fff" stroke="#c0504d" stroke-width="0.8"/>
<text x="541.5" y="327.3" font-size="4.8" fill="#3a3a3a" stroke="#3a3a3a" stroke-width="0.1" font-weight="400" text-anchor="start" textLength="14.2" lengthAdjust="spacingAndGlyphs" font-style="italic">C-PVDF</text>
<rect x="535.1" y="329.8" width="3.8" height="3.8" fill="#fff" stroke="#4f81bd" stroke-width="0.8"/>
<text x="541.5" y="333.4" font-size="4.8" fill="#3a3a3a" stroke="#3a3a3a" stroke-width="0.1" font-weight="400" text-anchor="start" textLength="17.7" lengthAdjust="spacingAndGlyphs" font-style="italic">MP-PVDF</text>
<path d="M537.0 335.9L539.4 340.1H534.6Z" fill="#fff" stroke="#9bbb59" stroke-width="0.8"/>
<text x="541.5" y="340.0" font-size="4.8" fill="#3a3a3a" stroke="#3a3a3a" stroke-width="0.1" font-weight="400" text-anchor="start" textLength="29.6" lengthAdjust="spacingAndGlyphs" font-style="italic">SiNPs-MP-PVDF</text>
</g>
<rect x="190.2" y="384.1" width="84.6" height="63.8" fill="#6a6a6a" filter="url(#m1)"/>
<rect x="274.8" y="384.1" width="169.1" height="63.8" fill="#404040" filter="url(#m2)"/>
<g filter="url(#blm)">
<g clip-path="url(#r11)" fill="#d2d2d2" opacity="1"><path d="M276.96 383.65a1.05 1.05 0 1 0 2.10 0a1.05 1.05 0 1 0 -2.10 0M284.19 383.67a1.05 1.05 0 1 0 2.10 0a1.05 1.05 0 1 0 -2.10 0M291.57 383.65a1.05 1.05 0 1 0 2.10 0a1.05 1.05 0 1 0 -2.10 0M298.33 383.59a1.05 1.05 0 1 0 2.10 0a1.05 1.05 0 1 0 -2.10 0M305.76 383.75a1.05 1.05 0 1 0 2.10 0a1.05 1.05 0 1 0 -2.10 0M312.89 383.73a1.05 1.05 0 1 0 2.10 0a1.05 1.05 0 1 0 -2.10 0M319.78 383.78a1.05 1.05 0 1 0 2.10 0a1.05 1.05 0 1 0 -2.10 0M327.22 383.64a1.05 1.05 0 1 0 2.10 0a1.05 1.05 0 1 0 -2.10 0M334.44 383.75a1.05 1.05 0 1 0 2.10 0a1.05 1.05 0 1 0 -2.10 0M341.27 383.73a1.05 1.05 0 1 0 2.10 0a1.05 1.05 0 1 0 -2.10 0M348.68 383.48a1.05 1.05 0 1 0 2.10 0a1.05 1.05 0 1 0 -2.10 0M355.82 383.63a1.05 1.05 0 1 0 2.10 0a1.05 1.05 0 1 0 -2.10 0M273.56 387.30a1.05 1.05 0 1 0 2.10 0a1.05 1.05 0 1 0 -2.10 0M280.64 387.27a1.05 1.05 0 1 0 2.10 0a1.05 1.05 0 1 0 -2.10 0M287.73 387.11a1.05 1.05 0 1 0 2.10 0a1.05 1.05 0 1 0 -2.10 0M294.95 387.01a1.05 1.05 0 1 0 2.10 0a1.05 1.05 0 1 0 -2.10 0M301.93 387.30a1.05 1.05 0 1 0 2.10 0a1.05 1.05 0 1 0 -2.10 0M309.12 387.30a1.05 1.05 0 1 0 2.10 0a1.05 1.05 0 1 0 -2.10 0M316.51 387.16a1.05 1.05 0 1 0 2.10 0a1.05 1.05 0 1 0 -2.10 0M323.62 387.31a1.05 1.05 0 1 0 2.10 0a1.05 1.05 0 1 0 -2.10 0M330.85 387.05a1.05 1.05 0 1 0 2.10 0a1.05 1.05 0 1 0 -2.10 0M337.72 387.15a1.05 1.05 0 1 0 2.10 0a1.05 1.05 0 1 0 -2.10 0M344.99 387.12a1.05 1.05 0 1 0 2.10 0a1.05 1.05 0 1 0 -2.10 0M351.95 387.22a1.05 1.05 0 1 0 2.10 0a1.05 1.05 0 1 0 -2.10 0M359.49 387.15a1.05 1.05 0 1 0 2.10 0a1.05 1.05 0 1 0 -2.10 0M277.13 390.92a1.05 1.05 0 1 0 2.10 0a1.05 1.05 0 1 0 -2.10 0M284.29 390.76a1.05 1.05 0 1 0 2.10 0a1.05 1.05 0 1 0 -2.10 0M291.51 390.64a1.05 1.05 0 1 0 2.10 0a1.05 1.05 0 1 0 -2.10 0M298.58 390.76a1.05 1.05 0 1 0 2.10 0a1.05 1.05 0 1 0 -2.10 0M305.69 390.94a1.05 1.05 0 1 0 2.10 0a1.05 1.05 0 1 0 -2.10 0M312.94 390.85a1.05 1.05 0 1 0 2.10 0a1.05 1.05 0 1 0 -2.10 0M319.90 390.69a1.05 1.05 0 1 0 2.10 0a1.05 1.05 0 1 0 -2.10 0M327.11 390.69a1.05 1.05 0 1 0 2.10 0a1.05 1.05 0 1 0 -2.10 0M334.19 390.98a1.05 1.05 0 1 0 2.10 0a1.05 1.05 0 1 0 -2.10 0M341.27 390.93a1.05 1.05 0 1 0 2.10 0a1.05 1.05 0 1 0 -2.10 0M348.53 390.75a1.05 1.05 0 1 0 2.10 0a1.05 1.05 0 1 0 -2.10 0M355.65 390.63a1.05 1.05 0 1 0 2.10 0a1.05 1.05 0 1 0 -2.10 0M273.45 394.34a1.05 1.05 0 1 0 2.10 0a1.05 1.05 0 1 0 -2.10 0M280.77 394.29a1.05 1.05 0 1 0 2.10 0a1.05 1.05 0 1 0 -2.10 0M287.92 394.45a1.05 1.05 0 1 0 2.10 0a1.05 1.05 0 1 0 -2.10 0M294.91 394.53a1.05 1.05 0 1 0 2.10 0a1.05 1.05 0 1 0 -2.10 0M302.04 394.55a1.05 1.05 0 1 0 2.10 0a1.05 1.05 0 1 0 -2.10 0M309.42 394.40a1.05 1.05 0 1 0 2.10 0a1.05 1.05 0 1 0 -2.10 0M316.48 394.58a1.05 1.05 0 1 0 2.10 0a1.05 1.05 0 1 0 -2.10 0M323.65 394.50a1.05 1.05 0 1 0 2.10 0a1.05 1.05 0 1 0 -2.10 0M330.85 394.57a1.05 1.05 0 1 0 2.10 0a1.05 1.05 0 1 0 -2.10 0M337.95 394.59a1.05 1.05 0 1 0 2.10 0a1.05 1.05 0 1 0 -2.10 0M344.92 394.45a1.05 1.05 0 1 0 2.10 0a1.05 1.05 0 1 0 -2.10 0M352.22 394.35a1.05 1.05 0 1 0 2.10 0a1.05 1.05 0 1 0 -2.10 0M359.26 394.27a1.05 1.05 0 1 0 2.10 0a1.05 1.05 0 1 0 -2.10 0M277.18 397.97a1.05 1.05 0 1 0 2.10 0a1.05 1.05 0 1 0 -2.10 0M284.24 397.89a1.05 1.05 0 1 0 2.10 0a1.05 1.05 0 1 0 -2.10 0M291.51 397.96a1.05 1.05 0 1 0 2.10 0a1.05 1.05 0 1 0 -2.10 0M298.44 398.06a1.05 1.05 0 1 0 2.10 0a1.05 1.05 0 1 0 -2.10 0M305.54 397.93a1.05 1.05 0 1 0 2.10 0a1.05 1.05 0 1 0 -2.10 0M313.00 397.84a1.05 1.05 0 1 0 2.10 0a1.05 1.05 0 1 0 -2.10 0M319.83 397.88a1.05 1.05 0 1 0 2.10 0a1.05 1.05 0 1 0 -2.10 0M327.03 397.97a1.05 1.05 0 1 0 2.10 0a1.05 1.05 0 1 0 -2.10 0M334.18 397.94a1.05 1.05 0 1 0 2.10 0a1.05 1.05 0 1 0 -2.10 0M341.32 397.90a1.05 1.05 0 1 0 2.10 0a1.05 1.05 0 1 0 -2.10 0M348.62 397.93a1.05 1.05 0 1 0 2.10 0a1.05 1.05 0 1 0 -2.10 0M355.67 398.11a1.05 1.05 0 1 0 2.10 0a1.05 1.05 0 1 0 -2.10 0M273.49 401.65a1.05 1.05 0 1 0 2.10 0a1.05 1.05 0 1 0 -2.10 0M280.58 401.74a1.05 1.05 0 1 0 2.10 0a1.05 1.05 0 1 0 -2.10 0M287.84 401.64a1.05 1.05 0 1 0 2.10 0a1.05 1.05 0 1 0 -2.10 0M294.97 401.79a1.05 1.05 0 1 0 2.10 0a1.05 1.05 0 1 0 -2.10 0M302.30 401.74a1.05 1.05 0 1 0 2.10 0a1.05 1.05 0 1 0 -2.10 0M309.23 401.56a1.05 1.05 0 1 0 2.10 0a1.05 1.05 0 1 0 -2.10 0M316.41 401.42a1.05 1.05 0 1 0 2.10 0a1.05 1.05 0 1 0 -2.10 0M323.39 401.80a1.05 1.05 0 1 0 2.10 0a1.05 1.05 0 1 0 -2.10 0M330.55 401.77a1.05 1.05 0 1 0 2.10 0a1.05 1.05 0 1 0 -2.10 0M337.92 401.77a1.05 1.05 0 1 0 2.10 0a1.05 1.05 0 1 0 -2.10 0M344.83 401.52a1.05 1.05 0 1 0 2.10 0a1.05 1.05 0 1 0 -2.10 0M352.27 401.40a1.05 1.05 0 1 0 2.10 0a1.05 1.05 0 1 0 -2.10 0M359.14 401.54a1.05 1.05 0 1 0 2.10 0a1.05 1.05 0 1 0 -2.10 0M277.08 405.02a1.05 1.05 0 1 0 2.10 0a1.05 1.05 0 1 0 -2.10 0M284.10 405.37a1.05 1.05 0 1 0 2.10 0a1.05 1.05 0 1 0 -2.10 0M291.50 405.21a1.05 1.05 0 1 0 2.10 0a1.05 1.05 0 1 0 -2.10 0M298.60 405.35a1.05 1.05 0 1 0 2.10 0a1.05 1.05 0 1 0 -2.10 0M305.53 405.20a1.05 1.05 0 1 0 2.10 0a1.05 1.05 0 1 0 -2.10 0M312.68 405.05a1.05 1.05 0 1 0 2.10 0a1.05 1.05 0 1 0 -2.10 0M319.82 405.08a1.05 1.05 0 1 0 2.10 0a1.05 1.05 0 1 0 -2.10 0M326.95 405.09a1.05 1.05 0 1 0 2.10 0a1.05 1.05 0 1 0 -2.10 0M334.23 405.25a1.05 1.05 0 1 0 2.10 0a1.05 1.05 0 1 0 -2.10 0M341.57 405.36a1.05 1.05 0 1 0 2.10 0a1.05 1.05 0 1 0 -2.10 0M348.66 405.20a1.05 1.05 0 1 0 2.10 0a1.05 1.05 0 1 0 -2.10 0M355.89 405.07a1.05 1.05 0 1 0 2.10 0a1.05 1.05 0 1 0 -2.10 0M273.61 408.99a1.05 1.05 0 1 0 2.10 0a1.05 1.05 0 1 0 -2.10 0M280.54 408.88a1.05 1.05 0 1 0 2.10 0a1.05 1.05 0 1 0 -2.10 0M287.88 408.86a1.05 1.05 0 1 0 2.10 0a1.05 1.05 0 1 0 -2.10 0M294.76 408.82a1.05 1.05 0 1 0 2.10 0a1.05 1.05 0 1 0 -2.10 0M301.98 408.68a1.05 1.05 0 1 0 2.10 0a1.05 1.05 0 1 0 -2.10 0M309.28 408.86a1.05 1.05 0 1 0 2.10 0a1.05 1.05 0 1 0 -2.10 0M316.45 408.90a1.05 1.05 0 1 0 2.10 0a1.05 1.05 0 1 0 -2.10 0M323.63 408.79a1.05 1.05 0 1 0 2.10 0a1.05 1.05 0 1 0 -2.10 0M330.52 408.91a1.05 1.05 0 1 0 2.10 0a1.05 1.05 0 1 0 -2.10 0M337.98 408.93a1.05 1.05 0 1 0 2.10 0a1.05 1.05 0 1 0 -2.10 0M345.04 408.62a1.05 1.05 0 1 0 2.10 0a1.05 1.05 0 1 0 -2.10 0M352.03 408.64a1.05 1.05 0 1 0 2.10 0a1.05 1.05 0 1 0 -2.10 0M359.35 408.82a1.05 1.05 0 1 0 2.10 0a1.05 1.05 0 1 0 -2.10 0M277.04 412.37a1.05 1.05 0 1 0 2.10 0a1.05 1.05 0 1 0 -2.10 0M284.31 412.38a1.05 1.05 0 1 0 2.10 0a1.05 1.05 0 1 0 -2.10 0M291.44 412.25a1.05 1.05 0 1 0 2.10 0a1.05 1.05 0 1 0 -2.10 0M298.61 412.31a1.05 1.05 0 1 0 2.10 0a1.05 1.05 0 1 0 -2.10 0M305.84 412.29a1.05 1.05 0 1 0 2.10 0a1.05 1.05 0 1 0 -2.10 0M312.76 412.42a1.05 1.05 0 1 0 2.10 0a1.05 1.05 0 1 0 -2.10 0M319.93 412.41a1.05 1.05 0 1 0 2.10 0a1.05 1.05 0 1 0 -2.10 0M327.29 412.28a1.05 1.05 0 1 0 2.10 0a1.05 1.05 0 1 0 -2.10 0M334.38 412.48a1.05 1.05 0 1 0 2.10 0a1.05 1.05 0 1 0 -2.10 0M341.54 412.38a1.05 1.05 0 1 0 2.10 0a1.05 1.05 0 1 0 -2.10 0M348.56 412.34a1.05 1.05 0 1 0 2.10 0a1.05 1.05 0 1 0 -2.10 0M355.71 412.30a1.05 1.05 0 1 0 2.10 0a1.05 1.05 0 1 0 -2.10 0M273.42 415.88a1.05 1.05 0 1 0 2.10 0a1.05 1.05 0 1 0 -2.10 0M280.78 415.92a1.05 1.05 0 1 0 2.10 0a1.05 1.05 0 1 0 -2.10 0M287.61 416.15a1.05 1.05 0 1 0 2.10 0a1.05 1.05 0 1 0 -2.10 0M294.83 415.93a1.05 1.05 0 1 0 2.10 0a1.05 1.05 0 1 0 -2.10 0M302.03 415.90a1.05 1.05 0 1 0 2.10 0a1.05 1.05 0 1 0 -2.10 0M309.34 415.94a1.05 1.05 0 1 0 2.10 0a1.05 1.05 0 1 0 -2.10 0M316.38 415.97a1.05 1.05 0 1 0 2.10 0a1.05 1.05 0 1 0 -2.10 0M323.68 415.81a1.05 1.05 0 1 0 2.10 0a1.05 1.05 0 1 0 -2.10 0M330.73 415.85a1.05 1.05 0 1 0 2.10 0a1.05 1.05 0 1 0 -2.10 0M337.71 416.04a1.05 1.05 0 1 0 2.10 0a1.05 1.05 0 1 0 -2.10 0M344.95 415.83a1.05 1.05 0 1 0 2.10 0a1.05 1.05 0 1 0 -2.10 0M352.19 416.17a1.05 1.05 0 1 0 2.10 0a1.05 1.05 0 1 0 -2.10 0M359.36 416.00a1.05 1.05 0 1 0 2.10 0a1.05 1.05 0 1 0 -2.10 0M276.97 419.49a1.05 1.05 0 1 0 2.10 0a1.05 1.05 0 1 0 -2.10 0M284.05 419.67a1.05 1.05 0 1 0 2.10 0a1.05 1.05 0 1 0 -2.10 0M291.23 419.65a1.05 1.05 0 1 0 2.10 0a1.05 1.05 0 1 0 -2.10 0M298.48 419.57a1.05 1.05 0 1 0 2.10 0a1.05 1.05 0 1 0 -2.10 0M305.86 419.56a1.05 1.05 0 1 0 2.10 0a1.05 1.05 0 1 0 -2.10 0M312.81 419.55a1.05 1.05 0 1 0 2.10 0a1.05 1.05 0 1 0 -2.10 0M319.86 419.49a1.05 1.05 0 1 0 2.10 0a1.05 1.05 0 1 0 -2.10 0M327.14 419.73a1.05 1.05 0 1 0 2.10 0a1.05 1.05 0 1 0 -2.10 0M334.11 419.78a1.05 1.05 0 1 0 2.10 0a1.05 1.05 0 1 0 -2.10 0M341.49 419.42a1.05 1.05 0 1 0 2.10 0a1.05 1.05 0 1 0 -2.10 0M348.66 419.56a1.05 1.05 0 1 0 2.10 0a1.05 1.05 0 1 0 -2.10 0M355.73 419.44a1.05 1.05 0 1 0 2.10 0a1.05 1.05 0 1 0 -2.10 0M273.56 423.38a1.05 1.05 0 1 0 2.10 0a1.05 1.05 0 1 0 -2.10 0M280.49 423.22a1.05 1.05 0 1 0 2.10 0a1.05 1.05 0 1 0 -2.10 0M287.63 423.27a1.05 1.05 0 1 0 2.10 0a1.05 1.05 0 1 0 -2.10 0M294.92 423.06a1.05 1.05 0 1 0 2.10 0a1.05 1.05 0 1 0 -2.10 0M302.02 423.26a1.05 1.05 0 1 0 2.10 0a1.05 1.05 0 1 0 -2.10 0M309.24 423.38a1.05 1.05 0 1 0 2.10 0a1.05 1.05 0 1 0 -2.10 0M316.34 423.14a1.05 1.05 0 1 0 2.10 0a1.05 1.05 0 1 0 -2.10 0M323.72 423.24a1.05 1.05 0 1 0 2.10 0a1.05 1.05 0 1 0 -2.10 0M330.54 423.31a1.05 1.05 0 1 0 2.10 0a1.05 1.05 0 1 0 -2.10 0M337.80 423.38a1.05 1.05 0 1 0 2.10 0a1.05 1.05 0 1 0 -2.10 0M345.05 423.32a1.05 1.05 0 1 0 2.10 0a1.05 1.05 0 1 0 -2.10 0M352.31 423.20a1.05 1.05 0 1 0 2.10 0a1.05 1.05 0 1 0 -2.10 0M359.49 423.01a1.05 1.05 0 1 0 2.10 0a1.05 1.05 0 1 0 -2.10 0M277.19 426.67a1.05 1.05 0 1 0 2.10 0a1.05 1.05 0 1 0 -2.10 0M284.04 426.84a1.05 1.05 0 1 0 2.10 0a1.05 1.05 0 1 0 -2.10 0M291.56 426.93a1.05 1.05 0 1 0 2.10 0a1.05 1.05 0 1 0 -2.10 0M298.59 426.72a1.05 1.05 0 1 0 2.10 0a1.05 1.05 0 1 0 -2.10 0M305.84 426.62a1.05 1.05 0 1 0 2.10 0a1.05 1.05 0 1 0 -2.10 0M312.72 426.92a1.05 1.05 0 1 0 2.10 0a1.05 1.05 0 1 0 -2.10 0M320.13 426.76a1.05 1.05 0 1 0 2.10 0a1.05 1.05 0 1 0 -2.10 0M327.29 426.64a1.05 1.05 0 1 0 2.10 0a1.05 1.05 0 1 0 -2.10 0M334.31 426.63a1.05 1.05 0 1 0 2.10 0a1.05 1.05 0 1 0 -2.10 0M341.32 426.68a1.05 1.05 0 1 0 2.10 0a1.05 1.05 0 1 0 -2.10 0M348.38 426.76a1.05 1.05 0 1 0 2.10 0a1.05 1.05 0 1 0 -2.10 0M355.73 426.71a1.05 1.05 0 1 0 2.10 0a1.05 1.05 0 1 0 -2.10 0M273.47 430.58a1.05 1.05 0 1 0 2.10 0a1.05 1.05 0 1 0 -2.10 0M280.77 430.46a1.05 1.05 0 1 0 2.10 0a1.05 1.05 0 1 0 -2.10 0M287.66 430.44a1.05 1.05 0 1 0 2.10 0a1.05 1.05 0 1 0 -2.10 0M294.80 430.34a1.05 1.05 0 1 0 2.10 0a1.05 1.05 0 1 0 -2.10 0M301.91 430.48a1.05 1.05 0 1 0 2.10 0a1.05 1.05 0 1 0 -2.10 0M309.44 430.46a1.05 1.05 0 1 0 2.10 0a1.05 1.05 0 1 0 -2.10 0M316.43 430.30a1.05 1.05 0 1 0 2.10 0a1.05 1.05 0 1 0 -2.10 0M323.53 430.39a1.05 1.05 0 1 0 2.10 0a1.05 1.05 0 1 0 -2.10 0M330.67 430.31a1.05 1.05 0 1 0 2.10 0a1.05 1.05 0 1 0 -2.10 0M337.74 430.50a1.05 1.05 0 1 0 2.10 0a1.05 1.05 0 1 0 -2.10 0M345.18 430.53a1.05 1.05 0 1 0 2.10 0a1.05 1.05 0 1 0 -2.10 0M352.20 430.21a1.05 1.05 0 1 0 2.10 0a1.05 1.05 0 1 0 -2.10 0M359.22 430.54a1.05 1.05 0 1 0 2.10 0a1.05 1.05 0 1 0 -2.10 0M277.06 434.18a1.05 1.05 0 1 0 2.10 0a1.05 1.05 0 1 0 -2.10 0M284.33 433.97a1.05 1.05 0 1 0 2.10 0a1.05 1.05 0 1 0 -2.10 0M291.38 434.16a1.05 1.05 0 1 0 2.10 0a1.05 1.05 0 1 0 -2.10 0M298.62 434.06a1.05 1.05 0 1 0 2.10 0a1.05 1.05 0 1 0 -2.10 0M305.86 433.85a1.05 1.05 0 1 0 2.10 0a1.05 1.05 0 1 0 -2.10 0M312.86 434.05a1.05 1.05 0 1 0 2.10 0a1.05 1.05 0 1 0 -2.10 0M319.96 434.19a1.05 1.05 0 1 0 2.10 0a1.05 1.05 0 1 0 -2.10 0M327.31 433.96a1.05 1.05 0 1 0 2.10 0a1.05 1.05 0 1 0 -2.10 0M334.32 434.11a1.05 1.05 0 1 0 2.10 0a1.05 1.05 0 1 0 -2.10 0M341.50 433.95a1.05 1.05 0 1 0 2.10 0a1.05 1.05 0 1 0 -2.10 0M348.69 433.94a1.05 1.05 0 1 0 2.10 0a1.05 1.05 0 1 0 -2.10 0M355.58 434.07a1.05 1.05 0 1 0 2.10 0a1.05 1.05 0 1 0 -2.10 0M273.46 437.42a1.05 1.05 0 1 0 2.10 0a1.05 1.05 0 1 0 -2.10 0M280.63 437.45a1.05 1.05 0 1 0 2.10 0a1.05 1.05 0 1 0 -2.10 0M287.98 437.54a1.05 1.05 0 1 0 2.10 0a1.05 1.05 0 1 0 -2.10 0M294.99 437.69a1.05 1.05 0 1 0 2.10 0a1.05 1.05 0 1 0 -2.10 0M301.97 437.73a1.05 1.05 0 1 0 2.10 0a1.05 1.05 0 1 0 -2.10 0M309.18 437.43a1.05 1.05 0 1 0 2.10 0a1.05 1.05 0 1 0 -2.10 0M316.44 437.56a1.05 1.05 0 1 0 2.10 0a1.05 1.05 0 1 0 -2.10 0M323.72 437.58a1.05 1.05 0 1 0 2.10 0a1.05 1.05 0 1 0 -2.10 0M330.54 437.41a1.05 1.05 0 1 0 2.10 0a1.05 1.05 0 1 0 -2.10 0M337.66 437.60a1.05 1.05 0 1 0 2.10 0a1.05 1.05 0 1 0 -2.10 0M345.09 437.42a1.05 1.05 0 1 0 2.10 0a1.05 1.05 0 1 0 -2.10 0M352.08 437.59a1.05 1.05 0 1 0 2.10 0a1.05 1.05 0 1 0 -2.10 0M359.46 437.79a1.05 1.05 0 1 0 2.10 0a1.05 1.05 0 1 0 -2.10 0M277.08 441.23a1.05 1.05 0 1 0 2.10 0a1.05 1.05 0 1 0 -2.10 0M284.12 441.34a1.05 1.05 0 1 0 2.10 0a1.05 1.05 0 1 0 -2.10 0M291.57 441.07a1.05 1.05 0 1 0 2.10 0a1.05 1.05 0 1 0 -2.10 0M298.42 441.32a1.05 1.05 0 1 0 2.10 0a1.05 1.05 0 1 0 -2.10 0M305.76 441.09a1.05 1.05 0 1 0 2.10 0a1.05 1.05 0 1 0 -2.10 0M312.86 441.10a1.05 1.05 0 1 0 2.10 0a1.05 1.05 0 1 0 -2.10 0M320.12 441.23a1.05 1.05 0 1 0 2.10 0a1.05 1.05 0 1 0 -2.10 0M327.13 441.06a1.05 1.05 0 1 0 2.10 0a1.05 1.05 0 1 0 -2.10 0M334.24 441.19a1.05 1.05 0 1 0 2.10 0a1.05 1.05 0 1 0 -2.10 0M341.37 441.07a1.05 1.05 0 1 0 2.10 0a1.05 1.05 0 1 0 -2.10 0M348.45 441.28a1.05 1.05 0 1 0 2.10 0a1.05 1.05 0 1 0 -2.10 0M355.89 441.34a1.05 1.05 0 1 0 2.10 0a1.05 1.05 0 1 0 -2.10 0M273.42 444.83a1.05 1.05 0 1 0 2.10 0a1.05 1.05 0 1 0 -2.10 0M280.64 444.65a1.05 1.05 0 1 0 2.10 0a1.05 1.05 0 1 0 -2.10 0M287.98 444.67a1.05 1.05 0 1 0 2.10 0a1.05 1.05 0 1 0 -2.10 0M295.07 444.95a1.05 1.05 0 1 0 2.10 0a1.05 1.05 0 1 0 -2.10 0M302.08 444.98a1.05 1.05 0 1 0 2.10 0a1.05 1.05 0 1 0 -2.10 0M309.08 444.66a1.05 1.05 0 1 0 2.10 0a1.05 1.05 0 1 0 -2.10 0M316.39 444.63a1.05 1.05 0 1 0 2.10 0a1.05 1.05 0 1 0 -2.10 0M323.67 444.81a1.05 1.05 0 1 0 2.10 0a1.05 1.05 0 1 0 -2.10 0M330.82 444.71a1.05 1.05 0 1 0 2.10 0a1.05 1.05 0 1 0 -2.10 0M337.66 444.96a1.05 1.05 0 1 0 2.10 0a1.05 1.05 0 1 0 -2.10 0M344.88 444.77a1.05 1.05 0 1 0 2.10 0a1.05 1.05 0 1 0 -2.10 0M352.00 444.83a1.05 1.05 0 1 0 2.10 0a1.05 1.05 0 1 0 -2.10 0M359.29 444.68a1.05 1.05 0 1 0 2.10 0a1.05 1.05 0 1 0 -2.10 0M276.89 448.25a1.05 1.05 0 1 0 2.10 0a1.05 1.05 0 1 0 -2.10 0M284.07 448.51a1.05 1.05 0 1 0 2.10 0a1.05 1.05 0 1 0 -2.10 0M291.38 448.57a1.05 1.05 0 1 0 2.10 0a1.05 1.05 0 1 0 -2.10 0M298.71 448.58a1.05 1.05 0 1 0 2.10 0a1.05 1.05 0 1 0 -2.10 0M305.72 448.34a1.05 1.05 0 1 0 2.10 0a1.05 1.05 0 1 0 -2.10 0M313.01 448.49a1.05 1.05 0 1 0 2.10 0a1.05 1.05 0 1 0 -2.10 0M319.85 448.42a1.05 1.05 0 1 0 2.10 0a1.05 1.05 0 1 0 -2.10 0M326.93 448.21a1.05 1.05 0 1 0 2.10 0a1.05 1.05 0 1 0 -2.10 0M334.33 448.49a1.05 1.05 0 1 0 2.10 0a1.05 1.05 0 1 0 -2.10 0M341.57 448.50a1.05 1.05 0 1 0 2.10 0a1.05 1.05 0 1 0 -2.10 0M348.43 448.50a1.05 1.05 0 1 0 2.10 0a1.05 1.05 0 1 0 -2.10 0M355.92 448.47a1.05 1.05 0 1 0 2.10 0a1.05 1.05 0 1 0 -2.10 0"/></g>
<g clip-path="url(#r12)" fill="#d2d2d2" opacity="1"><path d="M362.74 384.22a1.05 1.05 0 1 0 2.10 0a1.05 1.05 0 1 0 -2.10 0M361.56 389.27a1.05 1.05 0 1 0 2.10 0a1.05 1.05 0 1 0 -2.10 0M366.39 387.86a1.05 1.05 0 1 0 2.10 0a1.05 1.05 0 1 0 -2.10 0M371.50 386.64a1.05 1.05 0 1 0 2.10 0a1.05 1.05 0 1 0 -2.10 0M376.65 385.23a1.05 1.05 0 1 0 2.10 0a1.05 1.05 0 1 0 -2.10 0M381.68 383.96a1.05 1.05 0 1 0 2.10 0a1.05 1.05 0 1 0 -2.10 0M360.01 394.42a1.05 1.05 0 1 0 2.10 0a1.05 1.05 0 1 0 -2.10 0M365.06 393.08a1.05 1.05 0 1 0 2.10 0a1.05 1.05 0 1 0 -2.10 0M370.25 391.73a1.05 1.05 0 1 0 2.10 0a1.05 1.05 0 1 0 -2.10 0M375.35 390.31a1.05 1.05 0 1 0 2.10 0a1.05 1.05 0 1 0 -2.10 0M380.33 388.80a1.05 1.05 0 1 0 2.10 0a1.05 1.05 0 1 0 -2.10 0M385.34 387.60a1.05 1.05 0 1 0 2.10 0a1.05 1.05 0 1 0 -2.10 0M390.35 386.13a1.05 1.05 0 1 0 2.10 0a1.05 1.05 0 1 0 -2.10 0M395.38 385.03a1.05 1.05 0 1 0 2.10 0a1.05 1.05 0 1 0 -2.10 0M400.20 383.50a1.05 1.05 0 1 0 2.10 0a1.05 1.05 0 1 0 -2.10 0M358.71 399.27a1.05 1.05 0 1 0 2.10 0a1.05 1.05 0 1 0 -2.10 0M363.73 398.02a1.05 1.05 0 1 0 2.10 0a1.05 1.05 0 1 0 -2.10 0M368.79 396.57a1.05 1.05 0 1 0 2.10 0a1.05 1.05 0 1 0 -2.10 0M373.93 395.44a1.05 1.05 0 1 0 2.10 0a1.05 1.05 0 1 0 -2.10 0M378.83 394.02a1.05 1.05 0 1 0 2.10 0a1.05 1.05 0 1 0 -2.10 0M383.89 392.72a1.05 1.05 0 1 0 2.10 0a1.05 1.05 0 1 0 -2.10 0M388.96 391.20a1.05 1.05 0 1 0 2.10 0a1.05 1.05 0 1 0 -2.10 0M393.88 389.78a1.05 1.05 0 1 0 2.10 0a1.05 1.05 0 1 0 -2.10 0M398.98 388.54a1.05 1.05 0 1 0 2.10 0a1.05 1.05 0 1 0 -2.10 0M403.91 387.19a1.05 1.05 0 1 0 2.10 0a1.05 1.05 0 1 0 -2.10 0M408.98 385.96a1.05 1.05 0 1 0 2.10 0a1.05 1.05 0 1 0 -2.10 0M413.95 384.68a1.05 1.05 0 1 0 2.10 0a1.05 1.05 0 1 0 -2.10 0M419.07 383.22a1.05 1.05 0 1 0 2.10 0a1.05 1.05 0 1 0 -2.10 0M362.40 403.12a1.05 1.05 0 1 0 2.10 0a1.05 1.05 0 1 0 -2.10 0M367.45 401.65a1.05 1.05 0 1 0 2.10 0a1.05 1.05 0 1 0 -2.10 0M372.59 400.20a1.05 1.05 0 1 0 2.10 0a1.05 1.05 0 1 0 -2.10 0M377.42 399.08a1.05 1.05 0 1 0 2.10 0a1.05 1.05 0 1 0 -2.10 0M382.51 397.59a1.05 1.05 0 1 0 2.10 0a1.05 1.05 0 1 0 -2.10 0M387.62 396.34a1.05 1.05 0 1 0 2.10 0a1.05 1.05 0 1 0 -2.10 0M392.47 394.89a1.05 1.05 0 1 0 2.10 0a1.05 1.05 0 1 0 -2.10 0M397.62 393.59a1.05 1.05 0 1 0 2.10 0a1.05 1.05 0 1 0 -2.10 0M402.57 392.27a1.05 1.05 0 1 0 2.10 0a1.05 1.05 0 1 0 -2.10 0M407.82 390.87a1.05 1.05 0 1 0 2.10 0a1.05 1.05 0 1 0 -2.10 0M412.72 389.44a1.05 1.05 0 1 0 2.10 0a1.05 1.05 0 1 0 -2.10 0M417.66 388.26a1.05 1.05 0 1 0 2.10 0a1.05 1.05 0 1 0 -2.10 0M422.64 386.98a1.05 1.05 0 1 0 2.10 0a1.05 1.05 0 1 0 -2.10 0M427.90 385.40a1.05 1.05 0 1 0 2.10 0a1.05 1.05 0 1 0 -2.10 0M432.93 384.13a1.05 1.05 0 1 0 2.10 0a1.05 1.05 0 1 0 -2.10 0M361.04 408.15a1.05 1.05 0 1 0 2.10 0a1.05 1.05 0 1 0 -2.10 0M366.20 406.58a1.05 1.05 0 1 0 2.10 0a1.05 1.05 0 1 0 -2.10 0M371.31 405.24a1.05 1.05 0 1 0 2.10 0a1.05 1.05 0 1 0 -2.10 0M376.15 404.06a1.05 1.05 0 1 0 2.10 0a1.05 1.05 0 1 0 -2.10 0M381.25 402.67a1.05 1.05 0 1 0 2.10 0a1.05 1.05 0 1 0 -2.10 0M386.29 401.29a1.05 1.05 0 1 0 2.10 0a1.05 1.05 0 1 0 -2.10 0M391.21 399.86a1.05 1.05 0 1 0 2.10 0a1.05 1.05 0 1 0 -2.10 0M396.16 398.68a1.05 1.05 0 1 0 2.10 0a1.05 1.05 0 1 0 -2.10 0M401.39 397.28a1.05 1.05 0 1 0 2.10 0a1.05 1.05 0 1 0 -2.10 0M406.41 395.88a1.05 1.05 0 1 0 2.10 0a1.05 1.05 0 1 0 -2.10 0M411.29 394.54a1.05 1.05 0 1 0 2.10 0a1.05 1.05 0 1 0 -2.10 0M416.49 393.09a1.05 1.05 0 1 0 2.10 0a1.05 1.05 0 1 0 -2.10 0M421.41 391.81a1.05 1.05 0 1 0 2.10 0a1.05 1.05 0 1 0 -2.10 0M426.51 390.49a1.05 1.05 0 1 0 2.10 0a1.05 1.05 0 1 0 -2.10 0M431.40 389.16a1.05 1.05 0 1 0 2.10 0a1.05 1.05 0 1 0 -2.10 0M436.49 387.93a1.05 1.05 0 1 0 2.10 0a1.05 1.05 0 1 0 -2.10 0M441.45 386.60a1.05 1.05 0 1 0 2.10 0a1.05 1.05 0 1 0 -2.10 0M359.75 412.96a1.05 1.05 0 1 0 2.10 0a1.05 1.05 0 1 0 -2.10 0M364.82 411.73a1.05 1.05 0 1 0 2.10 0a1.05 1.05 0 1 0 -2.10 0M369.74 410.29a1.05 1.05 0 1 0 2.10 0a1.05 1.05 0 1 0 -2.10 0M374.94 408.88a1.05 1.05 0 1 0 2.10 0a1.05 1.05 0 1 0 -2.10 0M379.97 407.79a1.05 1.05 0 1 0 2.10 0a1.05 1.05 0 1 0 -2.10 0M385.03 406.29a1.05 1.05 0 1 0 2.10 0a1.05 1.05 0 1 0 -2.10 0M389.94 405.00a1.05 1.05 0 1 0 2.10 0a1.05 1.05 0 1 0 -2.10 0M394.98 403.78a1.05 1.05 0 1 0 2.10 0a1.05 1.05 0 1 0 -2.10 0M400.02 402.23a1.05 1.05 0 1 0 2.10 0a1.05 1.05 0 1 0 -2.10 0M405.10 400.94a1.05 1.05 0 1 0 2.10 0a1.05 1.05 0 1 0 -2.10 0M410.04 399.66a1.05 1.05 0 1 0 2.10 0a1.05 1.05 0 1 0 -2.10 0M414.89 398.33a1.05 1.05 0 1 0 2.10 0a1.05 1.05 0 1 0 -2.10 0M420.11 396.90a1.05 1.05 0 1 0 2.10 0a1.05 1.05 0 1 0 -2.10 0M425.09 395.55a1.05 1.05 0 1 0 2.10 0a1.05 1.05 0 1 0 -2.10 0M430.01 394.22a1.05 1.05 0 1 0 2.10 0a1.05 1.05 0 1 0 -2.10 0M434.99 392.87a1.05 1.05 0 1 0 2.10 0a1.05 1.05 0 1 0 -2.10 0M440.19 391.50a1.05 1.05 0 1 0 2.10 0a1.05 1.05 0 1 0 -2.10 0M358.55 418.10a1.05 1.05 0 1 0 2.10 0a1.05 1.05 0 1 0 -2.10 0M363.59 416.79a1.05 1.05 0 1 0 2.10 0a1.05 1.05 0 1 0 -2.10 0M368.56 415.33a1.05 1.05 0 1 0 2.10 0a1.05 1.05 0 1 0 -2.10 0M373.60 414.17a1.05 1.05 0 1 0 2.10 0a1.05 1.05 0 1 0 -2.10 0M378.64 412.67a1.05 1.05 0 1 0 2.10 0a1.05 1.05 0 1 0 -2.10 0M383.63 411.34a1.05 1.05 0 1 0 2.10 0a1.05 1.05 0 1 0 -2.10 0M388.46 409.86a1.05 1.05 0 1 0 2.10 0a1.05 1.05 0 1 0 -2.10 0M393.47 408.56a1.05 1.05 0 1 0 2.10 0a1.05 1.05 0 1 0 -2.10 0M398.52 407.31a1.05 1.05 0 1 0 2.10 0a1.05 1.05 0 1 0 -2.10 0M403.70 405.97a1.05 1.05 0 1 0 2.10 0a1.05 1.05 0 1 0 -2.10 0M408.64 404.66a1.05 1.05 0 1 0 2.10 0a1.05 1.05 0 1 0 -2.10 0M413.63 403.26a1.05 1.05 0 1 0 2.10 0a1.05 1.05 0 1 0 -2.10 0M418.79 401.89a1.05 1.05 0 1 0 2.10 0a1.05 1.05 0 1 0 -2.10 0M423.64 400.70a1.05 1.05 0 1 0 2.10 0a1.05 1.05 0 1 0 -2.10 0M428.82 399.19a1.05 1.05 0 1 0 2.10 0a1.05 1.05 0 1 0 -2.10 0M433.74 397.89a1.05 1.05 0 1 0 2.10 0a1.05 1.05 0 1 0 -2.10 0M438.83 396.46a1.05 1.05 0 1 0 2.10 0a1.05 1.05 0 1 0 -2.10 0M443.68 395.11a1.05 1.05 0 1 0 2.10 0a1.05 1.05 0 1 0 -2.10 0M362.10 421.72a1.05 1.05 0 1 0 2.10 0a1.05 1.05 0 1 0 -2.10 0M367.20 420.27a1.05 1.05 0 1 0 2.10 0a1.05 1.05 0 1 0 -2.10 0M372.13 419.02a1.05 1.05 0 1 0 2.10 0a1.05 1.05 0 1 0 -2.10 0M377.04 417.85a1.05 1.05 0 1 0 2.10 0a1.05 1.05 0 1 0 -2.10 0M382.12 416.24a1.05 1.05 0 1 0 2.10 0a1.05 1.05 0 1 0 -2.10 0M387.22 414.92a1.05 1.05 0 1 0 2.10 0a1.05 1.05 0 1 0 -2.10 0M392.29 413.63a1.05 1.05 0 1 0 2.10 0a1.05 1.05 0 1 0 -2.10 0M397.16 412.19a1.05 1.05 0 1 0 2.10 0a1.05 1.05 0 1 0 -2.10 0M402.37 410.91a1.05 1.05 0 1 0 2.10 0a1.05 1.05 0 1 0 -2.10 0M407.41 409.62a1.05 1.05 0 1 0 2.10 0a1.05 1.05 0 1 0 -2.10 0M412.47 408.23a1.05 1.05 0 1 0 2.10 0a1.05 1.05 0 1 0 -2.10 0M417.29 406.87a1.05 1.05 0 1 0 2.10 0a1.05 1.05 0 1 0 -2.10 0M422.48 405.64a1.05 1.05 0 1 0 2.10 0a1.05 1.05 0 1 0 -2.10 0M427.36 404.13a1.05 1.05 0 1 0 2.10 0a1.05 1.05 0 1 0 -2.10 0M432.49 403.05a1.05 1.05 0 1 0 2.10 0a1.05 1.05 0 1 0 -2.10 0M437.48 401.41a1.05 1.05 0 1 0 2.10 0a1.05 1.05 0 1 0 -2.10 0M442.34 400.09a1.05 1.05 0 1 0 2.10 0a1.05 1.05 0 1 0 -2.10 0M360.71 426.87a1.05 1.05 0 1 0 2.10 0a1.05 1.05 0 1 0 -2.10 0M365.67 425.39a1.05 1.05 0 1 0 2.10 0a1.05 1.05 0 1 0 -2.10 0M370.76 424.13a1.05 1.05 0 1 0 2.10 0a1.05 1.05 0 1 0 -2.10 0M375.96 422.63a1.05 1.05 0 1 0 2.10 0a1.05 1.05 0 1 0 -2.10 0M380.93 421.45a1.05 1.05 0 1 0 2.10 0a1.05 1.05 0 1 0 -2.10 0M385.98 420.05a1.05 1.05 0 1 0 2.10 0a1.05 1.05 0 1 0 -2.10 0M391.03 418.65a1.05 1.05 0 1 0 2.10 0a1.05 1.05 0 1 0 -2.10 0M395.90 417.26a1.05 1.05 0 1 0 2.10 0a1.05 1.05 0 1 0 -2.10 0M401.03 415.99a1.05 1.05 0 1 0 2.10 0a1.05 1.05 0 1 0 -2.10 0M405.90 414.56a1.05 1.05 0 1 0 2.10 0a1.05 1.05 0 1 0 -2.10 0M411.06 413.34a1.05 1.05 0 1 0 2.10 0a1.05 1.05 0 1 0 -2.10 0M416.08 411.93a1.05 1.05 0 1 0 2.10 0a1.05 1.05 0 1 0 -2.10 0M421.04 410.51a1.05 1.05 0 1 0 2.10 0a1.05 1.05 0 1 0 -2.10 0M426.13 409.13a1.05 1.05 0 1 0 2.10 0a1.05 1.05 0 1 0 -2.10 0M431.08 408.00a1.05 1.05 0 1 0 2.10 0a1.05 1.05 0 1 0 -2.10 0M436.16 406.46a1.05 1.05 0 1 0 2.10 0a1.05 1.05 0 1 0 -2.10 0M441.05 405.34a1.05 1.05 0 1 0 2.10 0a1.05 1.05 0 1 0 -2.10 0M359.30 431.83a1.05 1.05 0 1 0 2.10 0a1.05 1.05 0 1 0 -2.10 0M364.37 430.31a1.05 1.05 0 1 0 2.10 0a1.05 1.05 0 1 0 -2.10 0M369.36 429.14a1.05 1.05 0 1 0 2.10 0a1.05 1.05 0 1 0 -2.10 0M374.51 427.60a1.05 1.05 0 1 0 2.10 0a1.05 1.05 0 1 0 -2.10 0M379.43 426.54a1.05 1.05 0 1 0 2.10 0a1.05 1.05 0 1 0 -2.10 0M384.45 425.08a1.05 1.05 0 1 0 2.10 0a1.05 1.05 0 1 0 -2.10 0M389.53 423.80a1.05 1.05 0 1 0 2.10 0a1.05 1.05 0 1 0 -2.10 0M394.61 422.45a1.05 1.05 0 1 0 2.10 0a1.05 1.05 0 1 0 -2.10 0M399.61 420.93a1.05 1.05 0 1 0 2.10 0a1.05 1.05 0 1 0 -2.10 0M404.53 419.55a1.05 1.05 0 1 0 2.10 0a1.05 1.05 0 1 0 -2.10 0M409.75 418.21a1.05 1.05 0 1 0 2.10 0a1.05 1.05 0 1 0 -2.10 0M414.53 417.12a1.05 1.05 0 1 0 2.10 0a1.05 1.05 0 1 0 -2.10 0M419.60 415.75a1.05 1.05 0 1 0 2.10 0a1.05 1.05 0 1 0 -2.10 0M424.59 414.28a1.05 1.05 0 1 0 2.10 0a1.05 1.05 0 1 0 -2.10 0M429.66 413.04a1.05 1.05 0 1 0 2.10 0a1.05 1.05 0 1 0 -2.10 0M434.80 411.64a1.05 1.05 0 1 0 2.10 0a1.05 1.05 0 1 0 -2.10 0M439.86 410.36a1.05 1.05 0 1 0 2.10 0a1.05 1.05 0 1 0 -2.10 0M358.14 436.78a1.05 1.05 0 1 0 2.10 0a1.05 1.05 0 1 0 -2.10 0M363.14 435.49a1.05 1.05 0 1 0 2.10 0a1.05 1.05 0 1 0 -2.10 0M368.03 434.07a1.05 1.05 0 1 0 2.10 0a1.05 1.05 0 1 0 -2.10 0M373.29 432.72a1.05 1.05 0 1 0 2.10 0a1.05 1.05 0 1 0 -2.10 0M378.14 431.30a1.05 1.05 0 1 0 2.10 0a1.05 1.05 0 1 0 -2.10 0M383.10 429.98a1.05 1.05 0 1 0 2.10 0a1.05 1.05 0 1 0 -2.10 0M388.34 428.80a1.05 1.05 0 1 0 2.10 0a1.05 1.05 0 1 0 -2.10 0M393.35 427.53a1.05 1.05 0 1 0 2.10 0a1.05 1.05 0 1 0 -2.10 0M398.29 426.17a1.05 1.05 0 1 0 2.10 0a1.05 1.05 0 1 0 -2.10 0M403.29 424.67a1.05 1.05 0 1 0 2.10 0a1.05 1.05 0 1 0 -2.10 0M408.44 423.47a1.05 1.05 0 1 0 2.10 0a1.05 1.05 0 1 0 -2.10 0M413.46 422.00a1.05 1.05 0 1 0 2.10 0a1.05 1.05 0 1 0 -2.10 0M418.43 420.63a1.05 1.05 0 1 0 2.10 0a1.05 1.05 0 1 0 -2.10 0M423.52 419.44a1.05 1.05 0 1 0 2.10 0a1.05 1.05 0 1 0 -2.10 0M428.33 418.09a1.05 1.05 0 1 0 2.10 0a1.05 1.05 0 1 0 -2.10 0M433.32 416.50a1.05 1.05 0 1 0 2.10 0a1.05 1.05 0 1 0 -2.10 0M438.51 415.21a1.05 1.05 0 1 0 2.10 0a1.05 1.05 0 1 0 -2.10 0M443.47 413.97a1.05 1.05 0 1 0 2.10 0a1.05 1.05 0 1 0 -2.10 0M361.81 440.62a1.05 1.05 0 1 0 2.10 0a1.05 1.05 0 1 0 -2.10 0M366.92 439.25a1.05 1.05 0 1 0 2.10 0a1.05 1.05 0 1 0 -2.10 0M371.76 437.69a1.05 1.05 0 1 0 2.10 0a1.05 1.05 0 1 0 -2.10 0M376.76 436.43a1.05 1.05 0 1 0 2.10 0a1.05 1.05 0 1 0 -2.10 0M381.85 435.11a1.05 1.05 0 1 0 2.10 0a1.05 1.05 0 1 0 -2.10 0M386.82 433.86a1.05 1.05 0 1 0 2.10 0a1.05 1.05 0 1 0 -2.10 0M391.82 432.39a1.05 1.05 0 1 0 2.10 0a1.05 1.05 0 1 0 -2.10 0M397.03 431.15a1.05 1.05 0 1 0 2.10 0a1.05 1.05 0 1 0 -2.10 0M401.87 429.64a1.05 1.05 0 1 0 2.10 0a1.05 1.05 0 1 0 -2.10 0M407.05 428.22a1.05 1.05 0 1 0 2.10 0a1.05 1.05 0 1 0 -2.10 0M411.87 427.03a1.05 1.05 0 1 0 2.10 0a1.05 1.05 0 1 0 -2.10 0M417.01 425.58a1.05 1.05 0 1 0 2.10 0a1.05 1.05 0 1 0 -2.10 0M421.89 424.24a1.05 1.05 0 1 0 2.10 0a1.05 1.05 0 1 0 -2.10 0M427.13 422.97a1.05 1.05 0 1 0 2.10 0a1.05 1.05 0 1 0 -2.10 0M432.21 421.72a1.05 1.05 0 1 0 2.10 0a1.05 1.05 0 1 0 -2.10 0M437.24 420.15a1.05 1.05 0 1 0 2.10 0a1.05 1.05 0 1 0 -2.10 0M442.02 418.80a1.05 1.05 0 1 0 2.10 0a1.05 1.05 0 1 0 -2.10 0M360.33 445.39a1.05 1.05 0 1 0 2.10 0a1.05 1.05 0 1 0 -2.10 0M365.50 444.24a1.05 1.05 0 1 0 2.10 0a1.05 1.05 0 1 0 -2.10 0M370.45 442.91a1.05 1.05 0 1 0 2.10 0a1.05 1.05 0 1 0 -2.10 0M375.49 441.40a1.05 1.05 0 1 0 2.10 0a1.05 1.05 0 1 0 -2.10 0M380.40 439.97a1.05 1.05 0 1 0 2.10 0a1.05 1.05 0 1 0 -2.10 0M385.56 438.89a1.05 1.05 0 1 0 2.10 0a1.05 1.05 0 1 0 -2.10 0M390.66 437.41a1.05 1.05 0 1 0 2.10 0a1.05 1.05 0 1 0 -2.10 0M395.61 436.21a1.05 1.05 0 1 0 2.10 0a1.05 1.05 0 1 0 -2.10 0M400.68 434.76a1.05 1.05 0 1 0 2.10 0a1.05 1.05 0 1 0 -2.10 0M405.58 433.39a1.05 1.05 0 1 0 2.10 0a1.05 1.05 0 1 0 -2.10 0M410.53 431.95a1.05 1.05 0 1 0 2.10 0a1.05 1.05 0 1 0 -2.10 0M415.71 430.84a1.05 1.05 0 1 0 2.10 0a1.05 1.05 0 1 0 -2.10 0M420.69 429.32a1.05 1.05 0 1 0 2.10 0a1.05 1.05 0 1 0 -2.10 0M425.66 427.99a1.05 1.05 0 1 0 2.10 0a1.05 1.05 0 1 0 -2.10 0M430.81 426.64a1.05 1.05 0 1 0 2.10 0a1.05 1.05 0 1 0 -2.10 0M435.88 425.21a1.05 1.05 0 1 0 2.10 0a1.05 1.05 0 1 0 -2.10 0M440.71 423.97a1.05 1.05 0 1 0 2.10 0a1.05 1.05 0 1 0 -2.10 0M369.15 447.74a1.05 1.05 0 1 0 2.10 0a1.05 1.05 0 1 0 -2.10 0M374.25 446.39a1.05 1.05 0 1 0 2.10 0a1.05 1.05 0 1 0 -2.10 0M379.11 445.23a1.05 1.05 0 1 0 2.10 0a1.05 1.05 0 1 0 -2.10 0M384.12 443.72a1.05 1.05 0 1 0 2.10 0a1.05 1.05 0 1 0 -2.10 0M389.33 442.58a1.05 1.05 0 1 0 2.10 0a1.05 1.05 0 1 0 -2.10 0M394.16 441.07a1.05 1.05 0 1 0 2.10 0a1.05 1.05 0 1 0 -2.10 0M399.17 439.64a1.05 1.05 0 1 0 2.10 0a1.05 1.05 0 1 0 -2.10 0M404.19 438.55a1.05 1.05 0 1 0 2.10 0a1.05 1.05 0 1 0 -2.10 0M409.16 436.98a1.05 1.05 0 1 0 2.10 0a1.05 1.05 0 1 0 -2.10 0M414.22 435.59a1.05 1.05 0 1 0 2.10 0a1.05 1.05 0 1 0 -2.10 0M419.34 434.44a1.05 1.05 0 1 0 2.10 0a1.05 1.05 0 1 0 -2.10 0M424.45 433.06a1.05 1.05 0 1 0 2.10 0a1.05 1.05 0 1 0 -2.10 0M429.47 431.53a1.05 1.05 0 1 0 2.10 0a1.05 1.05 0 1 0 -2.10 0M434.33 430.47a1.05 1.05 0 1 0 2.10 0a1.05 1.05 0 1 0 -2.10 0M439.29 428.92a1.05 1.05 0 1 0 2.10 0a1.05 1.05 0 1 0 -2.10 0M382.76 448.70a1.05 1.05 0 1 0 2.10 0a1.05 1.05 0 1 0 -2.10 0M387.74 447.35a1.05 1.05 0 1 0 2.10 0a1.05 1.05 0 1 0 -2.10 0M392.83 446.24a1.05 1.05 0 1 0 2.10 0a1.05 1.05 0 1 0 -2.10 0M397.77 444.68a1.05 1.05 0 1 0 2.10 0a1.05 1.05 0 1 0 -2.10 0M403.05 443.57a1.05 1.05 0 1 0 2.10 0a1.05 1.05 0 1 0 -2.10 0M408.08 442.00a1.05 1.05 0 1 0 2.10 0a1.05 1.05 0 1 0 -2.10 0M412.92 440.87a1.05 1.05 0 1 0 2.10 0a1.05 1.05 0 1 0 -2.10 0M417.98 439.45a1.05 1.05 0 1 0 2.10 0a1.05 1.05 0 1 0 -2.10 0M422.95 437.90a1.05 1.05 0 1 0 2.10 0a1.05 1.05 0 1 0 -2.10 0M427.98 436.77a1.05 1.05 0 1 0 2.10 0a1.05 1.05 0 1 0 -2.10 0M433.14 435.37a1.05 1.05 0 1 0 2.10 0a1.05 1.05 0 1 0 -2.10 0M438.06 434.02a1.05 1.05 0 1 0 2.10 0a1.05 1.05 0 1 0 -2.10 0M443.08 432.67a1.05 1.05 0 1 0 2.10 0a1.05 1.05 0 1 0 -2.10 0M401.53 448.39a1.05 1.05 0 1 0 2.10 0a1.05 1.05 0 1 0 -2.10 0M406.55 447.13a1.05 1.05 0 1 0 2.10 0a1.05 1.05 0 1 0 -2.10 0M411.76 445.88a1.05 1.05 0 1 0 2.10 0a1.05 1.05 0 1 0 -2.10 0M416.75 444.51a1.05 1.05 0 1 0 2.10 0a1.05 1.05 0 1 0 -2.10 0M421.60 443.21a1.05 1.05 0 1 0 2.10 0a1.05 1.05 0 1 0 -2.10 0M426.61 441.60a1.05 1.05 0 1 0 2.10 0a1.05 1.05 0 1 0 -2.10 0M431.71 440.44a1.05 1.05 0 1 0 2.10 0a1.05 1.05 0 1 0 -2.10 0M436.68 439.07a1.05 1.05 0 1 0 2.10 0a1.05 1.05 0 1 0 -2.10 0M441.69 437.82a1.05 1.05 0 1 0 2.10 0a1.05 1.05 0 1 0 -2.10 0M420.32 448.21a1.05 1.05 0 1 0 2.10 0a1.05 1.05 0 1 0 -2.10 0M425.35 446.81a1.05 1.05 0 1 0 2.10 0a1.05 1.05 0 1 0 -2.10 0M430.46 445.49a1.05 1.05 0 1 0 2.10 0a1.05 1.05 0 1 0 -2.10 0M435.51 444.03a1.05 1.05 0 1 0 2.10 0a1.05 1.05 0 1 0 -2.10 0M440.46 442.58a1.05 1.05 0 1 0 2.10 0a1.05 1.05 0 1 0 -2.10 0M438.93 447.64a1.05 1.05 0 1 0 2.10 0a1.05 1.05 0 1 0 -2.10 0"/></g>
</g>
<g filter="url(#blm)">
<rect x="190.2" y="384.1" width="7.8" height="11.5" fill="#fff"/>
<text x="194.1" y="392.5" font-size="6.6" fill="#222" stroke="#222" stroke-width="0.18" font-weight="700" text-anchor="middle" >b</text>
<rect x="274.8" y="384.1" width="7.8" height="11.5" fill="#fff"/>
<text x="278.7" y="392.5" font-size="6.6" fill="#222" stroke="#222" stroke-width="0.18" font-weight="700" text-anchor="middle" >c</text>
<rect x="360.1" y="384.1" width="7.8" height="11.5" fill="#fff"/>
<text x="364.0" y="392.5" font-size="6.6" fill="#222" stroke="#222" stroke-width="0.18" font-weight="700" text-anchor="middle" >d</text>
<rect x="243.3" y="436.9" width="25.4" height="1.1" fill="#f6f6f6"/>
<text x="256.0" y="444.2" font-size="5.0" fill="#f6f6f6" stroke="#f6f6f6" stroke-width="0.18" font-weight="700" text-anchor="middle" textLength="14.6" lengthAdjust="spacingAndGlyphs" >50 μm</text>
<rect x="325.9" y="436.4" width="25.0" height="1.1" fill="#f6f6f6"/>
<text x="338.4" y="443.7" font-size="5.0" fill="#f6f6f6" stroke="#f6f6f6" stroke-width="0.18" font-weight="700" text-anchor="middle" textLength="14.6" lengthAdjust="spacingAndGlyphs" >50 μm</text>
<rect x="411.4" y="436.7" width="26.9" height="1.1" fill="#f6f6f6"/>
<text x="424.9" y="444.0" font-size="5.0" fill="#f6f6f6" stroke="#f6f6f6" stroke-width="0.18" font-weight="700" text-anchor="middle" textLength="14.6" lengthAdjust="spacingAndGlyphs" >50 μm</text>
<text x="223.1" y="455.6" font-size="6.0" fill="#2a2a2a" stroke="#2a2a2a" stroke-width="0.15" font-weight="400" text-anchor="start" textLength="20.2" lengthAdjust="spacingAndGlyphs" >C-PVDF</text>
<text x="306.4" y="455.6" font-size="6.0" fill="#2a2a2a" stroke="#2a2a2a" stroke-width="0.15" font-weight="400" text-anchor="start" textLength="24.9" lengthAdjust="spacingAndGlyphs" >MP-PVDF</text>
<text x="382.9" y="456.9" font-size="6.0" fill="#2a2a2a" stroke="#2a2a2a" stroke-width="0.15" font-weight="400" text-anchor="start" textLength="43.8" lengthAdjust="spacingAndGlyphs" >SiNPs-MP-PVDF</text>
</g>
<rect x="476.1" y="381.4" width="87.2" height="65.0" fill="#707070" filter="url(#m4)"/>
<rect x="563.3" y="381.4" width="86.8" height="65.0" fill="#707070" filter="url(#m5)"/>
<rect x="650.1" y="381.4" width="87.0" height="65.0" fill="#5c5c5c" filter="url(#m6)"/>
<g clip-path="url(#r20)" filter="url(#blm)"><path transform="translate(515.5 417.8) rotate(91)" d="M-3.4 0Q0 -2.0 3.4 0Q0 2.0 -3.4 0Z" fill="#a8a8a8" opacity="0.55"/><path transform="translate(515.5 417.8) rotate(91)" d="M-3.4 0.3Q0 2.8 3.4 0.3Q0 2.0 -3.4 0.3Z" fill="#2a2a2a" opacity="0.44"/><path transform="translate(492.2 414.7) rotate(17)" d="M-2.9 0Q0 -2.1 2.9 0Q0 2.1 -2.9 0Z" fill="#8c8c8c" opacity="0.55"/><path transform="translate(492.2 414.7) rotate(17)" d="M-2.9 0.3Q0 2.9 2.9 0.3Q0 2.1 -2.9 0.3Z" fill="#2a2a2a" opacity="0.44"/><path transform="translate(488.5 416.4) rotate(107)" d="M-3.3 0Q0 -2.2 3.3 0Q0 2.2 -3.3 0Z" fill="#b4b4b4" opacity="0.55"/><path transform="translate(488.5 416.4) rotate(107)" d="M-3.3 0.3Q0 3.0 3.3 0.3Q0 2.2 -3.3 0.3Z" fill="#2a2a2a" opacity="0.44"/><path transform="translate(560.2 423.9) rotate(3)" d="M-2.8 0Q0 -1.4 2.8 0Q0 1.4 -2.8 0Z" fill="#9a9a9a" opacity="0.55"/><path transform="translate(560.2 423.9) rotate(3)" d="M-2.8 0.3Q0 2.2 2.8 0.3Q0 1.4 -2.8 0.3Z" fill="#2a2a2a" opacity="0.44"/><path transform="translate(481.3 393.8) rotate(84)" d="M-2.2 0Q0 -1.0 2.2 0Q0 1.0 -2.2 0Z" fill="#b4b4b4" opacity="0.55"/><path transform="translate(481.3 393.8) rotate(84)" d="M-2.2 0.3Q0 1.8 2.2 0.3Q0 1.0 -2.2 0.3Z" fill="#2a2a2a" opacity="0.44"/><path transform="translate(527.6 394.1) rotate(1)" d="M-2.2 0Q0 -1.2 2.2 0Q0 1.2 -2.2 0Z" fill="#9a9a9a" opacity="0.55"/><path transform="translate(527.6 394.1) rotate(1)" d="M-2.2 0.3Q0 2.0 2.2 0.3Q0 1.2 -2.2 0.3Z" fill="#2a2a2a" opacity="0.44"/><path transform="translate(516.0 399.5) rotate(151)" d="M-3.5 0Q0 -2.8 3.5 0Q0 2.8 -3.5 0Z" fill="#8c8c8c" opacity="0.55"/><path transform="translate(516.0 399.5) rotate(151)" d="M-3.5 0.3Q0 3.6 3.5 0.3Q0 2.8 -3.5 0.3Z" fill="#2a2a2a" opacity="0.44"/><path transform="translate(503.6 396.3) rotate(138)" d="M-2.3 0Q0 -1.0 2.3 0Q0 1.0 -2.3 0Z" fill="#b4b4b4" opacity="0.55"/><path transform="translate(503.6 396.3) rotate(138)" d="M-2.3 0.3Q0 1.8 2.3 0.3Q0 1.0 -2.3 0.3Z" fill="#2a2a2a" opacity="0.44"/><path transform="translate(485.5 400.3) rotate(123)" d="M-1.9 0Q0 -0.8 1.9 0Q0 0.8 -1.9 0Z" fill="#a8a8a8" opacity="0.55"/><path transform="translate(485.5 400.3) rotate(123)" d="M-1.9 0.3Q0 1.6 1.9 0.3Q0 0.8 -1.9 0.3Z" fill="#2a2a2a" opacity="0.44"/><path transform="translate(494.4 440.6) rotate(72)" d="M-2.6 0Q0 -2.0 2.6 0Q0 2.0 -2.6 0Z" fill="#9a9a9a" opacity="0.55"/><path transform="translate(494.4 440.6) rotate(72)" d="M-2.6 0.3Q0 2.8 2.6 0.3Q0 2.0 -2.6 0.3Z" fill="#2a2a2a" opacity="0.44"/><path transform="translate(525.5 394.3) rotate(56)" d="M-2.9 0Q0 -1.6 2.9 0Q0 1.6 -2.9 0Z" fill="#9a9a9a" opacity="0.55"/><path transform="translate(525.5 394.3) rotate(56)" d="M-2.9 0.3Q0 2.4 2.9 0.3Q0 1.6 -2.9 0.3Z" fill="#2a2a2a" opacity="0.44"/><path transform="translate(560.2 430.7) rotate(18)" d="M-2.0 0Q0 -1.0 2.0 0Q0 1.0 -2.0 0Z" fill="#9a9a9a" opacity="0.55"/><path transform="translate(560.2 430.7) rotate(18)" d="M-2.0 0.3Q0 1.8 2.0 0.3Q0 1.0 -2.0 0.3Z" fill="#2a2a2a" opacity="0.44"/><path transform="translate(516.6 413.0) rotate(92)" d="M-2.9 0Q0 -1.5 2.9 0Q0 1.5 -2.9 0Z" fill="#a8a8a8" opacity="0.55"/><path transform="translate(516.6 413.0) rotate(92)" d="M-2.9 0.3Q0 2.3 2.9 0.3Q0 1.5 -2.9 0.3Z" fill="#2a2a2a" opacity="0.44"/><path transform="translate(512.7 406.3) rotate(0)" d="M-2.4 0Q0 -1.9 2.4 0Q0 1.9 -2.4 0Z" fill="#8c8c8c" opacity="0.55"/><path transform="translate(512.7 406.3) rotate(0)" d="M-2.4 0.3Q0 2.7 2.4 0.3Q0 1.9 -2.4 0.3Z" fill="#2a2a2a" opacity="0.44"/><path transform="translate(563.1 382.7) rotate(108)" d="M-2.1 0Q0 -1.7 2.1 0Q0 1.7 -2.1 0Z" fill="#9a9a9a" opacity="0.55"/><path transform="translate(563.1 382.7) rotate(108)" d="M-2.1 0.3Q0 2.5 2.1 0.3Q0 1.7 -2.1 0.3Z" fill="#2a2a2a" opacity="0.44"/><path transform="translate(479.8 390.9) rotate(110)" d="M-2.5 0Q0 -1.1 2.5 0Q0 1.1 -2.5 0Z" fill="#8c8c8c" opacity="0.55"/><path transform="translate(479.8 390.9) rotate(110)" d="M-2.5 0.3Q0 1.9 2.5 0.3Q0 1.1 -2.5 0.3Z" fill="#2a2a2a" opacity="0.44"/><path transform="translate(509.8 386.2) rotate(3)" d="M-2.1 0Q0 -1.4 2.1 0Q0 1.4 -2.1 0Z" fill="#8c8c8c" opacity="0.55"/><path transform="translate(509.8 386.2) rotate(3)" d="M-2.1 0.3Q0 2.2 2.1 0.3Q0 1.4 -2.1 0.3Z" fill="#2a2a2a" opacity="0.44"/><path transform="translate(508.5 410.9) rotate(103)" d="M-3.4 0Q0 -2.1 3.4 0Q0 2.1 -3.4 0Z" fill="#b4b4b4" opacity="0.55"/><path transform="translate(508.5 410.9) rotate(103)" d="M-3.4 0.3Q0 2.9 3.4 0.3Q0 2.1 -3.4 0.3Z" fill="#2a2a2a" opacity="0.44"/><path transform="translate(492.0 391.4) rotate(45)" d="M-3.3 0Q0 -2.5 3.3 0Q0 2.5 -3.3 0Z" fill="#a8a8a8" opacity="0.55"/><path transform="translate(492.0 391.4) rotate(45)" d="M-3.3 0.3Q0 3.3 3.3 0.3Q0 2.5 -3.3 0.3Z" fill="#2a2a2a" opacity="0.44"/><path transform="translate(489.9 422.3) rotate(70)" d="M-2.7 0Q0 -1.9 2.7 0Q0 1.9 -2.7 0Z" fill="#b4b4b4" opacity="0.55"/><path transform="translate(489.9 422.3) rotate(70)" d="M-2.7 0.3Q0 2.7 2.7 0.3Q0 1.9 -2.7 0.3Z" fill="#2a2a2a" opacity="0.44"/><path transform="translate(528.7 408.8) rotate(173)" d="M-1.9 0Q0 -0.9 1.9 0Q0 0.9 -1.9 0Z" fill="#a8a8a8" opacity="0.55"/><path transform="translate(528.7 408.8) rotate(173)" d="M-1.9 0.3Q0 1.7 1.9 0.3Q0 0.9 -1.9 0.3Z" fill="#2a2a2a" opacity="0.44"/><path transform="translate(540.6 406.9) rotate(88)" d="M-2.5 0Q0 -1.9 2.5 0Q0 1.9 -2.5 0Z" fill="#a8a8a8" opacity="0.55"/><path transform="translate(540.6 406.9) rotate(88)" d="M-2.5 0.3Q0 2.7 2.5 0.3Q0 1.9 -2.5 0.3Z" fill="#2a2a2a" opacity="0.44"/><path transform="translate(557.1 444.9) rotate(118)" d="M-2.0 0Q0 -1.2 2.0 0Q0 1.2 -2.0 0Z" fill="#9a9a9a" opacity="0.55"/><path transform="translate(557.1 444.9) rotate(118)" d="M-2.0 0.3Q0 2.0 2.0 0.3Q0 1.2 -2.0 0.3Z" fill="#2a2a2a" opacity="0.44"/><path transform="translate(500.5 441.0) rotate(48)" d="M-2.1 0Q0 -0.9 2.1 0Q0 0.9 -2.1 0Z" fill="#b4b4b4" opacity="0.55"/><path transform="translate(500.5 441.0) rotate(48)" d="M-2.1 0.3Q0 1.7 2.1 0.3Q0 0.9 -2.1 0.3Z" fill="#2a2a2a" opacity="0.44"/><path transform="translate(497.8 384.4) rotate(175)" d="M-2.2 0Q0 -1.4 2.2 0Q0 1.4 -2.2 0Z" fill="#9a9a9a" opacity="0.55"/><path transform="translate(497.8 384.4) rotate(175)" d="M-2.2 0.3Q0 2.2 2.2 0.3Q0 1.4 -2.2 0.3Z" fill="#2a2a2a" opacity="0.44"/><path transform="translate(507.7 439.3) rotate(124)" d="M-3.5 0Q0 -2.3 3.5 0Q0 2.3 -3.5 0Z" fill="#a8a8a8" opacity="0.55"/><path transform="translate(507.7 439.3) rotate(124)" d="M-3.5 0.3Q0 3.1 3.5 0.3Q0 2.3 -3.5 0.3Z" fill="#2a2a2a" opacity="0.44"/><path transform="translate(527.5 441.4) rotate(56)" d="M-2.6 0Q0 -1.5 2.6 0Q0 1.5 -2.6 0Z" fill="#9a9a9a" opacity="0.55"/><path transform="translate(527.5 441.4) rotate(56)" d="M-2.6 0.3Q0 2.3 2.6 0.3Q0 1.5 -2.6 0.3Z" fill="#2a2a2a" opacity="0.44"/><path transform="translate(478.0 422.8) rotate(57)" d="M-2.6 0Q0 -1.8 2.6 0Q0 1.8 -2.6 0Z" fill="#9a9a9a" opacity="0.55"/><path transform="translate(478.0 422.8) rotate(57)" d="M-2.6 0.3Q0 2.6 2.6 0.3Q0 1.8 -2.6 0.3Z" fill="#2a2a2a" opacity="0.44"/><path transform="translate(482.7 416.9) rotate(133)" d="M-3.0 0Q0 -2.3 3.0 0Q0 2.3 -3.0 0Z" fill="#a8a8a8" opacity="0.55"/><path transform="translate(482.7 416.9) rotate(133)" d="M-3.0 0.3Q0 3.1 3.0 0.3Q0 2.3 -3.0 0.3Z" fill="#2a2a2a" opacity="0.44"/><path transform="translate(545.3 440.9) rotate(162)" d="M-2.4 0Q0 -1.6 2.4 0Q0 1.6 -2.4 0Z" fill="#b4b4b4" opacity="0.55"/><path transform="translate(545.3 440.9) rotate(162)" d="M-2.4 0.3Q0 2.4 2.4 0.3Q0 1.6 -2.4 0.3Z" fill="#2a2a2a" opacity="0.44"/><path transform="translate(558.4 383.4) rotate(119)" d="M-2.6 0Q0 -1.2 2.6 0Q0 1.2 -2.6 0Z" fill="#b4b4b4" opacity="0.55"/><path transform="translate(558.4 383.4) rotate(119)" d="M-2.6 0.3Q0 2.0 2.6 0.3Q0 1.2 -2.6 0.3Z" fill="#2a2a2a" opacity="0.44"/><path transform="translate(526.9 421.0) rotate(179)" d="M-1.9 0Q0 -1.3 1.9 0Q0 1.3 -1.9 0Z" fill="#b4b4b4" opacity="0.55"/><path transform="translate(526.9 421.0) rotate(179)" d="M-1.9 0.3Q0 2.1 1.9 0.3Q0 1.3 -1.9 0.3Z" fill="#2a2a2a" opacity="0.44"/><path transform="translate(539.6 406.6) rotate(79)" d="M-3.0 0Q0 -2.0 3.0 0Q0 2.0 -3.0 0Z" fill="#9a9a9a" opacity="0.55"/><path transform="translate(539.6 406.6) rotate(79)" d="M-3.0 0.3Q0 2.8 3.0 0.3Q0 2.0 -3.0 0.3Z" fill="#2a2a2a" opacity="0.44"/><path transform="translate(521.3 414.8) rotate(4)" d="M-2.3 0Q0 -1.1 2.3 0Q0 1.1 -2.3 0Z" fill="#9a9a9a" opacity="0.55"/><path transform="translate(521.3 414.8) rotate(4)" d="M-2.3 0.3Q0 1.9 2.3 0.3Q0 1.1 -2.3 0.3Z" fill="#2a2a2a" opacity="0.44"/><path transform="translate(519.5 421.3) rotate(2)" d="M-3.4 0Q0 -1.8 3.4 0Q0 1.8 -3.4 0Z" fill="#8c8c8c" opacity="0.55"/><path transform="translate(519.5 421.3) rotate(2)" d="M-3.4 0.3Q0 2.6 3.4 0.3Q0 1.8 -3.4 0.3Z" fill="#2a2a2a" opacity="0.44"/><path transform="translate(488.6 421.2) rotate(62)" d="M-2.7 0Q0 -1.9 2.7 0Q0 1.9 -2.7 0Z" fill="#b4b4b4" opacity="0.55"/><path transform="translate(488.6 421.2) rotate(62)" d="M-2.7 0.3Q0 2.7 2.7 0.3Q0 1.9 -2.7 0.3Z" fill="#2a2a2a" opacity="0.44"/><path transform="translate(519.6 397.1) rotate(114)" d="M-2.5 0Q0 -1.3 2.5 0Q0 1.3 -2.5 0Z" fill="#a8a8a8" opacity="0.55"/><path transform="translate(519.6 397.1) rotate(114)" d="M-2.5 0.3Q0 2.1 2.5 0.3Q0 1.3 -2.5 0.3Z" fill="#2a2a2a" opacity="0.44"/><path transform="translate(552.9 406.4) rotate(25)" d="M-2.8 0Q0 -1.5 2.8 0Q0 1.5 -2.8 0Z" fill="#b4b4b4" opacity="0.55"/><path transform="translate(552.9 406.4) rotate(25)" d="M-2.8 0.3Q0 2.3 2.8 0.3Q0 1.5 -2.8 0.3Z" fill="#2a2a2a" opacity="0.44"/><path transform="translate(506.7 439.6) rotate(176)" d="M-1.8 0Q0 -0.8 1.8 0Q0 0.8 -1.8 0Z" fill="#a8a8a8" opacity="0.55"/><path transform="translate(506.7 439.6) rotate(176)" d="M-1.8 0.3Q0 1.6 1.8 0.3Q0 0.8 -1.8 0.3Z" fill="#2a2a2a" opacity="0.44"/><path transform="translate(485.9 412.0) rotate(69)" d="M-3.4 0Q0 -2.5 3.4 0Q0 2.5 -3.4 0Z" fill="#b4b4b4" opacity="0.55"/><path transform="translate(485.9 412.0) rotate(69)" d="M-3.4 0.3Q0 3.3 3.4 0.3Q0 2.5 -3.4 0.3Z" fill="#2a2a2a" opacity="0.44"/></g>
<g clip-path="url(#r21)" filter="url(#blm)"><path transform="translate(621.6 428.0) rotate(58)" d="M-4.9 0Q0 -3.3 4.9 0Q0 3.3 -4.9 0Z" fill="#9a9a9a" opacity="0.7"/><path transform="translate(621.6 428.0) rotate(58)" d="M-4.9 0.3Q0 4.1 4.9 0.3Q0 3.3 -4.9 0.3Z" fill="#2a2a2a" opacity="0.56"/><path transform="translate(587.4 420.9) rotate(64)" d="M-4.4 0Q0 -2.4 4.4 0Q0 2.4 -4.4 0Z" fill="#9a9a9a" opacity="0.7"/><path transform="translate(587.4 420.9) rotate(64)" d="M-4.4 0.3Q0 3.2 4.4 0.3Q0 2.4 -4.4 0.3Z" fill="#2a2a2a" opacity="0.56"/><path transform="translate(618.9 407.7) rotate(48)" d="M-2.7 0Q0 -1.9 2.7 0Q0 1.9 -2.7 0Z" fill="#a8a8a8" opacity="0.7"/><path transform="translate(618.9 407.7) rotate(48)" d="M-2.7 0.3Q0 2.7 2.7 0.3Q0 1.9 -2.7 0.3Z" fill="#2a2a2a" opacity="0.56"/><path transform="translate(632.5 445.4) rotate(96)" d="M-2.4 0Q0 -1.2 2.4 0Q0 1.2 -2.4 0Z" fill="#8c8c8c" opacity="0.7"/><path transform="translate(632.5 445.4) rotate(96)" d="M-2.4 0.3Q0 2.0 2.4 0.3Q0 1.2 -2.4 0.3Z" fill="#2a2a2a" opacity="0.56"/><path transform="translate(646.5 425.9) rotate(32)" d="M-2.7 0Q0 -1.6 2.7 0Q0 1.6 -2.7 0Z" fill="#9a9a9a" opacity="0.7"/><path transform="translate(646.5 425.9) rotate(32)" d="M-2.7 0.3Q0 2.4 2.7 0.3Q0 1.6 -2.7 0.3Z" fill="#2a2a2a" opacity="0.56"/><path transform="translate(628.8 416.2) rotate(140)" d="M-2.1 0Q0 -1.1 2.1 0Q0 1.1 -2.1 0Z" fill="#a8a8a8" opacity="0.7"/><path transform="translate(628.8 416.2) rotate(140)" d="M-2.1 0.3Q0 1.9 2.1 0.3Q0 1.1 -2.1 0.3Z" fill="#2a2a2a" opacity="0.56"/><path transform="translate(597.5 432.9) rotate(168)" d="M-5.2 0Q0 -2.4 5.2 0Q0 2.4 -5.2 0Z" fill="#b4b4b4" opacity="0.7"/><path transform="translate(597.5 432.9) rotate(168)" d="M-5.2 0.3Q0 3.2 5.2 0.3Q0 2.4 -5.2 0.3Z" fill="#2a2a2a" opacity="0.56"/><path transform="translate(574.6 410.9) rotate(68)" d="M-4.2 0Q0 -3.2 4.2 0Q0 3.2 -4.2 0Z" fill="#8c8c8c" opacity="0.7"/><path transform="translate(574.6 410.9) rotate(68)" d="M-4.2 0.3Q0 4.0 4.2 0.3Q0 3.2 -4.2 0.3Z" fill="#2a2a2a" opacity="0.56"/><path transform="translate(603.5 423.7) rotate(147)" d="M-2.7 0Q0 -1.9 2.7 0Q0 1.9 -2.7 0Z" fill="#9a9a9a" opacity="0.7"/><path transform="translate(603.5 423.7) rotate(147)" d="M-2.7 0.3Q0 2.7 2.7 0.3Q0 1.9 -2.7 0.3Z" fill="#2a2a2a" opacity="0.56"/><path transform="translate(581.8 439.9) rotate(97)" d="M-5.4 0Q0 -4.3 5.4 0Q0 4.3 -5.4 0Z" fill="#8c8c8c" opacity="0.7"/><path transform="translate(581.8 439.9) rotate(97)" d="M-5.4 0.3Q0 5.1 5.4 0.3Q0 4.3 -5.4 0.3Z" fill="#2a2a2a" opacity="0.56"/><path transform="translate(586.0 428.1) rotate(7)" d="M-2.1 0Q0 -1.3 2.1 0Q0 1.3 -2.1 0Z" fill="#8c8c8c" opacity="0.7"/><path transform="translate(586.0 428.1) rotate(7)" d="M-2.1 0.3Q0 2.1 2.1 0.3Q0 1.3 -2.1 0.3Z" fill="#2a2a2a" opacity="0.56"/><path transform="translate(611.1 431.3) rotate(146)" d="M-3.7 0Q0 -1.7 3.7 0Q0 1.7 -3.7 0Z" fill="#9a9a9a" opacity="0.7"/><path transform="translate(611.1 431.3) rotate(146)" d="M-3.7 0.3Q0 2.5 3.7 0.3Q0 1.7 -3.7 0.3Z" fill="#2a2a2a" opacity="0.56"/><path transform="translate(600.5 383.7) rotate(165)" d="M-3.9 0Q0 -2.7 3.9 0Q0 2.7 -3.9 0Z" fill="#b4b4b4" opacity="0.7"/><path transform="translate(600.5 383.7) rotate(165)" d="M-3.9 0.3Q0 3.5 3.9 0.3Q0 2.7 -3.9 0.3Z" fill="#2a2a2a" opacity="0.56"/><path transform="translate(576.2 415.0) rotate(124)" d="M-4.5 0Q0 -3.4 4.5 0Q0 3.4 -4.5 0Z" fill="#b4b4b4" opacity="0.7"/><path transform="translate(576.2 415.0) rotate(124)" d="M-4.5 0.3Q0 4.2 4.5 0.3Q0 3.4 -4.5 0.3Z" fill="#2a2a2a" opacity="0.56"/><path transform="translate(613.6 426.2) rotate(101)" d="M-4.7 0Q0 -2.8 4.7 0Q0 2.8 -4.7 0Z" fill="#a8a8a8" opacity="0.7"/><path transform="translate(613.6 426.2) rotate(101)" d="M-4.7 0.3Q0 3.6 4.7 0.3Q0 2.8 -4.7 0.3Z" fill="#2a2a2a" opacity="0.56"/><path transform="translate(608.7 436.2) rotate(69)" d="M-4.0 0Q0 -2.2 4.0 0Q0 2.2 -4.0 0Z" fill="#a8a8a8" opacity="0.7"/><path transform="translate(608.7 436.2) rotate(69)" d="M-4.0 0.3Q0 3.0 4.0 0.3Q0 2.2 -4.0 0.3Z" fill="#2a2a2a" opacity="0.56"/><path transform="translate(589.7 390.6) rotate(90)" d="M-3.9 0Q0 -2.1 3.9 0Q0 2.1 -3.9 0Z" fill="#b4b4b4" opacity="0.7"/><path transform="translate(589.7 390.6) rotate(90)" d="M-3.9 0.3Q0 2.9 3.9 0.3Q0 2.1 -3.9 0.3Z" fill="#2a2a2a" opacity="0.56"/><path transform="translate(609.8 414.1) rotate(174)" d="M-4.1 0Q0 -1.9 4.1 0Q0 1.9 -4.1 0Z" fill="#b4b4b4" opacity="0.7"/><path transform="translate(609.8 414.1) rotate(174)" d="M-4.1 0.3Q0 2.7 4.1 0.3Q0 1.9 -4.1 0.3Z" fill="#2a2a2a" opacity="0.56"/><path transform="translate(610.5 445.7) rotate(30)" d="M-2.4 0Q0 -1.1 2.4 0Q0 1.1 -2.4 0Z" fill="#b4b4b4" opacity="0.7"/><path transform="translate(610.5 445.7) rotate(30)" d="M-2.4 0.3Q0 1.9 2.4 0.3Q0 1.1 -2.4 0.3Z" fill="#2a2a2a" opacity="0.56"/><path transform="translate(599.2 443.6) rotate(85)" d="M-5.2 0Q0 -2.8 5.2 0Q0 2.8 -5.2 0Z" fill="#a8a8a8" opacity="0.7"/><path transform="translate(599.2 443.6) rotate(85)" d="M-5.2 0.3Q0 3.6 5.2 0.3Q0 2.8 -5.2 0.3Z" fill="#2a2a2a" opacity="0.56"/><path transform="translate(592.8 440.0) rotate(94)" d="M-5.3 0Q0 -4.1 5.3 0Q0 4.1 -5.3 0Z" fill="#9a9a9a" opacity="0.7"/><path transform="translate(592.8 440.0) rotate(94)" d="M-5.3 0.3Q0 4.9 5.3 0.3Q0 4.1 -5.3 0.3Z" fill="#2a2a2a" opacity="0.56"/><path transform="translate(579.9 421.6) rotate(140)" d="M-5.2 0Q0 -2.5 5.2 0Q0 2.5 -5.2 0Z" fill="#9a9a9a" opacity="0.7"/><path transform="translate(579.9 421.6) rotate(140)" d="M-5.2 0.3Q0 3.3 5.2 0.3Q0 2.5 -5.2 0.3Z" fill="#2a2a2a" opacity="0.56"/><path transform="translate(566.4 391.5) rotate(130)" d="M-2.0 0Q0 -1.1 2.0 0Q0 1.1 -2.0 0Z" fill="#a8a8a8" opacity="0.7"/><path transform="translate(566.4 391.5) rotate(130)" d="M-2.0 0.3Q0 1.9 2.0 0.3Q0 1.1 -2.0 0.3Z" fill="#2a2a2a" opacity="0.56"/><path transform="translate(617.1 388.2) rotate(92)" d="M-4.6 0Q0 -2.2 4.6 0Q0 2.2 -4.6 0Z" fill="#8c8c8c" opacity="0.7"/><path transform="translate(617.1 388.2) rotate(92)" d="M-4.6 0.3Q0 3.0 4.6 0.3Q0 2.2 -4.6 0.3Z" fill="#2a2a2a" opacity="0.56"/><path transform="translate(625.6 427.0) rotate(114)" d="M-5.1 0Q0 -2.3 5.1 0Q0 2.3 -5.1 0Z" fill="#a8a8a8" opacity="0.7"/><path transform="translate(625.6 427.0) rotate(114)" d="M-5.1 0.3Q0 3.1 5.1 0.3Q0 2.3 -5.1 0.3Z" fill="#2a2a2a" opacity="0.56"/><path transform="translate(610.0 437.5) rotate(39)" d="M-3.9 0Q0 -2.0 3.9 0Q0 2.0 -3.9 0Z" fill="#a8a8a8" opacity="0.7"/><path transform="translate(610.0 437.5) rotate(39)" d="M-3.9 0.3Q0 2.8 3.9 0.3Q0 2.0 -3.9 0.3Z" fill="#2a2a2a" opacity="0.56"/><path transform="translate(583.5 429.6) rotate(57)" d="M-4.8 0Q0 -3.7 4.8 0Q0 3.7 -4.8 0Z" fill="#8c8c8c" opacity="0.7"/><path transform="translate(583.5 429.6) rotate(57)" d="M-4.8 0.3Q0 4.5 4.8 0.3Q0 3.7 -4.8 0.3Z" fill="#2a2a2a" opacity="0.56"/><path transform="translate(640.6 394.1) rotate(17)" d="M-4.7 0Q0 -2.4 4.7 0Q0 2.4 -4.7 0Z" fill="#a8a8a8" opacity="0.7"/><path transform="translate(640.6 394.1) rotate(17)" d="M-4.7 0.3Q0 3.2 4.7 0.3Q0 2.4 -4.7 0.3Z" fill="#2a2a2a" opacity="0.56"/><path transform="translate(574.8 387.1) rotate(169)" d="M-3.4 0Q0 -2.0 3.4 0Q0 2.0 -3.4 0Z" fill="#a8a8a8" opacity="0.7"/><path transform="translate(574.8 387.1) rotate(169)" d="M-3.4 0.3Q0 2.8 3.4 0.3Q0 2.0 -3.4 0.3Z" fill="#2a2a2a" opacity="0.56"/><path transform="translate(580.7 422.2) rotate(103)" d="M-4.8 0Q0 -2.3 4.8 0Q0 2.3 -4.8 0Z" fill="#8c8c8c" opacity="0.7"/><path transform="translate(580.7 422.2) rotate(103)" d="M-4.8 0.3Q0 3.1 4.8 0.3Q0 2.3 -4.8 0.3Z" fill="#2a2a2a" opacity="0.56"/><path transform="translate(642.4 444.3) rotate(136)" d="M-2.4 0Q0 -1.5 2.4 0Q0 1.5 -2.4 0Z" fill="#a8a8a8" opacity="0.7"/><path transform="translate(642.4 444.3) rotate(136)" d="M-2.4 0.3Q0 2.3 2.4 0.3Q0 1.5 -2.4 0.3Z" fill="#2a2a2a" opacity="0.56"/><path transform="translate(633.0 412.7) rotate(110)" d="M-2.1 0Q0 -1.5 2.1 0Q0 1.5 -2.1 0Z" fill="#b4b4b4" opacity="0.7"/><path transform="translate(633.0 412.7) rotate(110)" d="M-2.1 0.3Q0 2.3 2.1 0.3Q0 1.5 -2.1 0.3Z" fill="#2a2a2a" opacity="0.56"/><path transform="translate(576.0 393.4) rotate(178)" d="M-2.7 0Q0 -2.0 2.7 0Q0 2.0 -2.7 0Z" fill="#9a9a9a" opacity="0.7"/><path transform="translate(576.0 393.4) rotate(178)" d="M-2.7 0.3Q0 2.8 2.7 0.3Q0 2.0 -2.7 0.3Z" fill="#2a2a2a" opacity="0.56"/><path transform="translate(613.6 390.1) rotate(17)" d="M-4.4 0Q0 -2.1 4.4 0Q0 2.1 -4.4 0Z" fill="#b4b4b4" opacity="0.7"/><path transform="translate(613.6 390.1) rotate(17)" d="M-4.4 0.3Q0 2.9 4.4 0.3Q0 2.1 -4.4 0.3Z" fill="#2a2a2a" opacity="0.56"/><path transform="translate(603.8 414.9) rotate(2)" d="M-3.5 0Q0 -2.3 3.5 0Q0 2.3 -3.5 0Z" fill="#9a9a9a" opacity="0.7"/><path transform="translate(603.8 414.9) rotate(2)" d="M-3.5 0.3Q0 3.1 3.5 0.3Q0 2.3 -3.5 0.3Z" fill="#2a2a2a" opacity="0.56"/><path transform="translate(636.6 393.2) rotate(73)" d="M-3.6 0Q0 -2.5 3.6 0Q0 2.5 -3.6 0Z" fill="#a8a8a8" opacity="0.7"/><path transform="translate(636.6 393.2) rotate(73)" d="M-3.6 0.3Q0 3.3 3.6 0.3Q0 2.5 -3.6 0.3Z" fill="#2a2a2a" opacity="0.56"/><path transform="translate(615.8 387.6) rotate(15)" d="M-4.8 0Q0 -2.7 4.8 0Q0 2.7 -4.8 0Z" fill="#b4b4b4" opacity="0.7"/><path transform="translate(615.8 387.6) rotate(15)" d="M-4.8 0.3Q0 3.5 4.8 0.3Q0 2.7 -4.8 0.3Z" fill="#2a2a2a" opacity="0.56"/><path transform="translate(612.7 393.8) rotate(137)" d="M-4.0 0Q0 -2.3 4.0 0Q0 2.3 -4.0 0Z" fill="#8c8c8c" opacity="0.7"/><path transform="translate(612.7 393.8) rotate(137)" d="M-4.0 0.3Q0 3.1 4.0 0.3Q0 2.3 -4.0 0.3Z" fill="#2a2a2a" opacity="0.56"/><path transform="translate(642.4 429.8) rotate(73)" d="M-4.7 0Q0 -3.5 4.7 0Q0 3.5 -4.7 0Z" fill="#8c8c8c" opacity="0.7"/><path transform="translate(642.4 429.8) rotate(73)" d="M-4.7 0.3Q0 4.3 4.7 0.3Q0 3.5 -4.7 0.3Z" fill="#2a2a2a" opacity="0.56"/><path transform="translate(639.7 426.6) rotate(73)" d="M-4.7 0Q0 -3.4 4.7 0Q0 3.4 -4.7 0Z" fill="#a8a8a8" opacity="0.7"/><path transform="translate(639.7 426.6) rotate(73)" d="M-4.7 0.3Q0 4.2 4.7 0.3Q0 3.4 -4.7 0.3Z" fill="#2a2a2a" opacity="0.56"/><path transform="translate(569.4 403.6) rotate(64)" d="M-3.6 0Q0 -1.6 3.6 0Q0 1.6 -3.6 0Z" fill="#9a9a9a" opacity="0.7"/><path transform="translate(569.4 403.6) rotate(64)" d="M-3.6 0.3Q0 2.4 3.6 0.3Q0 1.6 -3.6 0.3Z" fill="#2a2a2a" opacity="0.56"/><path transform="translate(583.4 442.8) rotate(119)" d="M-4.3 0Q0 -2.4 4.3 0Q0 2.4 -4.3 0Z" fill="#a8a8a8" opacity="0.7"/><path transform="translate(583.4 442.8) rotate(119)" d="M-4.3 0.3Q0 3.2 4.3 0.3Q0 2.4 -4.3 0.3Z" fill="#2a2a2a" opacity="0.56"/><path transform="translate(609.6 406.7) rotate(126)" d="M-5.5 0Q0 -3.7 5.5 0Q0 3.7 -5.5 0Z" fill="#b4b4b4" opacity="0.7"/><path transform="translate(609.6 406.7) rotate(126)" d="M-5.5 0.3Q0 4.5 5.5 0.3Q0 3.7 -5.5 0.3Z" fill="#2a2a2a" opacity="0.56"/><path transform="translate(648.4 382.9) rotate(46)" d="M-4.2 0Q0 -2.9 4.2 0Q0 2.9 -4.2 0Z" fill="#b4b4b4" opacity="0.7"/><path transform="translate(648.4 382.9) rotate(46)" d="M-4.2 0.3Q0 3.7 4.2 0.3Q0 2.9 -4.2 0.3Z" fill="#2a2a2a" opacity="0.56"/><path transform="translate(607.1 430.9) rotate(47)" d="M-4.3 0Q0 -1.9 4.3 0Q0 1.9 -4.3 0Z" fill="#8c8c8c" opacity="0.7"/><path transform="translate(607.1 430.9) rotate(47)" d="M-4.3 0.3Q0 2.7 4.3 0.3Q0 1.9 -4.3 0.3Z" fill="#2a2a2a" opacity="0.56"/></g>
<g filter="url(#blm)">
<g clip-path="url(#r22)" fill="#bcbcbc" opacity="0.9"><path d="M649.35 445.90a0.75 0.75 0 1 0 1.50 0a0.75 0.75 0 1 0 -1.50 0M648.85 437.40a0.75 0.75 0 1 0 1.50 0a0.75 0.75 0 1 0 -1.50 0M649.85 439.90a0.75 0.75 0 1 0 1.50 0a0.75 0.75 0 1 0 -1.50 0M650.85 442.40a0.75 0.75 0 1 0 1.50 0a0.75 0.75 0 1 0 -1.50 0M651.85 444.90a0.75 0.75 0 1 0 1.50 0a0.75 0.75 0 1 0 -1.50 0M649.35 431.40a0.75 0.75 0 1 0 1.50 0a0.75 0.75 0 1 0 -1.50 0M650.35 433.90a0.75 0.75 0 1 0 1.50 0a0.75 0.75 0 1 0 -1.50 0M651.35 436.40a0.75 0.75 0 1 0 1.50 0a0.75 0.75 0 1 0 -1.50 0M652.35 438.90a0.75 0.75 0 1 0 1.50 0a0.75 0.75 0 1 0 -1.50 0M653.35 441.40a0.75 0.75 0 1 0 1.50 0a0.75 0.75 0 1 0 -1.50 0M654.35 443.90a0.75 0.75 0 1 0 1.50 0a0.75 0.75 0 1 0 -1.50 0M655.35 446.40a0.75 0.75 0 1 0 1.50 0a0.75 0.75 0 1 0 -1.50 0M648.85 422.90a0.75 0.75 0 1 0 1.50 0a0.75 0.75 0 1 0 -1.50 0M649.85 425.40a0.75 0.75 0 1 0 1.50 0a0.75 0.75 0 1 0 -1.50 0M650.85 427.90a0.75 0.75 0 1 0 1.50 0a0.75 0.75 0 1 0 -1.50 0M651.85 430.40a0.75 0.75 0 1 0 1.50 0a0.75 0.75 0 1 0 -1.50 0M652.85 432.90a0.75 0.75 0 1 0 1.50 0a0.75 0.75 0 1 0 -1.50 0M653.85 435.40a0.75 0.75 0 1 0 1.50 0a0.75 0.75 0 1 0 -1.50 0M654.85 437.90a0.75 0.75 0 1 0 1.50 0a0.75 0.75 0 1 0 -1.50 0M655.85 440.40a0.75 0.75 0 1 0 1.50 0a0.75 0.75 0 1 0 -1.50 0M656.85 442.90a0.75 0.75 0 1 0 1.50 0a0.75 0.75 0 1 0 -1.50 0M657.85 445.40a0.75 0.75 0 1 0 1.50 0a0.75 0.75 0 1 0 -1.50 0M649.35 416.90a0.75 0.75 0 1 0 1.50 0a0.75 0.75 0 1 0 -1.50 0M650.35 419.40a0.75 0.75 0 1 0 1.50 0a0.75 0.75 0 1 0 -1.50 0M651.35 421.90a0.75 0.75 0 1 0 1.50 0a0.75 0.75 0 1 0 -1.50 0M652.35 424.40a0.75 0.75 0 1 0 1.50 0a0.75 0.75 0 1 0 -1.50 0M653.35 426.90a0.75 0.75 0 1 0 1.50 0a0.75 0.75 0 1 0 -1.50 0M654.35 429.40a0.75 0.75 0 1 0 1.50 0a0.75 0.75 0 1 0 -1.50 0M655.35 431.90a0.75 0.75 0 1 0 1.50 0a0.75 0.75 0 1 0 -1.50 0M656.35 434.40a0.75 0.75 0 1 0 1.50 0a0.75 0.75 0 1 0 -1.50 0M657.35 436.90a0.75 0.75 0 1 0 1.50 0a0.75 0.75 0 1 0 -1.50 0M658.35 439.40a0.75 0.75 0 1 0 1.50 0a0.75 0.75 0 1 0 -1.50 0M659.35 441.90a0.75 0.75 0 1 0 1.50 0a0.75 0.75 0 1 0 -1.50 0M660.35 444.40a0.75 0.75 0 1 0 1.50 0a0.75 0.75 0 1 0 -1.50 0M661.35 446.90a0.75 0.75 0 1 0 1.50 0a0.75 0.75 0 1 0 -1.50 0M648.85 408.40a0.75 0.75 0 1 0 1.50 0a0.75 0.75 0 1 0 -1.50 0M649.85 410.90a0.75 0.75 0 1 0 1.50 0a0.75 0.75 0 1 0 -1.50 0M650.85 413.40a0.75 0.75 0 1 0 1.50 0a0.75 0.75 0 1 0 -1.50 0M651.85 415.90a0.75 0.75 0 1 0 1.50 0a0.75 0.75 0 1 0 -1.50 0M652.85 418.40a0.75 0.75 0 1 0 1.50 0a0.75 0.75 0 1 0 -1.50 0M653.85 420.90a0.75 0.75 0 1 0 1.50 0a0.75 0.75 0 1 0 -1.50 0M654.85 423.40a0.75 0.75 0 1 0 1.50 0a0.75 0.75 0 1 0 -1.50 0M655.85 425.90a0.75 0.75 0 1 0 1.50 0a0.75 0.75 0 1 0 -1.50 0M656.85 428.40a0.75 0.75 0 1 0 1.50 0a0.75 0.75 0 1 0 -1.50 0M657.85 430.90a0.75 0.75 0 1 0 1.50 0a0.75 0.75 0 1 0 -1.50 0M658.85 433.40a0.75 0.75 0 1 0 1.50 0a0.75 0.75 0 1 0 -1.50 0M659.85 435.90a0.75 0.75 0 1 0 1.50 0a0.75 0.75 0 1 0 -1.50 0M660.85 438.40a0.75 0.75 0 1 0 1.50 0a0.75 0.75 0 1 0 -1.50 0M661.85 440.90a0.75 0.75 0 1 0 1.50 0a0.75 0.75 0 1 0 -1.50 0M662.85 443.40a0.75 0.75 0 1 0 1.50 0a0.75 0.75 0 1 0 -1.50 0M663.85 445.90a0.75 0.75 0 1 0 1.50 0a0.75 0.75 0 1 0 -1.50 0M649.35 402.40a0.75 0.75 0 1 0 1.50 0a0.75 0.75 0 1 0 -1.50 0M650.35 404.90a0.75 0.75 0 1 0 1.50 0a0.75 0.75 0 1 0 -1.50 0M651.35 407.40a0.75 0.75 0 1 0 1.50 0a0.75 0.75 0 1 0 -1.50 0M652.35 409.90a0.75 0.75 0 1 0 1.50 0a0.75 0.75 0 1 0 -1.50 0M653.35 412.40a0.75 0.75 0 1 0 1.50 0a0.75 0.75 0 1 0 -1.50 0M654.35 414.90a0.75 0.75 0 1 0 1.50 0a0.75 0.75 0 1 0 -1.50 0M655.35 417.40a0.75 0.75 0 1 0 1.50 0a0.75 0.75 0 1 0 -1.50 0M656.35 419.90a0.75 0.75 0 1 0 1.50 0a0.75 0.75 0 1 0 -1.50 0M657.35 422.40a0.75 0.75 0 1 0 1.50 0a0.75 0.75 0 1 0 -1.50 0M658.35 424.90a0.75 0.75 0 1 0 1.50 0a0.75 0.75 0 1 0 -1.50 0M659.35 427.40a0.75 0.75 0 1 0 1.50 0a0.75 0.75 0 1 0 -1.50 0M660.35 429.90a0.75 0.75 0 1 0 1.50 0a0.75 0.75 0 1 0 -1.50 0M661.35 432.40a0.75 0.75 0 1 0 1.50 0a0.75 0.75 0 1 0 -1.50 0M662.35 434.90a0.75 0.75 0 1 0 1.50 0a0.75 0.75 0 1 0 -1.50 0M663.35 437.40a0.75 0.75 0 1 0 1.50 0a0.75 0.75 0 1 0 -1.50 0M664.35 439.90a0.75 0.75 0 1 0 1.50 0a0.75 0.75 0 1 0 -1.50 0M665.35 442.40a0.75 0.75 0 1 0 1.50 0a0.75 0.75 0 1 0 -1.50 0M666.35 444.90a0.75 0.75 0 1 0 1.50 0a0.75 0.75 0 1 0 -1.50 0M648.85 393.90a0.75 0.75 0 1 0 1.50 0a0.75 0.75 0 1 0 -1.50 0M649.85 396.40a0.75 0.75 0 1 0 1.50 0a0.75 0.75 0 1 0 -1.50 0M650.85 398.90a0.75 0.75 0 1 0 1.50 0a0.75 0.75 0 1 0 -1.50 0M651.85 401.40a0.75 0.75 0 1 0 1.50 0a0.75 0.75 0 1 0 -1.50 0M652.85 403.90a0.75 0.75 0 1 0 1.50 0a0.75 0.75 0 1 0 -1.50 0M653.85 406.40a0.75 0.75 0 1 0 1.50 0a0.75 0.75 0 1 0 -1.50 0M654.85 408.90a0.75 0.75 0 1 0 1.50 0a0.75 0.75 0 1 0 -1.50 0M655.85 411.40a0.75 0.75 0 1 0 1.50 0a0.75 0.75 0 1 0 -1.50 0M656.85 413.90a0.75 0.75 0 1 0 1.50 0a0.75 0.75 0 1 0 -1.50 0M657.85 416.40a0.75 0.75 0 1 0 1.50 0a0.75 0.75 0 1 0 -1.50 0M658.85 418.90a0.75 0.75 0 1 0 1.50 0a0.75 0.75 0 1 0 -1.50 0M659.85 421.40a0.75 0.75 0 1 0 1.50 0a0.75 0.75 0 1 0 -1.50 0M660.85 423.90a0.75 0.75 0 1 0 1.50 0a0.75 0.75 0 1 0 -1.50 0M661.85 426.40a0.75 0.75 0 1 0 1.50 0a0.75 0.75 0 1 0 -1.50 0M662.85 428.90a0.75 0.75 0 1 0 1.50 0a0.75 0.75 0 1 0 -1.50 0M663.85 431.40a0.75 0.75 0 1 0 1.50 0a0.75 0.75 0 1 0 -1.50 0M664.85 433.90a0.75 0.75 0 1 0 1.50 0a0.75 0.75 0 1 0 -1.50 0M665.85 436.40a0.75 0.75 0 1 0 1.50 0a0.75 0.75 0 1 0 -1.50 0M666.85 438.90a0.75 0.75 0 1 0 1.50 0a0.75 0.75 0 1 0 -1.50 0M667.85 441.40a0.75 0.75 0 1 0 1.50 0a0.75 0.75 0 1 0 -1.50 0M668.85 443.90a0.75 0.75 0 1 0 1.50 0a0.75 0.75 0 1 0 -1.50 0M669.85 446.40a0.75 0.75 0 1 0 1.50 0a0.75 0.75 0 1 0 -1.50 0M649.35 387.90a0.75 0.75 0 1 0 1.50 0a0.75 0.75 0 1 0 -1.50 0M650.35 390.40a0.75 0.75 0 1 0 1.50 0a0.75 0.75 0 1 0 -1.50 0M651.35 392.90a0.75 0.75 0 1 0 1.50 0a0.75 0.75 0 1 0 -1.50 0M652.35 395.40a0.75 0.75 0 1 0 1.50 0a0.75 0.75 0 1 0 -1.50 0M653.35 397.90a0.75 0.75 0 1 0 1.50 0a0.75 0.75 0 1 0 -1.50 0M654.35 400.40a0.75 0.75 0 1 0 1.50 0a0.75 0.75 0 1 0 -1.50 0M655.35 402.90a0.75 0.75 0 1 0 1.50 0a0.75 0.75 0 1 0 -1.50 0M656.35 405.40a0.75 0.75 0 1 0 1.50 0a0.75 0.75 0 1 0 -1.50 0M657.35 407.90a0.75 0.75 0 1 0 1.50 0a0.75 0.75 0 1 0 -1.50 0M658.35 410.40a0.75 0.75 0 1 0 1.50 0a0.75 0.75 0 1 0 -1.50 0M659.35 412.90a0.75 0.75 0 1 0 1.50 0a0.75 0.75 0 1 0 -1.50 0M660.35 415.40a0.75 0.75 0 1 0 1.50 0a0.75 0.75 0 1 0 -1.50 0M661.35 417.90a0.75 0.75 0 1 0 1.50 0a0.75 0.75 0 1 0 -1.50 0M662.35 420.40a0.75 0.75 0 1 0 1.50 0a0.75 0.75 0 1 0 -1.50 0M663.35 422.90a0.75 0.75 0 1 0 1.50 0a0.75 0.75 0 1 0 -1.50 0M664.35 425.40a0.75 0.75 0 1 0 1.50 0a0.75 0.75 0 1 0 -1.50 0M665.35 427.90a0.75 0.75 0 1 0 1.50 0a0.75 0.75 0 1 0 -1.50 0M666.35 430.40a0.75 0.75 0 1 0 1.50 0a0.75 0.75 0 1 0 -1.50 0M667.35 432.90a0.75 0.75 0 1 0 1.50 0a0.75 0.75 0 1 0 -1.50 0M668.35 435.40a0.75 0.75 0 1 0 1.50 0a0.75 0.75 0 1 0 -1.50 0M669.35 437.90a0.75 0.75 0 1 0 1.50 0a0.75 0.75 0 1 0 -1.50 0M670.35 440.40a0.75 0.75 0 1 0 1.50 0a0.75 0.75 0 1 0 -1.50 0M671.35 442.90a0.75 0.75 0 1 0 1.50 0a0.75 0.75 0 1 0 -1.50 0M672.35 445.40a0.75 0.75 0 1 0 1.50 0a0.75 0.75 0 1 0 -1.50 0M649.85 381.90a0.75 0.75 0 1 0 1.50 0a0.75 0.75 0 1 0 -1.50 0M650.85 384.40a0.75 0.75 0 1 0 1.50 0a0.75 0.75 0 1 0 -1.50 0M651.85 386.90a0.75 0.75 0 1 0 1.50 0a0.75 0.75 0 1 0 -1.50 0M652.85 389.40a0.75 0.75 0 1 0 1.50 0a0.75 0.75 0 1 0 -1.50 0M653.85 391.90a0.75 0.75 0 1 0 1.50 0a0.75 0.75 0 1 0 -1.50 0M654.85 394.40a0.75 0.75 0 1 0 1.50 0a0.75 0.75 0 1 0 -1.50 0M655.85 396.90a0.75 0.75 0 1 0 1.50 0a0.75 0.75 0 1 0 -1.50 0M656.85 399.40a0.75 0.75 0 1 0 1.50 0a0.75 0.75 0 1 0 -1.50 0M657.85 401.90a0.75 0.75 0 1 0 1.50 0a0.75 0.75 0 1 0 -1.50 0M658.85 404.40a0.75 0.75 0 1 0 1.50 0a0.75 0.75 0 1 0 -1.50 0M659.85 406.90a0.75 0.75 0 1 0 1.50 0a0.75 0.75 0 1 0 -1.50 0M660.85 409.40a0.75 0.75 0 1 0 1.50 0a0.75 0.75 0 1 0 -1.50 0M661.85 411.90a0.75 0.75 0 1 0 1.50 0a0.75 0.75 0 1 0 -1.50 0M662.85 414.40a0.75 0.75 0 1 0 1.50 0a0.75 0.75 0 1 0 -1.50 0M663.85 416.90a0.75 0.75 0 1 0 1.50 0a0.75 0.75 0 1 0 -1.50 0M664.85 419.40a0.75 0.75 0 1 0 1.50 0a0.75 0.75 0 1 0 -1.50 0M665.85 421.90a0.75 0.75 0 1 0 1.50 0a0.75 0.75 0 1 0 -1.50 0M666.85 424.40a0.75 0.75 0 1 0 1.50 0a0.75 0.75 0 1 0 -1.50 0M667.85 426.90a0.75 0.75 0 1 0 1.50 0a0.75 0.75 0 1 0 -1.50 0M668.85 429.40a0.75 0.75 0 1 0 1.50 0a0.75 0.75 0 1 0 -1.50 0M669.85 431.90a0.75 0.75 0 1 0 1.50 0a0.75 0.75 0 1 0 -1.50 0M670.85 434.40a0.75 0.75 0 1 0 1.50 0a0.75 0.75 0 1 0 -1.50 0M671.85 436.90a0.75 0.75 0 1 0 1.50 0a0.75 0.75 0 1 0 -1.50 0M672.85 439.40a0.75 0.75 0 1 0 1.50 0a0.75 0.75 0 1 0 -1.50 0M673.85 441.90a0.75 0.75 0 1 0 1.50 0a0.75 0.75 0 1 0 -1.50 0M674.85 444.40a0.75 0.75 0 1 0 1.50 0a0.75 0.75 0 1 0 -1.50 0M675.85 446.90a0.75 0.75 0 1 0 1.50 0a0.75 0.75 0 1 0 -1.50 0M652.35 380.90a0.75 0.75 0 1 0 1.50 0a0.75 0.75 0 1 0 -1.50 0M653.35 383.40a0.75 0.75 0 1 0 1.50 0a0.75 0.75 0 1 0 -1.50 0M654.35 385.90a0.75 0.75 0 1 0 1.50 0a0.75 0.75 0 1 0 -1.50 0M655.35 388.40a0.75 0.75 0 1 0 1.50 0a0.75 0.75 0 1 0 -1.50 0M656.35 390.90a0.75 0.75 0 1 0 1.50 0a0.75 0.75 0 1 0 -1.50 0M657.35 393.40a0.75 0.75 0 1 0 1.50 0a0.75 0.75 0 1 0 -1.50 0M658.35 395.90a0.75 0.75 0 1 0 1.50 0a0.75 0.75 0 1 0 -1.50 0M659.35 398.40a0.75 0.75 0 1 0 1.50 0a0.75 0.75 0 1 0 -1.50 0M660.35 400.90a0.75 0.75 0 1 0 1.50 0a0.75 0.75 0 1 0 -1.50 0M661.35 403.40a0.75 0.75 0 1 0 1.50 0a0.75 0.75 0 1 0 -1.50 0M662.35 405.90a0.75 0.75 0 1 0 1.50 0a0.75 0.75 0 1 0 -1.50 0M663.35 408.40a0.75 0.75 0 1 0 1.50 0a0.75 0.75 0 1 0 -1.50 0M664.35 410.90a0.75 0.75 0 1 0 1.50 0a0.75 0.75 0 1 0 -1.50 0M665.35 413.40a0.75 0.75 0 1 0 1.50 0a0.75 0.75 0 1 0 -1.50 0M666.35 415.90a0.75 0.75 0 1 0 1.50 0a0.75 0.75 0 1 0 -1.50 0M667.35 418.40a0.75 0.75 0 1 0 1.50 0a0.75 0.75 0 1 0 -1.50 0M668.35 420.90a0.75 0.75 0 1 0 1.50 0a0.75 0.75 0 1 0 -1.50 0M669.35 423.40a0.75 0.75 0 1 0 1.50 0a0.75 0.75 0 1 0 -1.50 0M670.35 425.90a0.75 0.75 0 1 0 1.50 0a0.75 0.75 0 1 0 -1.50 0M671.35 428.40a0.75 0.75 0 1 0 1.50 0a0.75 0.75 0 1 0 -1.50 0M672.35 430.90a0.75 0.75 0 1 0 1.50 0a0.75 0.75 0 1 0 -1.50 0M673.35 433.40a0.75 0.75 0 1 0 1.50 0a0.75 0.75 0 1 0 -1.50 0M674.35 435.90a0.75 0.75 0 1 0 1.50 0a0.75 0.75 0 1 0 -1.50 0M675.35 438.40a0.75 0.75 0 1 0 1.50 0a0.75 0.75 0 1 0 -1.50 0M676.35 440.90a0.75 0.75 0 1 0 1.50 0a0.75 0.75 0 1 0 -1.50 0M677.35 443.40a0.75 0.75 0 1 0 1.50 0a0.75 0.75 0 1 0 -1.50 0M678.35 445.90a0.75 0.75 0 1 0 1.50 0a0.75 0.75 0 1 0 -1.50 0M655.85 382.40a0.75 0.75 0 1 0 1.50 0a0.75 0.75 0 1 0 -1.50 0M656.85 384.90a0.75 0.75 0 1 0 1.50 0a0.75 0.75 0 1 0 -1.50 0M657.85 387.40a0.75 0.75 0 1 0 1.50 0a0.75 0.75 0 1 0 -1.50 0M658.85 389.90a0.75 0.75 0 1 0 1.50 0a0.75 0.75 0 1 0 -1.50 0M659.85 392.40a0.75 0.75 0 1 0 1.50 0a0.75 0.75 0 1 0 -1.50 0M660.85 394.90a0.75 0.75 0 1 0 1.50 0a0.75 0.75 0 1 0 -1.50 0M661.85 397.40a0.75 0.75 0 1 0 1.50 0a0.75 0.75 0 1 0 -1.50 0M662.85 399.90a0.75 0.75 0 1 0 1.50 0a0.75 0.75 0 1 0 -1.50 0M663.85 402.40a0.75 0.75 0 1 0 1.50 0a0.75 0.75 0 1 0 -1.50 0M664.85 404.90a0.75 0.75 0 1 0 1.50 0a0.75 0.75 0 1 0 -1.50 0M665.85 407.40a0.75 0.75 0 1 0 1.50 0a0.75 0.75 0 1 0 -1.50 0M666.85 409.90a0.75 0.75 0 1 0 1.50 0a0.75 0.75 0 1 0 -1.50 0M667.85 412.40a0.75 0.75 0 1 0 1.50 0a0.75 0.75 0 1 0 -1.50 0M668.85 414.90a0.75 0.75 0 1 0 1.50 0a0.75 0.75 0 1 0 -1.50 0M669.85 417.40a0.75 0.75 0 1 0 1.50 0a0.75 0.75 0 1 0 -1.50 0M670.85 419.90a0.75 0.75 0 1 0 1.50 0a0.75 0.75 0 1 0 -1.50 0M671.85 422.40a0.75 0.75 0 1 0 1.50 0a0.75 0.75 0 1 0 -1.50 0M672.85 424.90a0.75 0.75 0 1 0 1.50 0a0.75 0.75 0 1 0 -1.50 0M673.85 427.40a0.75 0.75 0 1 0 1.50 0a0.75 0.75 0 1 0 -1.50 0M674.85 429.90a0.75 0.75 0 1 0 1.50 0a0.75 0.75 0 1 0 -1.50 0M675.85 432.40a0.75 0.75 0 1 0 1.50 0a0.75 0.75 0 1 0 -1.50 0M676.85 434.90a0.75 0.75 0 1 0 1.50 0a0.75 0.75 0 1 0 -1.50 0M677.85 437.40a0.75 0.75 0 1 0 1.50 0a0.75 0.75 0 1 0 -1.50 0M678.85 439.90a0.75 0.75 0 1 0 1.50 0a0.75 0.75 0 1 0 -1.50 0M679.85 442.40a0.75 0.75 0 1 0 1.50 0a0.75 0.75 0 1 0 -1.50 0M680.85 444.90a0.75 0.75 0 1 0 1.50 0a0.75 0.75 0 1 0 -1.50 0M658.35 381.40a0.75 0.75 0 1 0 1.50 0a0.75 0.75 0 1 0 -1.50 0M659.35 383.90a0.75 0.75 0 1 0 1.50 0a0.75 0.75 0 1 0 -1.50 0M660.35 386.40a0.75 0.75 0 1 0 1.50 0a0.75 0.75 0 1 0 -1.50 0M661.35 388.90a0.75 0.75 0 1 0 1.50 0a0.75 0.75 0 1 0 -1.50 0M662.35 391.40a0.75 0.75 0 1 0 1.50 0a0.75 0.75 0 1 0 -1.50 0M663.35 393.90a0.75 0.75 0 1 0 1.50 0a0.75 0.75 0 1 0 -1.50 0M664.35 396.40a0.75 0.75 0 1 0 1.50 0a0.75 0.75 0 1 0 -1.50 0M665.35 398.90a0.75 0.75 0 1 0 1.50 0a0.75 0.75 0 1 0 -1.50 0M666.35 401.40a0.75 0.75 0 1 0 1.50 0a0.75 0.75 0 1 0 -1.50 0M667.35 403.90a0.75 0.75 0 1 0 1.50 0a0.75 0.75 0 1 0 -1.50 0M668.35 406.40a0.75 0.75 0 1 0 1.50 0a0.75 0.75 0 1 0 -1.50 0M669.35 408.90a0.75 0.75 0 1 0 1.50 0a0.75 0.75 0 1 0 -1.50 0M670.35 411.40a0.75 0.75 0 1 0 1.50 0a0.75 0.75 0 1 0 -1.50 0M671.35 413.90a0.75 0.75 0 1 0 1.50 0a0.75 0.75 0 1 0 -1.50 0M672.35 416.40a0.75 0.75 0 1 0 1.50 0a0.75 0.75 0 1 0 -1.50 0M673.35 418.90a0.75 0.75 0 1 0 1.50 0a0.75 0.75 0 1 0 -1.50 0M674.35 421.40a0.75 0.75 0 1 0 1.50 0a0.75 0.75 0 1 0 -1.50 0M675.35 423.90a0.75 0.75 0 1 0 1.50 0a0.75 0.75 0 1 0 -1.50 0M676.35 426.40a0.75 0.75 0 1 0 1.50 0a0.75 0.75 0 1 0 -1.50 0M677.35 428.90a0.75 0.75 0 1 0 1.50 0a0.75 0.75 0 1 0 -1.50 0M678.35 431.40a0.75 0.75 0 1 0 1.50 0a0.75 0.75 0 1 0 -1.50 0M679.35 433.90a0.75 0.75 0 1 0 1.50 0a0.75 0.75 0 1 0 -1.50 0M680.35 436.40a0.75 0.75 0 1 0 1.50 0a0.75 0.75 0 1 0 -1.50 0M681.35 438.90a0.75 0.75 0 1 0 1.50 0a0.75 0.75 0 1 0 -1.50 0M682.35 441.40a0.75 0.75 0 1 0 1.50 0a0.75 0.75 0 1 0 -1.50 0M683.35 443.90a0.75 0.75 0 1 0 1.50 0a0.75 0.75 0 1 0 -1.50 0M684.35 446.40a0.75 0.75 0 1 0 1.50 0a0.75 0.75 0 1 0 -1.50 0M661.85 382.90a0.75 0.75 0 1 0 1.50 0a0.75 0.75 0 1 0 -1.50 0M662.85 385.40a0.75 0.75 0 1 0 1.50 0a0.75 0.75 0 1 0 -1.50 0M663.85 387.90a0.75 0.75 0 1 0 1.50 0a0.75 0.75 0 1 0 -1.50 0M664.85 390.40a0.75 0.75 0 1 0 1.50 0a0.75 0.75 0 1 0 -1.50 0M665.85 392.90a0.75 0.75 0 1 0 1.50 0a0.75 0.75 0 1 0 -1.50 0M666.85 395.40a0.75 0.75 0 1 0 1.50 0a0.75 0.75 0 1 0 -1.50 0M667.85 397.90a0.75 0.75 0 1 0 1.50 0a0.75 0.75 0 1 0 -1.50 0M668.85 400.40a0.75 0.75 0 1 0 1.50 0a0.75 0.75 0 1 0 -1.50 0M669.85 402.90a0.75 0.75 0 1 0 1.50 0a0.75 0.75 0 1 0 -1.50 0M670.85 405.40a0.75 0.75 0 1 0 1.50 0a0.75 0.75 0 1 0 -1.50 0M671.85 407.90a0.75 0.75 0 1 0 1.50 0a0.75 0.75 0 1 0 -1.50 0M672.85 410.40a0.75 0.75 0 1 0 1.50 0a0.75 0.75 0 1 0 -1.50 0M673.85 412.90a0.75 0.75 0 1 0 1.50 0a0.75 0.75 0 1 0 -1.50 0M674.85 415.40a0.75 0.75 0 1 0 1.50 0a0.75 0.75 0 1 0 -1.50 0M675.85 417.90a0.75 0.75 0 1 0 1.50 0a0.75 0.75 0 1 0 -1.50 0M676.85 420.40a0.75 0.75 0 1 0 1.50 0a0.75 0.75 0 1 0 -1.50 0M677.85 422.90a0.75 0.75 0 1 0 1.50 0a0.75 0.75 0 1 0 -1.50 0M678.85 425.40a0.75 0.75 0 1 0 1.50 0a0.75 0.75 0 1 0 -1.50 0M679.85 427.90a0.75 0.75 0 1 0 1.50 0a0.75 0.75 0 1 0 -1.50 0M680.85 430.40a0.75 0.75 0 1 0 1.50 0a0.75 0.75 0 1 0 -1.50 0M681.85 432.90a0.75 0.75 0 1 0 1.50 0a0.75 0.75 0 1 0 -1.50 0M682.85 435.40a0.75 0.75 0 1 0 1.50 0a0.75 0.75 0 1 0 -1.50 0M683.85 437.90a0.75 0.75 0 1 0 1.50 0a0.75 0.75 0 1 0 -1.50 0M684.85 440.40a0.75 0.75 0 1 0 1.50 0a0.75 0.75 0 1 0 -1.50 0M685.85 442.90a0.75 0.75 0 1 0 1.50 0a0.75 0.75 0 1 0 -1.50 0M686.85 445.40a0.75 0.75 0 1 0 1.50 0a0.75 0.75 0 1 0 -1.50 0M664.35 381.90a0.75 0.75 0 1 0 1.50 0a0.75 0.75 0 1 0 -1.50 0M665.35 384.40a0.75 0.75 0 1 0 1.50 0a0.75 0.75 0 1 0 -1.50 0M666.35 386.90a0.75 0.75 0 1 0 1.50 0a0.75 0.75 0 1 0 -1.50 0M667.35 389.40a0.75 0.75 0 1 0 1.50 0a0.75 0.75 0 1 0 -1.50 0M668.35 391.90a0.75 0.75 0 1 0 1.50 0a0.75 0.75 0 1 0 -1.50 0M669.35 394.40a0.75 0.75 0 1 0 1.50 0a0.75 0.75 0 1 0 -1.50 0M670.35 396.90a0.75 0.75 0 1 0 1.50 0a0.75 0.75 0 1 0 -1.50 0M671.35 399.40a0.75 0.75 0 1 0 1.50 0a0.75 0.75 0 1 0 -1.50 0M672.35 401.90a0.75 0.75 0 1 0 1.50 0a0.75 0.75 0 1 0 -1.50 0M673.35 404.40a0.75 0.75 0 1 0 1.50 0a0.75 0.75 0 1 0 -1.50 0M674.35 406.90a0.75 0.75 0 1 0 1.50 0a0.75 0.75 0 1 0 -1.50 0M675.35 409.40a0.75 0.75 0 1 0 1.50 0a0.75 0.75 0 1 0 -1.50 0M676.35 411.90a0.75 0.75 0 1 0 1.50 0a0.75 0.75 0 1 0 -1.50 0M677.35 414.40a0.75 0.75 0 1 0 1.50 0a0.75 0.75 0 1 0 -1.50 0M678.35 416.90a0.75 0.75 0 1 0 1.50 0a0.75 0.75 0 1 0 -1.50 0M679.35 419.40a0.75 0.75 0 1 0 1.50 0a0.75 0.75 0 1 0 -1.50 0M680.35 421.90a0.75 0.75 0 1 0 1.50 0a0.75 0.75 0 1 0 -1.50 0M681.35 424.40a0.75 0.75 0 1 0 1.50 0a0.75 0.75 0 1 0 -1.50 0M682.35 426.90a0.75 0.75 0 1 0 1.50 0a0.75 0.75 0 1 0 -1.50 0M683.35 429.40a0.75 0.75 0 1 0 1.50 0a0.75 0.75 0 1 0 -1.50 0M684.35 431.90a0.75 0.75 0 1 0 1.50 0a0.75 0.75 0 1 0 -1.50 0M685.35 434.40a0.75 0.75 0 1 0 1.50 0a0.75 0.75 0 1 0 -1.50 0M686.35 436.90a0.75 0.75 0 1 0 1.50 0a0.75 0.75 0 1 0 -1.50 0M687.35 439.40a0.75 0.75 0 1 0 1.50 0a0.75 0.75 0 1 0 -1.50 0M688.35 441.90a0.75 0.75 0 1 0 1.50 0a0.75 0.75 0 1 0 -1.50 0M689.35 444.40a0.75 0.75 0 1 0 1.50 0a0.75 0.75 0 1 0 -1.50 0M690.35 446.90a0.75 0.75 0 1 0 1.50 0a0.75 0.75 0 1 0 -1.50 0M666.85 380.90a0.75 0.75 0 1 0 1.50 0a0.75 0.75 0 1 0 -1.50 0M667.85 383.40a0.75 0.75 0 1 0 1.50 0a0.75 0.75 0 1 0 -1.50 0M668.85 385.90a0.75 0.75 0 1 0 1.50 0a0.75 0.75 0 1 0 -1.50 0M669.85 388.40a0.75 0.75 0 1 0 1.50 0a0.75 0.75 0 1 0 -1.50 0M670.85 390.90a0.75 0.75 0 1 0 1.50 0a0.75 0.75 0 1 0 -1.50 0M671.85 393.40a0.75 0.75 0 1 0 1.50 0a0.75 0.75 0 1 0 -1.50 0M672.85 395.90a0.75 0.75 0 1 0 1.50 0a0.75 0.75 0 1 0 -1.50 0M673.85 398.40a0.75 0.75 0 1 0 1.50 0a0.75 0.75 0 1 0 -1.50 0M674.85 400.90a0.75 0.75 0 1 0 1.50 0a0.75 0.75 0 1 0 -1.50 0M675.85 403.40a0.75 0.75 0 1 0 1.50 0a0.75 0.75 0 1 0 -1.50 0M676.85 405.90a0.75 0.75 0 1 0 1.50 0a0.75 0.75 0 1 0 -1.50 0M677.85 408.40a0.75 0.75 0 1 0 1.50 0a0.75 0.75 0 1 0 -1.50 0M678.85 410.90a0.75 0.75 0 1 0 1.50 0a0.75 0.75 0 1 0 -1.50 0M679.85 413.40a0.75 0.75 0 1 0 1.50 0a0.75 0.75 0 1 0 -1.50 0M680.85 415.90a0.75 0.75 0 1 0 1.50 0a0.75 0.75 0 1 0 -1.50 0M681.85 418.40a0.75 0.75 0 1 0 1.50 0a0.75 0.75 0 1 0 -1.50 0M682.85 420.90a0.75 0.75 0 1 0 1.50 0a0.75 0.75 0 1 0 -1.50 0M683.85 423.40a0.75 0.75 0 1 0 1.50 0a0.75 0.75 0 1 0 -1.50 0M684.85 425.90a0.75 0.75 0 1 0 1.50 0a0.75 0.75 0 1 0 -1.50 0M685.85 428.40a0.75 0.75 0 1 0 1.50 0a0.75 0.75 0 1 0 -1.50 0M686.85 430.90a0.75 0.75 0 1 0 1.50 0a0.75 0.75 0 1 0 -1.50 0M687.85 433.40a0.75 0.75 0 1 0 1.50 0a0.75 0.75 0 1 0 -1.50 0M688.85 435.90a0.75 0.75 0 1 0 1.50 0a0.75 0.75 0 1 0 -1.50 0M689.85 438.40a0.75 0.75 0 1 0 1.50 0a0.75 0.75 0 1 0 -1.50 0M690.85 440.90a0.75 0.75 0 1 0 1.50 0a0.75 0.75 0 1 0 -1.50 0M691.85 443.40a0.75 0.75 0 1 0 1.50 0a0.75 0.75 0 1 0 -1.50 0M692.85 445.90a0.75 0.75 0 1 0 1.50 0a0.75 0.75 0 1 0 -1.50 0M670.35 382.40a0.75 0.75 0 1 0 1.50 0a0.75 0.75 0 1 0 -1.50 0M671.35 384.90a0.75 0.75 0 1 0 1.50 0a0.75 0.75 0 1 0 -1.50 0M672.35 387.40a0.75 0.75 0 1 0 1.50 0a0.75 0.75 0 1 0 -1.50 0M673.35 389.90a0.75 0.75 0 1 0 1.50 0a0.75 0.75 0 1 0 -1.50 0M674.35 392.40a0.75 0.75 0 1 0 1.50 0a0.75 0.75 0 1 0 -1.50 0M675.35 394.90a0.75 0.75 0 1 0 1.50 0a0.75 0.75 0 1 0 -1.50 0M676.35 397.40a0.75 0.75 0 1 0 1.50 0a0.75 0.75 0 1 0 -1.50 0M677.35 399.90a0.75 0.75 0 1 0 1.50 0a0.75 0.75 0 1 0 -1.50 0M678.35 402.40a0.75 0.75 0 1 0 1.50 0a0.75 0.75 0 1 0 -1.50 0M679.35 404.90a0.75 0.75 0 1 0 1.50 0a0.75 0.75 0 1 0 -1.50 0M680.35 407.40a0.75 0.75 0 1 0 1.50 0a0.75 0.75 0 1 0 -1.50 0M681.35 409.90a0.75 0.75 0 1 0 1.50 0a0.75 0.75 0 1 0 -1.50 0M682.35 412.40a0.75 0.75 0 1 0 1.50 0a0.75 0.75 0 1 0 -1.50 0M683.35 414.90a0.75 0.75 0 1 0 1.50 0a0.75 0.75 0 1 0 -1.50 0M684.35 417.40a0.75 0.75 0 1 0 1.50 0a0.75 0.75 0 1 0 -1.50 0M685.35 419.90a0.75 0.75 0 1 0 1.50 0a0.75 0.75 0 1 0 -1.50 0M686.35 422.40a0.75 0.75 0 1 0 1.50 0a0.75 0.75 0 1 0 -1.50 0M687.35 424.90a0.75 0.75 0 1 0 1.50 0a0.75 0.75 0 1 0 -1.50 0M688.35 427.40a0.75 0.75 0 1 0 1.50 0a0.75 0.75 0 1 0 -1.50 0M689.35 429.90a0.75 0.75 0 1 0 1.50 0a0.75 0.75 0 1 0 -1.50 0M690.35 432.40a0.75 0.75 0 1 0 1.50 0a0.75 0.75 0 1 0 -1.50 0M691.35 434.90a0.75 0.75 0 1 0 1.50 0a0.75 0.75 0 1 0 -1.50 0M692.35 437.40a0.75 0.75 0 1 0 1.50 0a0.75 0.75 0 1 0 -1.50 0M693.35 439.90a0.75 0.75 0 1 0 1.50 0a0.75 0.75 0 1 0 -1.50 0M694.35 442.40a0.75 0.75 0 1 0 1.50 0a0.75 0.75 0 1 0 -1.50 0M695.35 444.90a0.75 0.75 0 1 0 1.50 0a0.75 0.75 0 1 0 -1.50 0M672.85 381.40a0.75 0.75 0 1 0 1.50 0a0.75 0.75 0 1 0 -1.50 0M673.85 383.90a0.75 0.75 0 1 0 1.50 0a0.75 0.75 0 1 0 -1.50 0M674.85 386.40a0.75 0.75 0 1 0 1.50 0a0.75 0.75 0 1 0 -1.50 0M675.85 388.90a0.75 0.75 0 1 0 1.50 0a0.75 0.75 0 1 0 -1.50 0M676.85 391.40a0.75 0.75 0 1 0 1.50 0a0.75 0.75 0 1 0 -1.50 0M677.85 393.90a0.75 0.75 0 1 0 1.50 0a0.75 0.75 0 1 0 -1.50 0M678.85 396.40a0.75 0.75 0 1 0 1.50 0a0.75 0.75 0 1 0 -1.50 0M679.85 398.90a0.75 0.75 0 1 0 1.50 0a0.75 0.75 0 1 0 -1.50 0M680.85 401.40a0.75 0.75 0 1 0 1.50 0a0.75 0.75 0 1 0 -1.50 0M681.85 403.90a0.75 0.75 0 1 0 1.50 0a0.75 0.75 0 1 0 -1.50 0M682.85 406.40a0.75 0.75 0 1 0 1.50 0a0.75 0.75 0 1 0 -1.50 0M683.85 408.90a0.75 0.75 0 1 0 1.50 0a0.75 0.75 0 1 0 -1.50 0M684.85 411.40a0.75 0.75 0 1 0 1.50 0a0.75 0.75 0 1 0 -1.50 0M685.85 413.90a0.75 0.75 0 1 0 1.50 0a0.75 0.75 0 1 0 -1.50 0M686.85 416.40a0.75 0.75 0 1 0 1.50 0a0.75 0.75 0 1 0 -1.50 0M687.85 418.90a0.75 0.75 0 1 0 1.50 0a0.75 0.75 0 1 0 -1.50 0M688.85 421.40a0.75 0.75 0 1 0 1.50 0a0.75 0.75 0 1 0 -1.50 0M689.85 423.90a0.75 0.75 0 1 0 1.50 0a0.75 0.75 0 1 0 -1.50 0M690.85 426.40a0.75 0.75 0 1 0 1.50 0a0.75 0.75 0 1 0 -1.50 0M691.85 428.90a0.75 0.75 0 1 0 1.50 0a0.75 0.75 0 1 0 -1.50 0M692.85 431.40a0.75 0.75 0 1 0 1.50 0a0.75 0.75 0 1 0 -1.50 0M693.85 433.90a0.75 0.75 0 1 0 1.50 0a0.75 0.75 0 1 0 -1.50 0M694.85 436.40a0.75 0.75 0 1 0 1.50 0a0.75 0.75 0 1 0 -1.50 0M695.85 438.90a0.75 0.75 0 1 0 1.50 0a0.75 0.75 0 1 0 -1.50 0M696.85 441.40a0.75 0.75 0 1 0 1.50 0a0.75 0.75 0 1 0 -1.50 0M697.85 443.90a0.75 0.75 0 1 0 1.50 0a0.75 0.75 0 1 0 -1.50 0M698.85 446.40a0.75 0.75 0 1 0 1.50 0a0.75 0.75 0 1 0 -1.50 0M676.35 382.90a0.75 0.75 0 1 0 1.50 0a0.75 0.75 0 1 0 -1.50 0M677.35 385.40a0.75 0.75 0 1 0 1.50 0a0.75 0.75 0 1 0 -1.50 0M678.35 387.90a0.75 0.75 0 1 0 1.50 0a0.75 0.75 0 1 0 -1.50 0M679.35 390.40a0.75 0.75 0 1 0 1.50 0a0.75 0.75 0 1 0 -1.50 0M680.35 392.90a0.75 0.75 0 1 0 1.50 0a0.75 0.75 0 1 0 -1.50 0M681.35 395.40a0.75 0.75 0 1 0 1.50 0a0.75 0.75 0 1 0 -1.50 0M682.35 397.90a0.75 0.75 0 1 0 1.50 0a0.75 0.75 0 1 0 -1.50 0M683.35 400.40a0.75 0.75 0 1 0 1.50 0a0.75 0.75 0 1 0 -1.50 0M684.35 402.90a0.75 0.75 0 1 0 1.50 0a0.75 0.75 0 1 0 -1.50 0M685.35 405.40a0.75 0.75 0 1 0 1.50 0a0.75 0.75 0 1 0 -1.50 0M686.35 407.90a0.75 0.75 0 1 0 1.50 0a0.75 0.75 0 1 0 -1.50 0M687.35 410.40a0.75 0.75 0 1 0 1.50 0a0.75 0.75 0 1 0 -1.50 0M688.35 412.90a0.75 0.75 0 1 0 1.50 0a0.75 0.75 0 1 0 -1.50 0M689.35 415.40a0.75 0.75 0 1 0 1.50 0a0.75 0.75 0 1 0 -1.50 0M690.35 417.90a0.75 0.75 0 1 0 1.50 0a0.75 0.75 0 1 0 -1.50 0M691.35 420.40a0.75 0.75 0 1 0 1.50 0a0.75 0.75 0 1 0 -1.50 0M692.35 422.90a0.75 0.75 0 1 0 1.50 0a0.75 0.75 0 1 0 -1.50 0M693.35 425.40a0.75 0.75 0 1 0 1.50 0a0.75 0.75 0 1 0 -1.50 0M694.35 427.90a0.75 0.75 0 1 0 1.50 0a0.75 0.75 0 1 0 -1.50 0M695.35 430.40a0.75 0.75 0 1 0 1.50 0a0.75 0.75 0 1 0 -1.50 0M696.35 432.90a0.75 0.75 0 1 0 1.50 0a0.75 0.75 0 1 0 -1.50 0M697.35 435.40a0.75 0.75 0 1 0 1.50 0a0.75 0.75 0 1 0 -1.50 0M698.35 437.90a0.75 0.75 0 1 0 1.50 0a0.75 0.75 0 1 0 -1.50 0M699.35 440.40a0.75 0.75 0 1 0 1.50 0a0.75 0.75 0 1 0 -1.50 0M700.35 442.90a0.75 0.75 0 1 0 1.50 0a0.75 0.75 0 1 0 -1.50 0M701.35 445.40a0.75 0.75 0 1 0 1.50 0a0.75 0.75 0 1 0 -1.50 0M678.85 381.90a0.75 0.75 0 1 0 1.50 0a0.75 0.75 0 1 0 -1.50 0M679.85 384.40a0.75 0.75 0 1 0 1.50 0a0.75 0.75 0 1 0 -1.50 0M680.85 386.90a0.75 0.75 0 1 0 1.50 0a0.75 0.75 0 1 0 -1.50 0M681.85 389.40a0.75 0.75 0 1 0 1.50 0a0.75 0.75 0 1 0 -1.50 0M682.85 391.90a0.75 0.75 0 1 0 1.50 0a0.75 0.75 0 1 0 -1.50 0M683.85 394.40a0.75 0.75 0 1 0 1.50 0a0.75 0.75 0 1 0 -1.50 0M684.85 396.90a0.75 0.75 0 1 0 1.50 0a0.75 0.75 0 1 0 -1.50 0M685.85 399.40a0.75 0.75 0 1 0 1.50 0a0.75 0.75 0 1 0 -1.50 0M686.85 401.90a0.75 0.75 0 1 0 1.50 0a0.75 0.75 0 1 0 -1.50 0M687.85 404.40a0.75 0.75 0 1 0 1.50 0a0.75 0.75 0 1 0 -1.50 0M688.85 406.90a0.75 0.75 0 1 0 1.50 0a0.75 0.75 0 1 0 -1.50 0M689.85 409.40a0.75 0.75 0 1 0 1.50 0a0.75 0.75 0 1 0 -1.50 0M690.85 411.90a0.75 0.75 0 1 0 1.50 0a0.75 0.75 0 1 0 -1.50 0M691.85 414.40a0.75 0.75 0 1 0 1.50 0a0.75 0.75 0 1 0 -1.50 0M692.85 416.90a0.75 0.75 0 1 0 1.50 0a0.75 0.75 0 1 0 -1.50 0M693.85 419.40a0.75 0.75 0 1 0 1.50 0a0.75 0.75 0 1 0 -1.50 0M694.85 421.90a0.75 0.75 0 1 0 1.50 0a0.75 0.75 0 1 0 -1.50 0M695.85 424.40a0.75 0.75 0 1 0 1.50 0a0.75 0.75 0 1 0 -1.50 0M696.85 426.90a0.75 0.75 0 1 0 1.50 0a0.75 0.75 0 1 0 -1.50 0M697.85 429.40a0.75 0.75 0 1 0 1.50 0a0.75 0.75 0 1 0 -1.50 0M698.85 431.90a0.75 0.75 0 1 0 1.50 0a0.75 0.75 0 1 0 -1.50 0M699.85 434.40a0.75 0.75 0 1 0 1.50 0a0.75 0.75 0 1 0 -1.50 0M700.85 436.90a0.75 0.75 0 1 0 1.50 0a0.75 0.75 0 1 0 -1.50 0M701.85 439.40a0.75 0.75 0 1 0 1.50 0a0.75 0.75 0 1 0 -1.50 0M702.85 441.90a0.75 0.75 0 1 0 1.50 0a0.75 0.75 0 1 0 -1.50 0M703.85 444.40a0.75 0.75 0 1 0 1.50 0a0.75 0.75 0 1 0 -1.50 0M704.85 446.90a0.75 0.75 0 1 0 1.50 0a0.75 0.75 0 1 0 -1.50 0M681.35 380.90a0.75 0.75 0 1 0 1.50 0a0.75 0.75 0 1 0 -1.50 0M682.35 383.40a0.75 0.75 0 1 0 1.50 0a0.75 0.75 0 1 0 -1.50 0M683.35 385.90a0.75 0.75 0 1 0 1.50 0a0.75 0.75 0 1 0 -1.50 0M684.35 388.40a0.75 0.75 0 1 0 1.50 0a0.75 0.75 0 1 0 -1.50 0M685.35 390.90a0.75 0.75 0 1 0 1.50 0a0.75 0.75 0 1 0 -1.50 0M686.35 393.40a0.75 0.75 0 1 0 1.50 0a0.75 0.75 0 1 0 -1.50 0M687.35 395.90a0.75 0.75 0 1 0 1.50 0a0.75 0.75 0 1 0 -1.50 0M688.35 398.40a0.75 0.75 0 1 0 1.50 0a0.75 0.75 0 1 0 -1.50 0M689.35 400.90a0.75 0.75 0 1 0 1.50 0a0.75 0.75 0 1 0 -1.50 0M690.35 403.40a0.75 0.75 0 1 0 1.50 0a0.75 0.75 0 1 0 -1.50 0M691.35 405.90a0.75 0.75 0 1 0 1.50 0a0.75 0.75 0 1 0 -1.50 0M692.35 408.40a0.75 0.75 0 1 0 1.50 0a0.75 0.75 0 1 0 -1.50 0M693.35 410.90a0.75 0.75 0 1 0 1.50 0a0.75 0.75 0 1 0 -1.50 0M694.35 413.40a0.75 0.75 0 1 0 1.50 0a0.75 0.75 0 1 0 -1.50 0M695.35 415.90a0.75 0.75 0 1 0 1.50 0a0.75 0.75 0 1 0 -1.50 0M696.35 418.40a0.75 0.75 0 1 0 1.50 0a0.75 0.75 0 1 0 -1.50 0M697.35 420.90a0.75 0.75 0 1 0 1.50 0a0.75 0.75 0 1 0 -1.50 0M698.35 423.40a0.75 0.75 0 1 0 1.50 0a0.75 0.75 0 1 0 -1.50 0M699.35 425.90a0.75 0.75 0 1 0 1.50 0a0.75 0.75 0 1 0 -1.50 0M700.35 428.40a0.75 0.75 0 1 0 1.50 0a0.75 0.75 0 1 0 -1.50 0M701.35 430.90a0.75 0.75 0 1 0 1.50 0a0.75 0.75 0 1 0 -1.50 0M702.35 433.40a0.75 0.75 0 1 0 1.50 0a0.75 0.75 0 1 0 -1.50 0M703.35 435.90a0.75 0.75 0 1 0 1.50 0a0.75 0.75 0 1 0 -1.50 0M704.35 438.40a0.75 0.75 0 1 0 1.50 0a0.75 0.75 0 1 0 -1.50 0M705.35 440.90a0.75 0.75 0 1 0 1.50 0a0.75 0.75 0 1 0 -1.50 0M706.35 443.40a0.75 0.75 0 1 0 1.50 0a0.75 0.75 0 1 0 -1.50 0M707.35 445.90a0.75 0.75 0 1 0 1.50 0a0.75 0.75 0 1 0 -1.50 0M684.85 382.40a0.75 0.75 0 1 0 1.50 0a0.75 0.75 0 1 0 -1.50 0M685.85 384.90a0.75 0.75 0 1 0 1.50 0a0.75 0.75 0 1 0 -1.50 0M686.85 387.40a0.75 0.75 0 1 0 1.50 0a0.75 0.75 0 1 0 -1.50 0M687.85 389.90a0.75 0.75 0 1 0 1.50 0a0.75 0.75 0 1 0 -1.50 0M688.85 392.40a0.75 0.75 0 1 0 1.50 0a0.75 0.75 0 1 0 -1.50 0M689.85 394.90a0.75 0.75 0 1 0 1.50 0a0.75 0.75 0 1 0 -1.50 0M690.85 397.40a0.75 0.75 0 1 0 1.50 0a0.75 0.75 0 1 0 -1.50 0M691.85 399.90a0.75 0.75 0 1 0 1.50 0a0.75 0.75 0 1 0 -1.50 0M692.85 402.40a0.75 0.75 0 1 0 1.50 0a0.75 0.75 0 1 0 -1.50 0M693.85 404.90a0.75 0.75 0 1 0 1.50 0a0.75 0.75 0 1 0 -1.50 0M694.85 407.40a0.75 0.75 0 1 0 1.50 0a0.75 0.75 0 1 0 -1.50 0M695.85 409.90a0.75 0.75 0 1 0 1.50 0a0.75 0.75 0 1 0 -1.50 0M696.85 412.40a0.75 0.75 0 1 0 1.50 0a0.75 0.75 0 1 0 -1.50 0M697.85 414.90a0.75 0.75 0 1 0 1.50 0a0.75 0.75 0 1 0 -1.50 0M698.85 417.40a0.75 0.75 0 1 0 1.50 0a0.75 0.75 0 1 0 -1.50 0M699.85 419.90a0.75 0.75 0 1 0 1.50 0a0.75 0.75 0 1 0 -1.50 0M700.85 422.40a0.75 0.75 0 1 0 1.50 0a0.75 0.75 0 1 0 -1.50 0M701.85 424.90a0.75 0.75 0 1 0 1.50 0a0.75 0.75 0 1 0 -1.50 0M702.85 427.40a0.75 0.75 0 1 0 1.50 0a0.75 0.75 0 1 0 -1.50 0M703.85 429.90a0.75 0.75 0 1 0 1.50 0a0.75 0.75 0 1 0 -1.50 0M704.85 432.40a0.75 0.75 0 1 0 1.50 0a0.75 0.75 0 1 0 -1.50 0M705.85 434.90a0.75 0.75 0 1 0 1.50 0a0.75 0.75 0 1 0 -1.50 0M706.85 437.40a0.75 0.75 0 1 0 1.50 0a0.75 0.75 0 1 0 -1.50 0M707.85 439.90a0.75 0.75 0 1 0 1.50 0a0.75 0.75 0 1 0 -1.50 0M708.85 442.40a0.75 0.75 0 1 0 1.50 0a0.75 0.75 0 1 0 -1.50 0M709.85 444.90a0.75 0.75 0 1 0 1.50 0a0.75 0.75 0 1 0 -1.50 0M687.35 381.40a0.75 0.75 0 1 0 1.50 0a0.75 0.75 0 1 0 -1.50 0M688.35 383.90a0.75 0.75 0 1 0 1.50 0a0.75 0.75 0 1 0 -1.50 0M689.35 386.40a0.75 0.75 0 1 0 1.50 0a0.75 0.75 0 1 0 -1.50 0M690.35 388.90a0.75 0.75 0 1 0 1.50 0a0.75 0.75 0 1 0 -1.50 0M691.35 391.40a0.75 0.75 0 1 0 1.50 0a0.75 0.75 0 1 0 -1.50 0M692.35 393.90a0.75 0.75 0 1 0 1.50 0a0.75 0.75 0 1 0 -1.50 0M693.35 396.40a0.75 0.75 0 1 0 1.50 0a0.75 0.75 0 1 0 -1.50 0M694.35 398.90a0.75 0.75 0 1 0 1.50 0a0.75 0.75 0 1 0 -1.50 0M695.35 401.40a0.75 0.75 0 1 0 1.50 0a0.75 0.75 0 1 0 -1.50 0M696.35 403.90a0.75 0.75 0 1 0 1.50 0a0.75 0.75 0 1 0 -1.50 0M697.35 406.40a0.75 0.75 0 1 0 1.50 0a0.75 0.75 0 1 0 -1.50 0M698.35 408.90a0.75 0.75 0 1 0 1.50 0a0.75 0.75 0 1 0 -1.50 0M699.35 411.40a0.75 0.75 0 1 0 1.50 0a0.75 0.75 0 1 0 -1.50 0M700.35 413.90a0.75 0.75 0 1 0 1.50 0a0.75 0.75 0 1 0 -1.50 0M701.35 416.40a0.75 0.75 0 1 0 1.50 0a0.75 0.75 0 1 0 -1.50 0M702.35 418.90a0.75 0.75 0 1 0 1.50 0a0.75 0.75 0 1 0 -1.50 0M703.35 421.40a0.75 0.75 0 1 0 1.50 0a0.75 0.75 0 1 0 -1.50 0M704.35 423.90a0.75 0.75 0 1 0 1.50 0a0.75 0.75 0 1 0 -1.50 0M705.35 426.40a0.75 0.75 0 1 0 1.50 0a0.75 0.75 0 1 0 -1.50 0M706.35 428.90a0.75 0.75 0 1 0 1.50 0a0.75 0.75 0 1 0 -1.50 0M707.35 431.40a0.75 0.75 0 1 0 1.50 0a0.75 0.75 0 1 0 -1.50 0M708.35 433.90a0.75 0.75 0 1 0 1.50 0a0.75 0.75 0 1 0 -1.50 0M709.35 436.40a0.75 0.75 0 1 0 1.50 0a0.75 0.75 0 1 0 -1.50 0M710.35 438.90a0.75 0.75 0 1 0 1.50 0a0.75 0.75 0 1 0 -1.50 0M711.35 441.40a0.75 0.75 0 1 0 1.50 0a0.75 0.75 0 1 0 -1.50 0M712.35 443.90a0.75 0.75 0 1 0 1.50 0a0.75 0.75 0 1 0 -1.50 0M713.35 446.40a0.75 0.75 0 1 0 1.50 0a0.75 0.75 0 1 0 -1.50 0M690.85 382.90a0.75 0.75 0 1 0 1.50 0a0.75 0.75 0 1 0 -1.50 0M691.85 385.40a0.75 0.75 0 1 0 1.50 0a0.75 0.75 0 1 0 -1.50 0M692.85 387.90a0.75 0.75 0 1 0 1.50 0a0.75 0.75 0 1 0 -1.50 0M693.85 390.40a0.75 0.75 0 1 0 1.50 0a0.75 0.75 0 1 0 -1.50 0M694.85 392.90a0.75 0.75 0 1 0 1.50 0a0.75 0.75 0 1 0 -1.50 0M695.85 395.40a0.75 0.75 0 1 0 1.50 0a0.75 0.75 0 1 0 -1.50 0M696.85 397.90a0.75 0.75 0 1 0 1.50 0a0.75 0.75 0 1 0 -1.50 0M697.85 400.40a0.75 0.75 0 1 0 1.50 0a0.75 0.75 0 1 0 -1.50 0M698.85 402.90a0.75 0.75 0 1 0 1.50 0a0.75 0.75 0 1 0 -1.50 0M699.85 405.40a0.75 0.75 0 1 0 1.50 0a0.75 0.75 0 1 0 -1.50 0M700.85 407.90a0.75 0.75 0 1 0 1.50 0a0.75 0.75 0 1 0 -1.50 0M701.85 410.40a0.75 0.75 0 1 0 1.50 0a0.75 0.75 0 1 0 -1.50 0M702.85 412.90a0.75 0.75 0 1 0 1.50 0a0.75 0.75 0 1 0 -1.50 0M703.85 415.40a0.75 0.75 0 1 0 1.50 0a0.75 0.75 0 1 0 -1.50 0M704.85 417.90a0.75 0.75 0 1 0 1.50 0a0.75 0.75 0 1 0 -1.50 0M705.85 420.40a0.75 0.75 0 1 0 1.50 0a0.75 0.75 0 1 0 -1.50 0M706.85 422.90a0.75 0.75 0 1 0 1.50 0a0.75 0.75 0 1 0 -1.50 0M707.85 425.40a0.75 0.75 0 1 0 1.50 0a0.75 0.75 0 1 0 -1.50 0M708.85 427.90a0.75 0.75 0 1 0 1.50 0a0.75 0.75 0 1 0 -1.50 0M709.85 430.40a0.75 0.75 0 1 0 1.50 0a0.75 0.75 0 1 0 -1.50 0M710.85 432.90a0.75 0.75 0 1 0 1.50 0a0.75 0.75 0 1 0 -1.50 0M711.85 435.40a0.75 0.75 0 1 0 1.50 0a0.75 0.75 0 1 0 -1.50 0M712.85 437.90a0.75 0.75 0 1 0 1.50 0a0.75 0.75 0 1 0 -1.50 0M713.85 440.40a0.75 0.75 0 1 0 1.50 0a0.75 0.75 0 1 0 -1.50 0M714.85 442.90a0.75 0.75 0 1 0 1.50 0a0.75 0.75 0 1 0 -1.50 0M715.85 445.40a0.75 0.75 0 1 0 1.50 0a0.75 0.75 0 1 0 -1.50 0M693.35 381.90a0.75 0.75 0 1 0 1.50 0a0.75 0.75 0 1 0 -1.50 0M694.35 384.40a0.75 0.75 0 1 0 1.50 0a0.75 0.75 0 1 0 -1.50 0M695.35 386.90a0.75 0.75 0 1 0 1.50 0a0.75 0.75 0 1 0 -1.50 0M696.35 389.40a0.75 0.75 0 1 0 1.50 0a0.75 0.75 0 1 0 -1.50 0M697.35 391.90a0.75 0.75 0 1 0 1.50 0a0.75 0.75 0 1 0 -1.50 0M698.35 394.40a0.75 0.75 0 1 0 1.50 0a0.75 0.75 0 1 0 -1.50 0M699.35 396.90a0.75 0.75 0 1 0 1.50 0a0.75 0.75 0 1 0 -1.50 0M700.35 399.40a0.75 0.75 0 1 0 1.50 0a0.75 0.75 0 1 0 -1.50 0M701.35 401.90a0.75 0.75 0 1 0 1.50 0a0.75 0.75 0 1 0 -1.50 0M702.35 404.40a0.75 0.75 0 1 0 1.50 0a0.75 0.75 0 1 0 -1.50 0M703.35 406.90a0.75 0.75 0 1 0 1.50 0a0.75 0.75 0 1 0 -1.50 0M704.35 409.40a0.75 0.75 0 1 0 1.50 0a0.75 0.75 0 1 0 -1.50 0M705.35 411.90a0.75 0.75 0 1 0 1.50 0a0.75 0.75 0 1 0 -1.50 0M706.35 414.40a0.75 0.75 0 1 0 1.50 0a0.75 0.75 0 1 0 -1.50 0M707.35 416.90a0.75 0.75 0 1 0 1.50 0a0.75 0.75 0 1 0 -1.50 0M708.35 419.40a0.75 0.75 0 1 0 1.50 0a0.75 0.75 0 1 0 -1.50 0M709.35 421.90a0.75 0.75 0 1 0 1.50 0a0.75 0.75 0 1 0 -1.50 0M710.35 424.40a0.75 0.75 0 1 0 1.50 0a0.75 0.75 0 1 0 -1.50 0M711.35 426.90a0.75 0.75 0 1 0 1.50 0a0.75 0.75 0 1 0 -1.50 0M712.35 429.40a0.75 0.75 0 1 0 1.50 0a0.75 0.75 0 1 0 -1.50 0M713.35 431.90a0.75 0.75 0 1 0 1.50 0a0.75 0.75 0 1 0 -1.50 0M714.35 434.40a0.75 0.75 0 1 0 1.50 0a0.75 0.75 0 1 0 -1.50 0M715.35 436.90a0.75 0.75 0 1 0 1.50 0a0.75 0.75 0 1 0 -1.50 0M716.35 439.40a0.75 0.75 0 1 0 1.50 0a0.75 0.75 0 1 0 -1.50 0M717.35 441.90a0.75 0.75 0 1 0 1.50 0a0.75 0.75 0 1 0 -1.50 0M718.35 444.40a0.75 0.75 0 1 0 1.50 0a0.75 0.75 0 1 0 -1.50 0M719.35 446.90a0.75 0.75 0 1 0 1.50 0a0.75 0.75 0 1 0 -1.50 0M695.85 380.90a0.75 0.75 0 1 0 1.50 0a0.75 0.75 0 1 0 -1.50 0M696.85 383.40a0.75 0.75 0 1 0 1.50 0a0.75 0.75 0 1 0 -1.50 0M697.85 385.90a0.75 0.75 0 1 0 1.50 0a0.75 0.75 0 1 0 -1.50 0M698.85 388.40a0.75 0.75 0 1 0 1.50 0a0.75 0.75 0 1 0 -1.50 0M699.85 390.90a0.75 0.75 0 1 0 1.50 0a0.75 0.75 0 1 0 -1.50 0M700.85 393.40a0.75 0.75 0 1 0 1.50 0a0.75 0.75 0 1 0 -1.50 0M701.85 395.90a0.75 0.75 0 1 0 1.50 0a0.75 0.75 0 1 0 -1.50 0M702.85 398.40a0.75 0.75 0 1 0 1.50 0a0.75 0.75 0 1 0 -1.50 0M703.85 400.90a0.75 0.75 0 1 0 1.50 0a0.75 0.75 0 1 0 -1.50 0M704.85 403.40a0.75 0.75 0 1 0 1.50 0a0.75 0.75 0 1 0 -1.50 0M705.85 405.90a0.75 0.75 0 1 0 1.50 0a0.75 0.75 0 1 0 -1.50 0M706.85 408.40a0.75 0.75 0 1 0 1.50 0a0.75 0.75 0 1 0 -1.50 0M707.85 410.90a0.75 0.75 0 1 0 1.50 0a0.75 0.75 0 1 0 -1.50 0M708.85 413.40a0.75 0.75 0 1 0 1.50 0a0.75 0.75 0 1 0 -1.50 0M709.85 415.90a0.75 0.75 0 1 0 1.50 0a0.75 0.75 0 1 0 -1.50 0M710.85 418.40a0.75 0.75 0 1 0 1.50 0a0.75 0.75 0 1 0 -1.50 0M711.85 420.90a0.75 0.75 0 1 0 1.50 0a0.75 0.75 0 1 0 -1.50 0M712.85 423.40a0.75 0.75 0 1 0 1.50 0a0.75 0.75 0 1 0 -1.50 0M713.85 425.90a0.75 0.75 0 1 0 1.50 0a0.75 0.75 0 1 0 -1.50 0M714.85 428.40a0.75 0.75 0 1 0 1.50 0a0.75 0.75 0 1 0 -1.50 0M715.85 430.90a0.75 0.75 0 1 0 1.50 0a0.75 0.75 0 1 0 -1.50 0M716.85 433.40a0.75 0.75 0 1 0 1.50 0a0.75 0.75 0 1 0 -1.50 0M717.85 435.90a0.75 0.75 0 1 0 1.50 0a0.75 0.75 0 1 0 -1.50 0M718.85 438.40a0.75 0.75 0 1 0 1.50 0a0.75 0.75 0 1 0 -1.50 0M719.85 440.90a0.75 0.75 0 1 0 1.50 0a0.75 0.75 0 1 0 -1.50 0M720.85 443.40a0.75 0.75 0 1 0 1.50 0a0.75 0.75 0 1 0 -1.50 0M721.85 445.90a0.75 0.75 0 1 0 1.50 0a0.75 0.75 0 1 0 -1.50 0M699.35 382.40a0.75 0.75 0 1 0 1.50 0a0.75 0.75 0 1 0 -1.50 0M700.35 384.90a0.75 0.75 0 1 0 1.50 0a0.75 0.75 0 1 0 -1.50 0M701.35 387.40a0.75 0.75 0 1 0 1.50 0a0.75 0.75 0 1 0 -1.50 0M702.35 389.90a0.75 0.75 0 1 0 1.50 0a0.75 0.75 0 1 0 -1.50 0M703.35 392.40a0.75 0.75 0 1 0 1.50 0a0.75 0.75 0 1 0 -1.50 0M704.35 394.90a0.75 0.75 0 1 0 1.50 0a0.75 0.75 0 1 0 -1.50 0M705.35 397.40a0.75 0.75 0 1 0 1.50 0a0.75 0.75 0 1 0 -1.50 0M706.35 399.90a0.75 0.75 0 1 0 1.50 0a0.75 0.75 0 1 0 -1.50 0M707.35 402.40a0.75 0.75 0 1 0 1.50 0a0.75 0.75 0 1 0 -1.50 0M708.35 404.90a0.75 0.75 0 1 0 1.50 0a0.75 0.75 0 1 0 -1.50 0M709.35 407.40a0.75 0.75 0 1 0 1.50 0a0.75 0.75 0 1 0 -1.50 0M710.35 409.90a0.75 0.75 0 1 0 1.50 0a0.75 0.75 0 1 0 -1.50 0M711.35 412.40a0.75 0.75 0 1 0 1.50 0a0.75 0.75 0 1 0 -1.50 0M712.35 414.90a0.75 0.75 0 1 0 1.50 0a0.75 0.75 0 1 0 -1.50 0M713.35 417.40a0.75 0.75 0 1 0 1.50 0a0.75 0.75 0 1 0 -1.50 0M714.35 419.90a0.75 0.75 0 1 0 1.50 0a0.75 0.75 0 1 0 -1.50 0M715.35 422.40a0.75 0.75 0 1 0 1.50 0a0.75 0.75 0 1 0 -1.50 0M716.35 424.90a0.75 0.75 0 1 0 1.50 0a0.75 0.75 0 1 0 -1.50 0M717.35 427.40a0.75 0.75 0 1 0 1.50 0a0.75 0.75 0 1 0 -1.50 0M718.35 429.90a0.75 0.75 0 1 0 1.50 0a0.75 0.75 0 1 0 -1.50 0M719.35 432.40a0.75 0.75 0 1 0 1.50 0a0.75 0.75 0 1 0 -1.50 0M720.35 434.90a0.75 0.75 0 1 0 1.50 0a0.75 0.75 0 1 0 -1.50 0M721.35 437.40a0.75 0.75 0 1 0 1.50 0a0.75 0.75 0 1 0 -1.50 0M722.35 439.90a0.75 0.75 0 1 0 1.50 0a0.75 0.75 0 1 0 -1.50 0M723.35 442.40a0.75 0.75 0 1 0 1.50 0a0.75 0.75 0 1 0 -1.50 0M724.35 444.90a0.75 0.75 0 1 0 1.50 0a0.75 0.75 0 1 0 -1.50 0M701.85 381.40a0.75 0.75 0 1 0 1.50 0a0.75 0.75 0 1 0 -1.50 0M702.85 383.90a0.75 0.75 0 1 0 1.50 0a0.75 0.75 0 1 0 -1.50 0M703.85 386.40a0.75 0.75 0 1 0 1.50 0a0.75 0.75 0 1 0 -1.50 0M704.85 388.90a0.75 0.75 0 1 0 1.50 0a0.75 0.75 0 1 0 -1.50 0M705.85 391.40a0.75 0.75 0 1 0 1.50 0a0.75 0.75 0 1 0 -1.50 0M706.85 393.90a0.75 0.75 0 1 0 1.50 0a0.75 0.75 0 1 0 -1.50 0M707.85 396.40a0.75 0.75 0 1 0 1.50 0a0.75 0.75 0 1 0 -1.50 0M708.85 398.90a0.75 0.75 0 1 0 1.50 0a0.75 0.75 0 1 0 -1.50 0M709.85 401.40a0.75 0.75 0 1 0 1.50 0a0.75 0.75 0 1 0 -1.50 0M710.85 403.90a0.75 0.75 0 1 0 1.50 0a0.75 0.75 0 1 0 -1.50 0M711.85 406.40a0.75 0.75 0 1 0 1.50 0a0.75 0.75 0 1 0 -1.50 0M712.85 408.90a0.75 0.75 0 1 0 1.50 0a0.75 0.75 0 1 0 -1.50 0M713.85 411.40a0.75 0.75 0 1 0 1.50 0a0.75 0.75 0 1 0 -1.50 0M714.85 413.90a0.75 0.75 0 1 0 1.50 0a0.75 0.75 0 1 0 -1.50 0M715.85 416.40a0.75 0.75 0 1 0 1.50 0a0.75 0.75 0 1 0 -1.50 0M716.85 418.90a0.75 0.75 0 1 0 1.50 0a0.75 0.75 0 1 0 -1.50 0M717.85 421.40a0.75 0.75 0 1 0 1.50 0a0.75 0.75 0 1 0 -1.50 0M718.85 423.90a0.75 0.75 0 1 0 1.50 0a0.75 0.75 0 1 0 -1.50 0M719.85 426.40a0.75 0.75 0 1 0 1.50 0a0.75 0.75 0 1 0 -1.50 0M720.85 428.90a0.75 0.75 0 1 0 1.50 0a0.75 0.75 0 1 0 -1.50 0M721.85 431.40a0.75 0.75 0 1 0 1.50 0a0.75 0.75 0 1 0 -1.50 0M722.85 433.90a0.75 0.75 0 1 0 1.50 0a0.75 0.75 0 1 0 -1.50 0M723.85 436.40a0.75 0.75 0 1 0 1.50 0a0.75 0.75 0 1 0 -1.50 0M724.85 438.90a0.75 0.75 0 1 0 1.50 0a0.75 0.75 0 1 0 -1.50 0M725.85 441.40a0.75 0.75 0 1 0 1.50 0a0.75 0.75 0 1 0 -1.50 0M726.85 443.90a0.75 0.75 0 1 0 1.50 0a0.75 0.75 0 1 0 -1.50 0M727.85 446.40a0.75 0.75 0 1 0 1.50 0a0.75 0.75 0 1 0 -1.50 0M705.35 382.90a0.75 0.75 0 1 0 1.50 0a0.75 0.75 0 1 0 -1.50 0M706.35 385.40a0.75 0.75 0 1 0 1.50 0a0.75 0.75 0 1 0 -1.50 0M707.35 387.90a0.75 0.75 0 1 0 1.50 0a0.75 0.75 0 1 0 -1.50 0M708.35 390.40a0.75 0.75 0 1 0 1.50 0a0.75 0.75 0 1 0 -1.50 0M709.35 392.90a0.75 0.75 0 1 0 1.50 0a0.75 0.75 0 1 0 -1.50 0M710.35 395.40a0.75 0.75 0 1 0 1.50 0a0.75 0.75 0 1 0 -1.50 0M711.35 397.90a0.75 0.75 0 1 0 1.50 0a0.75 0.75 0 1 0 -1.50 0M712.35 400.40a0.75 0.75 0 1 0 1.50 0a0.75 0.75 0 1 0 -1.50 0M713.35 402.90a0.75 0.75 0 1 0 1.50 0a0.75 0.75 0 1 0 -1.50 0M714.35 405.40a0.75 0.75 0 1 0 1.50 0a0.75 0.75 0 1 0 -1.50 0M715.35 407.90a0.75 0.75 0 1 0 1.50 0a0.75 0.75 0 1 0 -1.50 0M716.35 410.40a0.75 0.75 0 1 0 1.50 0a0.75 0.75 0 1 0 -1.50 0M717.35 412.90a0.75 0.75 0 1 0 1.50 0a0.75 0.75 0 1 0 -1.50 0M718.35 415.40a0.75 0.75 0 1 0 1.50 0a0.75 0.75 0 1 0 -1.50 0M719.35 417.90a0.75 0.75 0 1 0 1.50 0a0.75 0.75 0 1 0 -1.50 0M720.35 420.40a0.75 0.75 0 1 0 1.50 0a0.75 0.75 0 1 0 -1.50 0M721.35 422.90a0.75 0.75 0 1 0 1.50 0a0.75 0.75 0 1 0 -1.50 0M722.35 425.40a0.75 0.75 0 1 0 1.50 0a0.75 0.75 0 1 0 -1.50 0M723.35 427.90a0.75 0.75 0 1 0 1.50 0a0.75 0.75 0 1 0 -1.50 0M724.35 430.40a0.75 0.75 0 1 0 1.50 0a0.75 0.75 0 1 0 -1.50 0M725.35 432.90a0.75 0.75 0 1 0 1.50 0a0.75 0.75 0 1 0 -1.50 0M726.35 435.40a0.75 0.75 0 1 0 1.50 0a0.75 0.75 0 1 0 -1.50 0M727.35 437.90a0.75 0.75 0 1 0 1.50 0a0.75 0.75 0 1 0 -1.50 0M728.35 440.40a0.75 0.75 0 1 0 1.50 0a0.75 0.75 0 1 0 -1.50 0M729.35 442.90a0.75 0.75 0 1 0 1.50 0a0.75 0.75 0 1 0 -1.50 0M730.35 445.40a0.75 0.75 0 1 0 1.50 0a0.75 0.75 0 1 0 -1.50 0M707.85 381.90a0.75 0.75 0 1 0 1.50 0a0.75 0.75 0 1 0 -1.50 0M708.85 384.40a0.75 0.75 0 1 0 1.50 0a0.75 0.75 0 1 0 -1.50 0M709.85 386.90a0.75 0.75 0 1 0 1.50 0a0.75 0.75 0 1 0 -1.50 0M710.85 389.40a0.75 0.75 0 1 0 1.50 0a0.75 0.75 0 1 0 -1.50 0M711.85 391.90a0.75 0.75 0 1 0 1.50 0a0.75 0.75 0 1 0 -1.50 0M712.85 394.40a0.75 0.75 0 1 0 1.50 0a0.75 0.75 0 1 0 -1.50 0M713.85 396.90a0.75 0.75 0 1 0 1.50 0a0.75 0.75 0 1 0 -1.50 0M714.85 399.40a0.75 0.75 0 1 0 1.50 0a0.75 0.75 0 1 0 -1.50 0M715.85 401.90a0.75 0.75 0 1 0 1.50 0a0.75 0.75 0 1 0 -1.50 0M716.85 404.40a0.75 0.75 0 1 0 1.50 0a0.75 0.75 0 1 0 -1.50 0M717.85 406.90a0.75 0.75 0 1 0 1.50 0a0.75 0.75 0 1 0 -1.50 0M718.85 409.40a0.75 0.75 0 1 0 1.50 0a0.75 0.75 0 1 0 -1.50 0M719.85 411.90a0.75 0.75 0 1 0 1.50 0a0.75 0.75 0 1 0 -1.50 0M720.85 414.40a0.75 0.75 0 1 0 1.50 0a0.75 0.75 0 1 0 -1.50 0M721.85 416.90a0.75 0.75 0 1 0 1.50 0a0.75 0.75 0 1 0 -1.50 0M722.85 419.40a0.75 0.75 0 1 0 1.50 0a0.75 0.75 0 1 0 -1.50 0M723.85 421.90a0.75 0.75 0 1 0 1.50 0a0.75 0.75 0 1 0 -1.50 0M724.85 424.40a0.75 0.75 0 1 0 1.50 0a0.75 0.75 0 1 0 -1.50 0M725.85 426.90a0.75 0.75 0 1 0 1.50 0a0.75 0.75 0 1 0 -1.50 0M726.85 429.40a0.75 0.75 0 1 0 1.50 0a0.75 0.75 0 1 0 -1.50 0M727.85 431.90a0.75 0.75 0 1 0 1.50 0a0.75 0.75 0 1 0 -1.50 0M728.85 434.40a0.75 0.75 0 1 0 1.50 0a0.75 0.75 0 1 0 -1.50 0M729.85 436.90a0.75 0.75 0 1 0 1.50 0a0.75 0.75 0 1 0 -1.50 0M730.85 439.40a0.75 0.75 0 1 0 1.50 0a0.75 0.75 0 1 0 -1.50 0M731.85 441.90a0.75 0.75 0 1 0 1.50 0a0.75 0.75 0 1 0 -1.50 0M732.85 444.40a0.75 0.75 0 1 0 1.50 0a0.75 0.75 0 1 0 -1.50 0M733.85 446.90a0.75 0.75 0 1 0 1.50 0a0.75 0.75 0 1 0 -1.50 0M710.35 380.90a0.75 0.75 0 1 0 1.50 0a0.75 0.75 0 1 0 -1.50 0M711.35 383.40a0.75 0.75 0 1 0 1.50 0a0.75 0.75 0 1 0 -1.50 0M712.35 385.90a0.75 0.75 0 1 0 1.50 0a0.75 0.75 0 1 0 -1.50 0M713.35 388.40a0.75 0.75 0 1 0 1.50 0a0.75 0.75 0 1 0 -1.50 0M714.35 390.90a0.75 0.75 0 1 0 1.50 0a0.75 0.75 0 1 0 -1.50 0M715.35 393.40a0.75 0.75 0 1 0 1.50 0a0.75 0.75 0 1 0 -1.50 0M716.35 395.90a0.75 0.75 0 1 0 1.50 0a0.75 0.75 0 1 0 -1.50 0M717.35 398.40a0.75 0.75 0 1 0 1.50 0a0.75 0.75 0 1 0 -1.50 0M718.35 400.90a0.75 0.75 0 1 0 1.50 0a0.75 0.75 0 1 0 -1.50 0M719.35 403.40a0.75 0.75 0 1 0 1.50 0a0.75 0.75 0 1 0 -1.50 0M720.35 405.90a0.75 0.75 0 1 0 1.50 0a0.75 0.75 0 1 0 -1.50 0M721.35 408.40a0.75 0.75 0 1 0 1.50 0a0.75 0.75 0 1 0 -1.50 0M722.35 410.90a0.75 0.75 0 1 0 1.50 0a0.75 0.75 0 1 0 -1.50 0M723.35 413.40a0.75 0.75 0 1 0 1.50 0a0.75 0.75 0 1 0 -1.50 0M724.35 415.90a0.75 0.75 0 1 0 1.50 0a0.75 0.75 0 1 0 -1.50 0M725.35 418.40a0.75 0.75 0 1 0 1.50 0a0.75 0.75 0 1 0 -1.50 0M726.35 420.90a0.75 0.75 0 1 0 1.50 0a0.75 0.75 0 1 0 -1.50 0M727.35 423.40a0.75 0.75 0 1 0 1.50 0a0.75 0.75 0 1 0 -1.50 0M728.35 425.90a0.75 0.75 0 1 0 1.50 0a0.75 0.75 0 1 0 -1.50 0M729.35 428.40a0.75 0.75 0 1 0 1.50 0a0.75 0.75 0 1 0 -1.50 0M730.35 430.90a0.75 0.75 0 1 0 1.50 0a0.75 0.75 0 1 0 -1.50 0M731.35 433.40a0.75 0.75 0 1 0 1.50 0a0.75 0.75 0 1 0 -1.50 0M732.35 435.90a0.75 0.75 0 1 0 1.50 0a0.75 0.75 0 1 0 -1.50 0M733.35 438.40a0.75 0.75 0 1 0 1.50 0a0.75 0.75 0 1 0 -1.50 0M734.35 440.90a0.75 0.75 0 1 0 1.50 0a0.75 0.75 0 1 0 -1.50 0M735.35 443.40a0.75 0.75 0 1 0 1.50 0a0.75 0.75 0 1 0 -1.50 0M736.35 445.90a0.75 0.75 0 1 0 1.50 0a0.75 0.75 0 1 0 -1.50 0M713.85 382.40a0.75 0.75 0 1 0 1.50 0a0.75 0.75 0 1 0 -1.50 0M714.85 384.90a0.75 0.75 0 1 0 1.50 0a0.75 0.75 0 1 0 -1.50 0M715.85 387.40a0.75 0.75 0 1 0 1.50 0a0.75 0.75 0 1 0 -1.50 0M716.85 389.90a0.75 0.75 0 1 0 1.50 0a0.75 0.75 0 1 0 -1.50 0M717.85 392.40a0.75 0.75 0 1 0 1.50 0a0.75 0.75 0 1 0 -1.50 0M718.85 394.90a0.75 0.75 0 1 0 1.50 0a0.75 0.75 0 1 0 -1.50 0M719.85 397.40a0.75 0.75 0 1 0 1.50 0a0.75 0.75 0 1 0 -1.50 0M720.85 399.90a0.75 0.75 0 1 0 1.50 0a0.75 0.75 0 1 0 -1.50 0M721.85 402.40a0.75 0.75 0 1 0 1.50 0a0.75 0.75 0 1 0 -1.50 0M722.85 404.90a0.75 0.75 0 1 0 1.50 0a0.75 0.75 0 1 0 -1.50 0M723.85 407.40a0.75 0.75 0 1 0 1.50 0a0.75 0.75 0 1 0 -1.50 0M724.85 409.90a0.75 0.75 0 1 0 1.50 0a0.75 0.75 0 1 0 -1.50 0M725.85 412.40a0.75 0.75 0 1 0 1.50 0a0.75 0.75 0 1 0 -1.50 0M726.85 414.90a0.75 0.75 0 1 0 1.50 0a0.75 0.75 0 1 0 -1.50 0M727.85 417.40a0.75 0.75 0 1 0 1.50 0a0.75 0.75 0 1 0 -1.50 0M728.85 419.90a0.75 0.75 0 1 0 1.50 0a0.75 0.75 0 1 0 -1.50 0M729.85 422.40a0.75 0.75 0 1 0 1.50 0a0.75 0.75 0 1 0 -1.50 0M730.85 424.90a0.75 0.75 0 1 0 1.50 0a0.75 0.75 0 1 0 -1.50 0M731.85 427.40a0.75 0.75 0 1 0 1.50 0a0.75 0.75 0 1 0 -1.50 0M732.85 429.90a0.75 0.75 0 1 0 1.50 0a0.75 0.75 0 1 0 -1.50 0M733.85 432.40a0.75 0.75 0 1 0 1.50 0a0.75 0.75 0 1 0 -1.50 0M734.85 434.90a0.75 0.75 0 1 0 1.50 0a0.75 0.75 0 1 0 -1.50 0M735.85 437.40a0.75 0.75 0 1 0 1.50 0a0.75 0.75 0 1 0 -1.50 0M736.85 439.90a0.75 0.75 0 1 0 1.50 0a0.75 0.75 0 1 0 -1.50 0M716.35 381.40a0.75 0.75 0 1 0 1.50 0a0.75 0.75 0 1 0 -1.50 0M717.35 383.90a0.75 0.75 0 1 0 1.50 0a0.75 0.75 0 1 0 -1.50 0M718.35 386.40a0.75 0.75 0 1 0 1.50 0a0.75 0.75 0 1 0 -1.50 0M719.35 388.90a0.75 0.75 0 1 0 1.50 0a0.75 0.75 0 1 0 -1.50 0M720.35 391.40a0.75 0.75 0 1 0 1.50 0a0.75 0.75 0 1 0 -1.50 0M721.35 393.90a0.75 0.75 0 1 0 1.50 0a0.75 0.75 0 1 0 -1.50 0M722.35 396.40a0.75 0.75 0 1 0 1.50 0a0.75 0.75 0 1 0 -1.50 0M723.35 398.90a0.75 0.75 0 1 0 1.50 0a0.75 0.75 0 1 0 -1.50 0M724.35 401.40a0.75 0.75 0 1 0 1.50 0a0.75 0.75 0 1 0 -1.50 0M725.35 403.90a0.75 0.75 0 1 0 1.50 0a0.75 0.75 0 1 0 -1.50 0M726.35 406.40a0.75 0.75 0 1 0 1.50 0a0.75 0.75 0 1 0 -1.50 0M727.35 408.90a0.75 0.75 0 1 0 1.50 0a0.75 0.75 0 1 0 -1.50 0M728.35 411.40a0.75 0.75 0 1 0 1.50 0a0.75 0.75 0 1 0 -1.50 0M729.35 413.90a0.75 0.75 0 1 0 1.50 0a0.75 0.75 0 1 0 -1.50 0M730.35 416.40a0.75 0.75 0 1 0 1.50 0a0.75 0.75 0 1 0 -1.50 0M731.35 418.90a0.75 0.75 0 1 0 1.50 0a0.75 0.75 0 1 0 -1.50 0M732.35 421.40a0.75 0.75 0 1 0 1.50 0a0.75 0.75 0 1 0 -1.50 0M733.35 423.90a0.75 0.75 0 1 0 1.50 0a0.75 0.75 0 1 0 -1.50 0M734.35 426.40a0.75 0.75 0 1 0 1.50 0a0.75 0.75 0 1 0 -1.50 0M735.35 428.90a0.75 0.75 0 1 0 1.50 0a0.75 0.75 0 1 0 -1.50 0M736.35 431.40a0.75 0.75 0 1 0 1.50 0a0.75 0.75 0 1 0 -1.50 0M719.85 382.90a0.75 0.75 0 1 0 1.50 0a0.75 0.75 0 1 0 -1.50 0M720.85 385.40a0.75 0.75 0 1 0 1.50 0a0.75 0.75 0 1 0 -1.50 0M721.85 387.90a0.75 0.75 0 1 0 1.50 0a0.75 0.75 0 1 0 -1.50 0M722.85 390.40a0.75 0.75 0 1 0 1.50 0a0.75 0.75 0 1 0 -1.50 0M723.85 392.90a0.75 0.75 0 1 0 1.50 0a0.75 0.75 0 1 0 -1.50 0M724.85 395.40a0.75 0.75 0 1 0 1.50 0a0.75 0.75 0 1 0 -1.50 0M725.85 397.90a0.75 0.75 0 1 0 1.50 0a0.75 0.75 0 1 0 -1.50 0M726.85 400.40a0.75 0.75 0 1 0 1.50 0a0.75 0.75 0 1 0 -1.50 0M727.85 402.90a0.75 0.75 0 1 0 1.50 0a0.75 0.75 0 1 0 -1.50 0M728.85 405.40a0.75 0.75 0 1 0 1.50 0a0.75 0.75 0 1 0 -1.50 0M729.85 407.90a0.75 0.75 0 1 0 1.50 0a0.75 0.75 0 1 0 -1.50 0M730.85 410.40a0.75 0.75 0 1 0 1.50 0a0.75 0.75 0 1 0 -1.50 0M731.85 412.90a0.75 0.75 0 1 0 1.50 0a0.75 0.75 0 1 0 -1.50 0M732.85 415.40a0.75 0.75 0 1 0 1.50 0a0.75 0.75 0 1 0 -1.50 0M733.85 417.90a0.75 0.75 0 1 0 1.50 0a0.75 0.75 0 1 0 -1.50 0M734.85 420.40a0.75 0.75 0 1 0 1.50 0a0.75 0.75 0 1 0 -1.50 0M735.85 422.90a0.75 0.75 0 1 0 1.50 0a0.75 0.75 0 1 0 -1.50 0M736.85 425.40a0.75 0.75 0 1 0 1.50 0a0.75 0.75 0 1 0 -1.50 0M722.35 381.90a0.75 0.75 0 1 0 1.50 0a0.75 0.75 0 1 0 -1.50 0M723.35 384.40a0.75 0.75 0 1 0 1.50 0a0.75 0.75 0 1 0 -1.50 0M724.35 386.90a0.75 0.75 0 1 0 1.50 0a0.75 0.75 0 1 0 -1.50 0M725.35 389.40a0.75 0.75 0 1 0 1.50 0a0.75 0.75 0 1 0 -1.50 0M726.35 391.90a0.75 0.75 0 1 0 1.50 0a0.75 0.75 0 1 0 -1.50 0M727.35 394.40a0.75 0.75 0 1 0 1.50 0a0.75 0.75 0 1 0 -1.50 0M728.35 396.90a0.75 0.75 0 1 0 1.50 0a0.75 0.75 0 1 0 -1.50 0M729.35 399.40a0.75 0.75 0 1 0 1.50 0a0.75 0.75 0 1 0 -1.50 0M730.35 401.90a0.75 0.75 0 1 0 1.50 0a0.75 0.75 0 1 0 -1.50 0M731.35 404.40a0.75 0.75 0 1 0 1.50 0a0.75 0.75 0 1 0 -1.50 0M732.35 406.90a0.75 0.75 0 1 0 1.50 0a0.75 0.75 0 1 0 -1.50 0M733.35 409.40a0.75 0.75 0 1 0 1.50 0a0.75 0.75 0 1 0 -1.50 0M734.35 411.90a0.75 0.75 0 1 0 1.50 0a0.75 0.75 0 1 0 -1.50 0M735.35 414.40a0.75 0.75 0 1 0 1.50 0a0.75 0.75 0 1 0 -1.50 0M736.35 416.90a0.75 0.75 0 1 0 1.50 0a0.75 0.75 0 1 0 -1.50 0M724.85 380.90a0.75 0.75 0 1 0 1.50 0a0.75 0.75 0 1 0 -1.50 0M725.85 383.40a0.75 0.75 0 1 0 1.50 0a0.75 0.75 0 1 0 -1.50 0M726.85 385.90a0.75 0.75 0 1 0 1.50 0a0.75 0.75 0 1 0 -1.50 0M727.85 388.40a0.75 0.75 0 1 0 1.50 0a0.75 0.75 0 1 0 -1.50 0M728.85 390.90a0.75 0.75 0 1 0 1.50 0a0.75 0.75 0 1 0 -1.50 0M729.85 393.40a0.75 0.75 0 1 0 1.50 0a0.75 0.75 0 1 0 -1.50 0M730.85 395.90a0.75 0.75 0 1 0 1.50 0a0.75 0.75 0 1 0 -1.50 0M731.85 398.40a0.75 0.75 0 1 0 1.50 0a0.75 0.75 0 1 0 -1.50 0M732.85 400.90a0.75 0.75 0 1 0 1.50 0a0.75 0.75 0 1 0 -1.50 0M733.85 403.40a0.75 0.75 0 1 0 1.50 0a0.75 0.75 0 1 0 -1.50 0M734.85 405.90a0.75 0.75 0 1 0 1.50 0a0.75 0.75 0 1 0 -1.50 0M735.85 408.40a0.75 0.75 0 1 0 1.50 0a0.75 0.75 0 1 0 -1.50 0M736.85 410.90a0.75 0.75 0 1 0 1.50 0a0.75 0.75 0 1 0 -1.50 0M728.35 382.40a0.75 0.75 0 1 0 1.50 0a0.75 0.75 0 1 0 -1.50 0M729.35 384.90a0.75 0.75 0 1 0 1.50 0a0.75 0.75 0 1 0 -1.50 0M730.35 387.40a0.75 0.75 0 1 0 1.50 0a0.75 0.75 0 1 0 -1.50 0M731.35 389.90a0.75 0.75 0 1 0 1.50 0a0.75 0.75 0 1 0 -1.50 0M732.35 392.40a0.75 0.75 0 1 0 1.50 0a0.75 0.75 0 1 0 -1.50 0M733.35 394.90a0.75 0.75 0 1 0 1.50 0a0.75 0.75 0 1 0 -1.50 0M734.35 397.40a0.75 0.75 0 1 0 1.50 0a0.75 0.75 0 1 0 -1.50 0M735.35 399.90a0.75 0.75 0 1 0 1.50 0a0.75 0.75 0 1 0 -1.50 0M736.35 402.40a0.75 0.75 0 1 0 1.50 0a0.75 0.75 0 1 0 -1.50 0M730.85 381.40a0.75 0.75 0 1 0 1.50 0a0.75 0.75 0 1 0 -1.50 0M731.85 383.90a0.75 0.75 0 1 0 1.50 0a0.75 0.75 0 1 0 -1.50 0M732.85 386.40a0.75 0.75 0 1 0 1.50 0a0.75 0.75 0 1 0 -1.50 0M733.85 388.90a0.75 0.75 0 1 0 1.50 0a0.75 0.75 0 1 0 -1.50 0M734.85 391.40a0.75 0.75 0 1 0 1.50 0a0.75 0.75 0 1 0 -1.50 0M735.85 393.90a0.75 0.75 0 1 0 1.50 0a0.75 0.75 0 1 0 -1.50 0M736.85 396.40a0.75 0.75 0 1 0 1.50 0a0.75 0.75 0 1 0 -1.50 0M734.35 382.90a0.75 0.75 0 1 0 1.50 0a0.75 0.75 0 1 0 -1.50 0M735.35 385.40a0.75 0.75 0 1 0 1.50 0a0.75 0.75 0 1 0 -1.50 0M736.35 387.90a0.75 0.75 0 1 0 1.50 0a0.75 0.75 0 1 0 -1.50 0M736.85 381.90a0.75 0.75 0 1 0 1.50 0a0.75 0.75 0 1 0 -1.50 0"/></g>
</g>
<g filter="url(#blm)">
<rect x="476.1" y="381.4" width="8.2" height="11.4" fill="#fff"/>
<text x="480.2" y="389.8" font-size="6.6" fill="#222" stroke="#222" stroke-width="0.18" font-weight="700" text-anchor="middle" >b</text>
<rect x="563.3" y="381.4" width="8.2" height="11.4" fill="#fff"/>
<text x="567.4" y="389.8" font-size="6.6" fill="#222" stroke="#222" stroke-width="0.18" font-weight="700" text-anchor="middle" >c</text>
<rect x="650.1" y="381.4" width="8.2" height="11.4" fill="#fff"/>
<text x="654.2" y="389.8" font-size="6.6" fill="#222" stroke="#222" stroke-width="0.18" font-weight="700" text-anchor="middle" >d</text>
<rect x="529.2" y="434.8" width="25.1" height="1.1" fill="#f6f6f6"/>
<text x="541.8" y="442.1" font-size="5.2" fill="#f6f6f6" stroke="#f6f6f6" stroke-width="0.18" font-weight="700" text-anchor="middle" textLength="17.6" lengthAdjust="spacingAndGlyphs" >100 μm</text>
<rect x="615.1" y="434.8" width="25.8" height="1.1" fill="#f6f6f6"/>
<text x="628.0" y="442.1" font-size="5.2" fill="#f6f6f6" stroke="#f6f6f6" stroke-width="0.18" font-weight="700" text-anchor="middle" textLength="17.6" lengthAdjust="spacingAndGlyphs" >100 μm</text>
<rect x="703.4" y="435.2" width="24.5" height="1.1" fill="#f6f6f6"/>
<text x="715.6" y="442.5" font-size="5.2" fill="#f6f6f6" stroke="#f6f6f6" stroke-width="0.18" font-weight="700" text-anchor="middle" textLength="17.6" lengthAdjust="spacingAndGlyphs" >100 μm</text>
<text x="508.6" y="456.2" font-size="6.0" fill="#2a2a2a" stroke="#2a2a2a" stroke-width="0.15" font-weight="400" text-anchor="start" textLength="21.2" lengthAdjust="spacingAndGlyphs" >C-PVDF</text>
<text x="591.0" y="456.2" font-size="6.0" fill="#2a2a2a" stroke="#2a2a2a" stroke-width="0.15" font-weight="400" text-anchor="start" textLength="28.2" lengthAdjust="spacingAndGlyphs" >MP-PVDF</text>
<text x="678.6" y="457.5" font-size="6.0" fill="#2a2a2a" stroke="#2a2a2a" stroke-width="0.15" font-weight="400" text-anchor="start" textLength="45.6" lengthAdjust="spacingAndGlyphs" >SiNPs-MP-PVDF</text>
</g>
</svg>
</body></html>
